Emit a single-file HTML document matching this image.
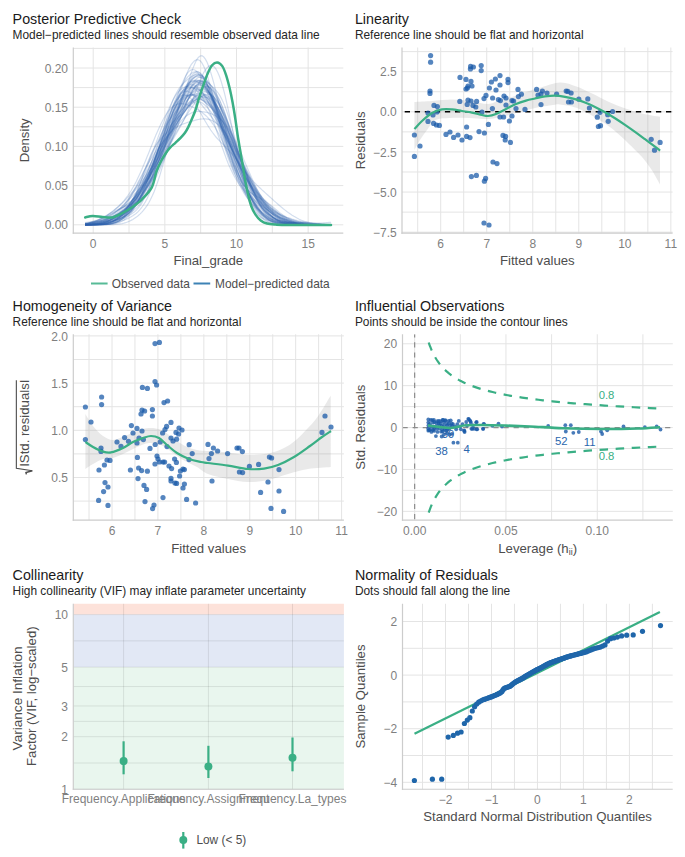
<!DOCTYPE html>
<html><head><meta charset="utf-8"><style>html,body{margin:0;padding:0;background:#fff;overflow:hidden;font-family:"Liberation Sans",sans-serif;} svg{display:block;}</style></head>
<body><svg width="685" height="857" viewBox="0 0 685 857" font-family="&quot;Liberation Sans&quot;, sans-serif"><text x="12.60" y="23.60" font-size="14.3" fill="#1a1a1a" text-anchor="start" >Posterior Predictive Check</text>
<text x="12.60" y="38.80" font-size="11.9" fill="#262626" text-anchor="start" >Model−predicted lines should resemble observed data line</text>
<text x="354.90" y="23.60" font-size="14.3" fill="#1a1a1a" text-anchor="start" >Linearity</text>
<text x="354.90" y="38.80" font-size="11.9" fill="#262626" text-anchor="start" >Reference line should be flat and horizontal</text>
<text x="12.60" y="310.60" font-size="14.3" fill="#1a1a1a" text-anchor="start" >Homogeneity of Variance</text>
<text x="12.60" y="325.80" font-size="11.9" fill="#262626" text-anchor="start" >Reference line should be flat and horizontal</text>
<text x="354.90" y="310.60" font-size="14.3" fill="#1a1a1a" text-anchor="start" >Influential Observations</text>
<text x="354.90" y="325.80" font-size="11.9" fill="#262626" text-anchor="start" >Points should be inside the contour lines</text>
<text x="12.60" y="580.00" font-size="14.3" fill="#1a1a1a" text-anchor="start" >Collinearity</text>
<text x="12.60" y="595.20" font-size="11.9" fill="#262626" text-anchor="start" >High collinearity (VIF) may inflate parameter uncertainty</text>
<text x="354.90" y="580.00" font-size="14.3" fill="#1a1a1a" text-anchor="start" >Normality of Residuals</text>
<text x="354.90" y="595.20" font-size="11.9" fill="#262626" text-anchor="start" >Dots should fall along the line</text>
<rect x="73.3" y="603.75" width="270.59999999999997" height="10.849999999999909" fill="#fde2da"/>
<rect x="73.3" y="614.5999999999999" width="270.59999999999997" height="52.589940242497505" fill="#e2e8f5"/>
<rect x="73.3" y="667.1899402424974" width="270.59999999999997" height="122.06005975750259" fill="#e9f6ee"/>
<line x1="73.30" y1="205.20" x2="343.30" y2="205.20" stroke="#e4e4e4" stroke-width="1" />
<line x1="73.30" y1="166.00" x2="343.30" y2="166.00" stroke="#e4e4e4" stroke-width="1" />
<line x1="73.30" y1="126.80" x2="343.30" y2="126.80" stroke="#e4e4e4" stroke-width="1" />
<line x1="73.30" y1="87.60" x2="343.30" y2="87.60" stroke="#e4e4e4" stroke-width="1" />
<line x1="73.30" y1="48.40" x2="343.30" y2="48.40" stroke="#e4e4e4" stroke-width="1" />
<line x1="73.30" y1="224.80" x2="343.30" y2="224.80" stroke="#e4e4e4" stroke-width="1" />
<line x1="73.30" y1="185.60" x2="343.30" y2="185.60" stroke="#e4e4e4" stroke-width="1" />
<line x1="73.30" y1="146.40" x2="343.30" y2="146.40" stroke="#e4e4e4" stroke-width="1" />
<line x1="73.30" y1="107.20" x2="343.30" y2="107.20" stroke="#e4e4e4" stroke-width="1" />
<line x1="73.30" y1="68.00" x2="343.30" y2="68.00" stroke="#e4e4e4" stroke-width="1" />
<line x1="129.03" y1="47.50" x2="129.03" y2="233.20" stroke="#e4e4e4" stroke-width="1" />
<line x1="200.68" y1="47.50" x2="200.68" y2="233.20" stroke="#e4e4e4" stroke-width="1" />
<line x1="272.32" y1="47.50" x2="272.32" y2="233.20" stroke="#e4e4e4" stroke-width="1" />
<line x1="93.20" y1="47.50" x2="93.20" y2="233.20" stroke="#e4e4e4" stroke-width="1" />
<line x1="164.85" y1="47.50" x2="164.85" y2="233.20" stroke="#e4e4e4" stroke-width="1" />
<line x1="236.50" y1="47.50" x2="236.50" y2="233.20" stroke="#e4e4e4" stroke-width="1" />
<line x1="308.15" y1="47.50" x2="308.15" y2="233.20" stroke="#e4e4e4" stroke-width="1" />
<line x1="402.00" y1="212.11" x2="672.60" y2="212.11" stroke="#e4e4e4" stroke-width="1" />
<line x1="402.00" y1="171.99" x2="672.60" y2="171.99" stroke="#e4e4e4" stroke-width="1" />
<line x1="402.00" y1="131.86" x2="672.60" y2="131.86" stroke="#e4e4e4" stroke-width="1" />
<line x1="402.00" y1="91.74" x2="672.60" y2="91.74" stroke="#e4e4e4" stroke-width="1" />
<line x1="402.00" y1="51.61" x2="672.60" y2="51.61" stroke="#e4e4e4" stroke-width="1" />
<line x1="402.00" y1="232.18" x2="672.60" y2="232.18" stroke="#e4e4e4" stroke-width="1" />
<line x1="402.00" y1="192.05" x2="672.60" y2="192.05" stroke="#e4e4e4" stroke-width="1" />
<line x1="402.00" y1="151.93" x2="672.60" y2="151.93" stroke="#e4e4e4" stroke-width="1" />
<line x1="402.00" y1="111.80" x2="672.60" y2="111.80" stroke="#e4e4e4" stroke-width="1" />
<line x1="402.00" y1="71.67" x2="672.60" y2="71.67" stroke="#e4e4e4" stroke-width="1" />
<line x1="417.69" y1="47.50" x2="417.69" y2="233.20" stroke="#e4e4e4" stroke-width="1" />
<line x1="463.71" y1="47.50" x2="463.71" y2="233.20" stroke="#e4e4e4" stroke-width="1" />
<line x1="509.75" y1="47.50" x2="509.75" y2="233.20" stroke="#e4e4e4" stroke-width="1" />
<line x1="555.77" y1="47.50" x2="555.77" y2="233.20" stroke="#e4e4e4" stroke-width="1" />
<line x1="601.81" y1="47.50" x2="601.81" y2="233.20" stroke="#e4e4e4" stroke-width="1" />
<line x1="647.84" y1="47.50" x2="647.84" y2="233.20" stroke="#e4e4e4" stroke-width="1" />
<line x1="440.70" y1="47.50" x2="440.70" y2="233.20" stroke="#e4e4e4" stroke-width="1" />
<line x1="486.73" y1="47.50" x2="486.73" y2="233.20" stroke="#e4e4e4" stroke-width="1" />
<line x1="532.76" y1="47.50" x2="532.76" y2="233.20" stroke="#e4e4e4" stroke-width="1" />
<line x1="578.79" y1="47.50" x2="578.79" y2="233.20" stroke="#e4e4e4" stroke-width="1" />
<line x1="624.82" y1="47.50" x2="624.82" y2="233.20" stroke="#e4e4e4" stroke-width="1" />
<line x1="670.85" y1="47.50" x2="670.85" y2="233.20" stroke="#e4e4e4" stroke-width="1" />
<line x1="73.30" y1="501.10" x2="343.90" y2="501.10" stroke="#e4e4e4" stroke-width="1" />
<line x1="73.30" y1="453.90" x2="343.90" y2="453.90" stroke="#e4e4e4" stroke-width="1" />
<line x1="73.30" y1="406.70" x2="343.90" y2="406.70" stroke="#e4e4e4" stroke-width="1" />
<line x1="73.30" y1="359.50" x2="343.90" y2="359.50" stroke="#e4e4e4" stroke-width="1" />
<line x1="73.30" y1="477.50" x2="343.90" y2="477.50" stroke="#e4e4e4" stroke-width="1" />
<line x1="73.30" y1="430.30" x2="343.90" y2="430.30" stroke="#e4e4e4" stroke-width="1" />
<line x1="73.30" y1="383.10" x2="343.90" y2="383.10" stroke="#e4e4e4" stroke-width="1" />
<line x1="73.30" y1="335.90" x2="343.90" y2="335.90" stroke="#e4e4e4" stroke-width="1" />
<line x1="89.04" y1="334.25" x2="89.04" y2="520.20" stroke="#e4e4e4" stroke-width="1" />
<line x1="134.96" y1="334.25" x2="134.96" y2="520.20" stroke="#e4e4e4" stroke-width="1" />
<line x1="180.88" y1="334.25" x2="180.88" y2="520.20" stroke="#e4e4e4" stroke-width="1" />
<line x1="226.80" y1="334.25" x2="226.80" y2="520.20" stroke="#e4e4e4" stroke-width="1" />
<line x1="272.72" y1="334.25" x2="272.72" y2="520.20" stroke="#e4e4e4" stroke-width="1" />
<line x1="318.64" y1="334.25" x2="318.64" y2="520.20" stroke="#e4e4e4" stroke-width="1" />
<line x1="112.00" y1="334.25" x2="112.00" y2="520.20" stroke="#e4e4e4" stroke-width="1" />
<line x1="157.92" y1="334.25" x2="157.92" y2="520.20" stroke="#e4e4e4" stroke-width="1" />
<line x1="203.84" y1="334.25" x2="203.84" y2="520.20" stroke="#e4e4e4" stroke-width="1" />
<line x1="249.76" y1="334.25" x2="249.76" y2="520.20" stroke="#e4e4e4" stroke-width="1" />
<line x1="295.68" y1="334.25" x2="295.68" y2="520.20" stroke="#e4e4e4" stroke-width="1" />
<line x1="341.60" y1="334.25" x2="341.60" y2="520.20" stroke="#e4e4e4" stroke-width="1" />
<line x1="402.50" y1="490.40" x2="672.80" y2="490.40" stroke="#e4e4e4" stroke-width="1" />
<line x1="402.50" y1="448.50" x2="672.80" y2="448.50" stroke="#e4e4e4" stroke-width="1" />
<line x1="402.50" y1="406.60" x2="672.80" y2="406.60" stroke="#e4e4e4" stroke-width="1" />
<line x1="402.50" y1="364.70" x2="672.80" y2="364.70" stroke="#e4e4e4" stroke-width="1" />
<line x1="402.50" y1="511.35" x2="672.80" y2="511.35" stroke="#e4e4e4" stroke-width="1" />
<line x1="402.50" y1="469.45" x2="672.80" y2="469.45" stroke="#e4e4e4" stroke-width="1" />
<line x1="402.50" y1="427.55" x2="672.80" y2="427.55" stroke="#e4e4e4" stroke-width="1" />
<line x1="402.50" y1="385.65" x2="672.80" y2="385.65" stroke="#e4e4e4" stroke-width="1" />
<line x1="402.50" y1="343.75" x2="672.80" y2="343.75" stroke="#e4e4e4" stroke-width="1" />
<line x1="460.30" y1="334.25" x2="460.30" y2="520.20" stroke="#e4e4e4" stroke-width="1" />
<line x1="551.60" y1="334.25" x2="551.60" y2="520.20" stroke="#e4e4e4" stroke-width="1" />
<line x1="642.90" y1="334.25" x2="642.90" y2="520.20" stroke="#e4e4e4" stroke-width="1" />
<line x1="414.65" y1="334.25" x2="414.65" y2="520.20" stroke="#e4e4e4" stroke-width="1" />
<line x1="505.95" y1="334.25" x2="505.95" y2="520.20" stroke="#e4e4e4" stroke-width="1" />
<line x1="597.25" y1="334.25" x2="597.25" y2="520.20" stroke="#e4e4e4" stroke-width="1" />
<line x1="73.30" y1="789.30" x2="343.90" y2="789.30" stroke="#000" stroke-width="1" stroke-opacity="0.09"/>
<line x1="73.30" y1="736.71" x2="343.90" y2="736.71" stroke="#000" stroke-width="1" stroke-opacity="0.09"/>
<line x1="73.30" y1="705.95" x2="343.90" y2="705.95" stroke="#000" stroke-width="1" stroke-opacity="0.09"/>
<line x1="73.30" y1="667.19" x2="343.90" y2="667.19" stroke="#000" stroke-width="1" stroke-opacity="0.09"/>
<line x1="73.30" y1="614.60" x2="343.90" y2="614.60" stroke="#000" stroke-width="1" stroke-opacity="0.09"/>
<line x1="73.30" y1="763.01" x2="343.90" y2="763.01" stroke="#000" stroke-width="1" stroke-opacity="0.09"/>
<line x1="73.30" y1="721.33" x2="343.90" y2="721.33" stroke="#000" stroke-width="1" stroke-opacity="0.09"/>
<line x1="73.30" y1="686.57" x2="343.90" y2="686.57" stroke="#000" stroke-width="1" stroke-opacity="0.09"/>
<line x1="73.30" y1="640.89" x2="343.90" y2="640.89" stroke="#000" stroke-width="1" stroke-opacity="0.09"/>
<line x1="123.60" y1="603.75" x2="123.60" y2="789.25" stroke="#000" stroke-width="1" stroke-opacity="0.09"/>
<line x1="208.40" y1="603.75" x2="208.40" y2="789.25" stroke="#000" stroke-width="1" stroke-opacity="0.09"/>
<line x1="292.50" y1="603.75" x2="292.50" y2="789.25" stroke="#000" stroke-width="1" stroke-opacity="0.09"/>
<line x1="402.50" y1="755.50" x2="672.70" y2="755.50" stroke="#e4e4e4" stroke-width="1" />
<line x1="402.50" y1="701.90" x2="672.70" y2="701.90" stroke="#e4e4e4" stroke-width="1" />
<line x1="402.50" y1="648.30" x2="672.70" y2="648.30" stroke="#e4e4e4" stroke-width="1" />
<line x1="402.50" y1="782.30" x2="672.70" y2="782.30" stroke="#e4e4e4" stroke-width="1" />
<line x1="402.50" y1="728.70" x2="672.70" y2="728.70" stroke="#e4e4e4" stroke-width="1" />
<line x1="402.50" y1="675.10" x2="672.70" y2="675.10" stroke="#e4e4e4" stroke-width="1" />
<line x1="402.50" y1="621.50" x2="672.70" y2="621.50" stroke="#e4e4e4" stroke-width="1" />
<line x1="422.50" y1="603.75" x2="422.50" y2="789.25" stroke="#e4e4e4" stroke-width="1" />
<line x1="468.48" y1="603.75" x2="468.48" y2="789.25" stroke="#e4e4e4" stroke-width="1" />
<line x1="514.46" y1="603.75" x2="514.46" y2="789.25" stroke="#e4e4e4" stroke-width="1" />
<line x1="560.44" y1="603.75" x2="560.44" y2="789.25" stroke="#e4e4e4" stroke-width="1" />
<line x1="606.42" y1="603.75" x2="606.42" y2="789.25" stroke="#e4e4e4" stroke-width="1" />
<line x1="652.40" y1="603.75" x2="652.40" y2="789.25" stroke="#e4e4e4" stroke-width="1" />
<line x1="445.49" y1="603.75" x2="445.49" y2="789.25" stroke="#e4e4e4" stroke-width="1" />
<line x1="491.47" y1="603.75" x2="491.47" y2="789.25" stroke="#e4e4e4" stroke-width="1" />
<line x1="537.45" y1="603.75" x2="537.45" y2="789.25" stroke="#e4e4e4" stroke-width="1" />
<line x1="583.43" y1="603.75" x2="583.43" y2="789.25" stroke="#e4e4e4" stroke-width="1" />
<line x1="629.41" y1="603.75" x2="629.41" y2="789.25" stroke="#e4e4e4" stroke-width="1" />
<defs><clipPath id="P1"><rect x="73.3" y="47.5" width="270.0" height="185.7"/></clipPath><clipPath id="P2"><rect x="402.0" y="47.5" width="270.6" height="185.7"/></clipPath><clipPath id="P3"><rect x="73.3" y="334.25" width="270.59999999999997" height="185.95000000000005"/></clipPath><clipPath id="P4"><rect x="402.5" y="334.25" width="270.29999999999995" height="185.95000000000005"/></clipPath><clipPath id="P5"><rect x="73.3" y="603.75" width="270.59999999999997" height="185.5"/></clipPath><clipPath id="P6"><rect x="402.5" y="603.75" width="270.20000000000005" height="185.5"/></clipPath></defs>
<g clip-path="url(#P1)" fill="none" stroke="#2d62ad" stroke-opacity="0.21" stroke-width="1.2"><path d="M85.0,224.7 86.8,224.7 88.6,224.7 90.3,224.6 92.1,224.6 93.9,224.5 95.7,224.4 97.4,224.2 99.2,224.1 101.0,223.9 102.7,223.6 104.5,223.3 106.3,222.9 108.0,222.5 109.8,222.0 111.6,221.4 113.4,220.8 115.1,220.0 116.9,219.2 118.7,218.3 120.4,217.2 122.2,216.0 124.0,214.7 125.7,213.1 127.5,211.4 129.3,209.4 131.1,207.1 132.8,204.6 134.6,201.8 136.4,198.8 138.1,195.5 139.9,191.9 141.7,188.3 143.4,184.4 145.2,180.6 147.0,176.7 148.8,172.8 150.5,169.0 152.3,165.3 154.1,161.7 155.8,158.3 157.6,154.9 159.4,151.7 161.1,148.5 162.9,145.5 164.7,142.4 166.5,139.5 168.2,136.5 170.0,133.7 171.8,130.8 173.5,128.0 175.3,125.2 177.1,122.5 178.8,119.8 180.6,117.2 182.4,114.6 184.2,112.0 185.9,109.4 187.7,106.8 189.5,104.2 191.2,101.6 193.0,99.0 194.8,96.5 196.5,94.1 198.3,91.9 200.1,90.0 201.9,88.4 203.6,87.2 205.4,86.5 207.2,86.4 208.9,86.9 210.7,88.1 212.5,90.1 214.3,92.7 216.0,96.0 217.8,100.0 219.6,104.5 221.3,109.5 223.1,114.9 224.9,120.6 226.6,126.4 228.4,132.2 230.2,138.0 232.0,143.5 233.7,148.9 235.5,153.9 237.3,158.7 239.0,163.1 240.8,167.2 242.6,171.1 244.3,174.7 246.1,178.1 247.9,181.3 249.7,184.4 251.4,187.4 253.2,190.4 255.0,193.3 256.7,196.2 258.5,199.0 260.3,201.7 262.0,204.4 263.8,206.9 265.6,209.3 267.4,211.6 269.1,213.6 270.9,215.5 272.7,217.2 274.4,218.6 276.2,219.9 278.0,220.9 279.7,221.8 281.5,222.5 283.3,223.1 285.1,223.5 286.8,223.9 288.6,224.1 290.4,224.3 292.1,224.5 293.9,224.6 295.7,224.7 297.4,224.7 299.2,224.7 301.0,224.8 302.8,224.8 304.5,224.8 306.3,224.8 308.1,224.8 309.8,224.8 311.6,224.8 313.4,224.8 315.1,224.8 316.9,224.8 318.7,224.8 320.5,224.8 322.2,224.8 324.0,224.8 325.8,224.8 327.5,224.8 329.3,224.8 331.1,224.8"/><path d="M85.0,224.3 86.8,224.1 88.6,224.0 90.3,223.8 92.1,223.7 93.9,223.5 95.7,223.3 97.4,223.1 99.2,222.8 101.0,222.6 102.7,222.4 104.5,222.2 106.3,222.0 108.0,221.7 109.8,221.5 111.6,221.2 113.4,220.8 115.1,220.4 116.9,219.9 118.7,219.2 120.4,218.4 122.2,217.4 124.0,216.2 125.7,214.7 127.5,213.0 129.3,211.0 131.1,208.7 132.8,206.1 134.6,203.3 136.4,200.1 138.1,196.7 139.9,193.1 141.7,189.3 143.4,185.3 145.2,181.2 147.0,177.0 148.8,172.7 150.5,168.5 152.3,164.2 154.1,160.0 155.8,155.9 157.6,151.8 159.4,147.9 161.1,144.0 162.9,140.3 164.7,136.8 166.5,133.3 168.2,130.1 170.0,127.0 171.8,124.0 173.5,121.2 175.3,118.6 177.1,116.1 178.8,113.7 180.6,111.6 182.4,109.6 184.2,107.7 185.9,106.0 187.7,104.5 189.5,103.1 191.2,102.0 193.0,101.0 194.8,100.3 196.5,99.8 198.3,99.5 200.1,99.5 201.9,99.8 203.6,100.4 205.4,101.2 207.2,102.3 208.9,103.6 210.7,105.2 212.5,107.1 214.3,109.2 216.0,111.5 217.8,114.1 219.6,116.8 221.3,119.8 223.1,123.0 224.9,126.4 226.6,129.9 228.4,133.6 230.2,137.5 232.0,141.6 233.7,145.7 235.5,149.9 237.3,154.2 239.0,158.5 240.8,162.7 242.6,166.9 244.3,171.1 246.1,175.0 247.9,178.8 249.7,182.5 251.4,185.9 253.2,189.1 255.0,192.1 256.7,194.9 258.5,197.5 260.3,199.9 262.0,202.1 263.8,204.2 265.6,206.0 267.4,207.8 269.1,209.4 270.9,210.9 272.7,212.3 274.4,213.6 276.2,214.8 278.0,215.9 279.7,216.9 281.5,217.9 283.3,218.8 285.1,219.6 286.8,220.3 288.6,221.0 290.4,221.6 292.1,222.1 293.9,222.6 295.7,223.0 297.4,223.3 299.2,223.6 301.0,223.9 302.8,224.1 304.5,224.2 306.3,224.4 308.1,224.5 309.8,224.6 311.6,224.6 313.4,224.7 315.1,224.7 316.9,224.7 318.7,224.8 320.5,224.8 322.2,224.8 324.0,224.8 325.8,224.8 327.5,224.8 329.3,224.8 331.1,224.8"/><path d="M85.0,224.8 86.8,224.8 88.6,224.8 90.3,224.8 92.1,224.7 93.9,224.7 95.7,224.6 97.4,224.6 99.2,224.5 101.0,224.3 102.7,224.2 104.5,223.9 106.3,223.6 108.0,223.2 109.8,222.6 111.6,222.0 113.4,221.1 115.1,220.1 116.9,218.9 118.7,217.5 120.4,215.9 122.2,214.1 124.0,212.0 125.7,209.8 127.5,207.3 129.3,204.7 131.1,202.0 132.8,199.2 134.6,196.4 136.4,193.5 138.1,190.7 139.9,188.0 141.7,185.3 143.4,182.7 145.2,180.3 147.0,177.8 148.8,175.4 150.5,173.1 152.3,170.6 154.1,168.1 155.8,165.5 157.6,162.6 159.4,159.6 161.1,156.4 162.9,152.9 164.7,149.2 166.5,145.3 168.2,141.3 170.0,137.1 171.8,132.8 173.5,128.5 175.3,124.1 177.1,119.6 178.8,115.2 180.6,110.8 182.4,106.4 184.2,102.1 185.9,97.8 187.7,93.8 189.5,89.9 191.2,86.4 193.0,83.3 194.8,80.7 196.5,78.7 198.3,77.5 200.1,77.1 201.9,77.5 203.6,78.8 205.4,80.9 207.2,83.9 208.9,87.5 210.7,91.7 212.5,96.3 214.3,101.2 216.0,106.3 217.8,111.5 219.6,116.7 221.3,121.7 223.1,126.6 224.9,131.3 226.6,135.8 228.4,140.2 230.2,144.4 232.0,148.5 233.7,152.5 235.5,156.5 237.3,160.4 239.0,164.2 240.8,168.0 242.6,171.8 244.3,175.5 246.1,179.1 247.9,182.6 249.7,186.0 251.4,189.4 253.2,192.6 255.0,195.7 256.7,198.6 258.5,201.4 260.3,204.1 262.0,206.6 263.8,208.9 265.6,211.0 267.4,213.0 269.1,214.8 270.9,216.4 272.7,217.8 274.4,219.1 276.2,220.1 278.0,221.1 279.7,221.8 281.5,222.5 283.3,223.0 285.1,223.4 286.8,223.8 288.6,224.1 290.4,224.3 292.1,224.4 293.9,224.5 295.7,224.6 297.4,224.7 299.2,224.7 301.0,224.7 302.8,224.8 304.5,224.8 306.3,224.8 308.1,224.8 309.8,224.8 311.6,224.8 313.4,224.8 315.1,224.8 316.9,224.8 318.7,224.8 320.5,224.8 322.2,224.8 324.0,224.8 325.8,224.8 327.5,224.8 329.3,224.8 331.1,224.8"/><path d="M85.0,224.8 86.8,224.8 88.6,224.8 90.3,224.8 92.1,224.8 93.9,224.8 95.7,224.8 97.4,224.7 99.2,224.7 101.0,224.7 102.7,224.6 104.5,224.5 106.3,224.3 108.0,224.1 109.8,223.9 111.6,223.5 113.4,223.1 115.1,222.5 116.9,221.9 118.7,221.0 120.4,220.0 122.2,218.8 124.0,217.5 125.7,215.9 127.5,214.2 129.3,212.3 131.1,210.3 132.8,208.1 134.6,205.8 136.4,203.4 138.1,201.0 139.9,198.4 141.7,195.7 143.4,193.0 145.2,190.1 147.0,187.1 148.8,184.0 150.5,180.7 152.3,177.2 154.1,173.5 155.8,169.5 157.6,165.3 159.4,160.9 161.1,156.3 162.9,151.5 164.7,146.6 166.5,141.5 168.2,136.4 170.0,131.2 171.8,126.1 173.5,121.0 175.3,116.0 177.1,111.2 178.8,106.5 180.6,102.1 182.4,98.0 184.2,94.2 185.9,90.8 187.7,87.9 189.5,85.5 191.2,83.6 193.0,82.3 194.8,81.6 196.5,81.4 198.3,81.8 200.1,82.7 201.9,84.1 203.6,85.9 205.4,88.1 207.2,90.5 208.9,93.2 210.7,96.0 212.5,99.0 214.3,102.1 216.0,105.2 217.8,108.3 219.6,111.5 221.3,114.7 223.1,118.0 224.9,121.3 226.6,124.8 228.4,128.4 230.2,132.2 232.0,136.1 233.7,140.2 235.5,144.4 237.3,148.8 239.0,153.3 240.8,158.0 242.6,162.7 244.3,167.5 246.1,172.2 247.9,177.0 249.7,181.7 251.4,186.3 253.2,190.8 255.0,195.0 256.7,199.0 258.5,202.7 260.3,206.2 262.0,209.3 263.8,212.0 265.6,214.5 267.4,216.5 269.1,218.3 270.9,219.8 272.7,221.0 274.4,221.9 276.2,222.7 278.0,223.3 279.7,223.7 281.5,224.0 283.3,224.3 285.1,224.4 286.8,224.6 288.6,224.6 290.4,224.7 292.1,224.7 293.9,224.8 295.7,224.8 297.4,224.8 299.2,224.8 301.0,224.8 302.8,224.8 304.5,224.8 306.3,224.8 308.1,224.8 309.8,224.8 311.6,224.8 313.4,224.8 315.1,224.8 316.9,224.8 318.7,224.8 320.5,224.8 322.2,224.8 324.0,224.8 325.8,224.8 327.5,224.8 329.3,224.8 331.1,224.8"/><path d="M85.0,224.8 86.8,224.8 88.6,224.8 90.3,224.8 92.1,224.7 93.9,224.7 95.7,224.6 97.4,224.6 99.2,224.5 101.0,224.3 102.7,224.1 104.5,223.9 106.3,223.6 108.0,223.2 109.8,222.7 111.6,222.1 113.4,221.4 115.1,220.5 116.9,219.5 118.7,218.3 120.4,217.0 122.2,215.4 124.0,213.8 125.7,212.0 127.5,210.0 129.3,207.9 131.1,205.7 132.8,203.5 134.6,201.2 136.4,198.8 138.1,196.5 139.9,194.1 141.7,191.7 143.4,189.3 145.2,186.9 147.0,184.5 148.8,182.1 150.5,179.5 152.3,176.8 154.1,174.0 155.8,171.0 157.6,167.8 159.4,164.4 161.1,160.8 162.9,156.9 164.7,152.9 166.5,148.7 168.2,144.5 170.0,140.1 171.8,135.7 173.5,131.3 175.3,126.9 177.1,122.6 178.8,118.4 180.6,114.3 182.4,110.4 184.2,106.7 185.9,103.3 187.7,100.0 189.5,97.1 191.2,94.5 193.0,92.2 194.8,90.3 196.5,88.9 198.3,88.0 200.1,87.5 201.9,87.5 203.6,88.0 205.4,89.0 207.2,90.5 208.9,92.4 210.7,94.7 212.5,97.4 214.3,100.4 216.0,103.7 217.8,107.2 219.6,111.0 221.3,114.8 223.1,118.8 224.9,122.8 226.6,126.8 228.4,130.8 230.2,134.8 232.0,138.8 233.7,142.7 235.5,146.5 237.3,150.3 239.0,154.0 240.8,157.7 242.6,161.3 244.3,165.0 246.1,168.7 247.9,172.3 249.7,176.0 251.4,179.8 253.2,183.5 255.0,187.1 256.7,190.8 258.5,194.3 260.3,197.6 262.0,200.8 263.8,203.8 265.6,206.6 267.4,209.0 269.1,211.3 270.9,213.2 272.7,214.9 274.4,216.4 276.2,217.7 278.0,218.8 279.7,219.7 281.5,220.5 283.3,221.1 285.1,221.7 286.8,222.2 288.6,222.6 290.4,223.0 292.1,223.3 293.9,223.6 295.7,223.8 297.4,224.0 299.2,224.2 301.0,224.3 302.8,224.4 304.5,224.5 306.3,224.6 308.1,224.6 309.8,224.7 311.6,224.7 313.4,224.7 315.1,224.8 316.9,224.8 318.7,224.8 320.5,224.8 322.2,224.8 324.0,224.8 325.8,224.8 327.5,224.8 329.3,224.8 331.1,224.8"/><path d="M85.0,224.8 86.8,224.8 88.6,224.8 90.3,224.8 92.1,224.8 93.9,224.8 95.7,224.8 97.4,224.8 99.2,224.8 101.0,224.8 102.7,224.7 104.5,224.7 106.3,224.6 108.0,224.5 109.8,224.4 111.6,224.2 113.4,224.0 115.1,223.7 116.9,223.2 118.7,222.6 120.4,221.9 122.2,221.0 124.0,219.9 125.7,218.5 127.5,216.9 129.3,215.1 131.1,212.9 132.8,210.5 134.6,207.8 136.4,204.8 138.1,201.6 139.9,198.1 141.7,194.4 143.4,190.5 145.2,186.3 147.0,181.9 148.8,177.4 150.5,172.7 152.3,167.8 154.1,162.8 155.8,157.6 157.6,152.3 159.4,146.9 161.1,141.4 162.9,135.9 164.7,130.3 166.5,124.8 168.2,119.4 170.0,114.2 171.8,109.1 173.5,104.3 175.3,99.8 177.1,95.5 178.8,91.6 180.6,88.0 182.4,84.7 184.2,81.8 185.9,79.2 187.7,77.0 189.5,75.1 191.2,73.5 193.0,72.4 194.8,71.8 196.5,71.6 198.3,72.0 200.1,73.1 201.9,74.8 203.6,77.2 205.4,80.2 207.2,84.0 208.9,88.3 210.7,93.1 212.5,98.4 214.3,104.0 216.0,109.8 217.8,115.7 219.6,121.6 221.3,127.5 223.1,133.2 224.9,138.8 226.6,144.1 228.4,149.2 230.2,154.0 232.0,158.7 233.7,163.0 235.5,167.2 237.3,171.1 239.0,174.8 240.8,178.3 242.6,181.8 244.3,185.0 246.1,188.2 247.9,191.4 249.7,194.4 251.4,197.4 253.2,200.3 255.0,203.1 256.7,205.8 258.5,208.4 260.3,210.8 262.0,213.0 263.8,215.1 265.6,216.9 267.4,218.4 269.1,219.8 270.9,220.9 272.7,221.8 274.4,222.6 276.2,223.2 278.0,223.6 279.7,224.0 281.5,224.2 283.3,224.4 285.1,224.5 286.8,224.6 288.6,224.7 290.4,224.7 292.1,224.8 293.9,224.8 295.7,224.8 297.4,224.8 299.2,224.8 301.0,224.8 302.8,224.8 304.5,224.8 306.3,224.8 308.1,224.8 309.8,224.8 311.6,224.8 313.4,224.8 315.1,224.8 316.9,224.8 318.7,224.8 320.5,224.8 322.2,224.8 324.0,224.8 325.8,224.8 327.5,224.8 329.3,224.8 331.1,224.8"/><path d="M85.0,224.7 86.8,224.7 88.6,224.6 90.3,224.6 92.1,224.5 93.9,224.4 95.7,224.2 97.4,224.0 99.2,223.7 101.0,223.4 102.7,223.0 104.5,222.5 106.3,221.9 108.0,221.2 109.8,220.4 111.6,219.5 113.4,218.4 115.1,217.2 116.9,215.9 118.7,214.5 120.4,213.0 122.2,211.4 124.0,209.7 125.7,207.9 127.5,206.0 129.3,204.0 131.1,201.9 132.8,199.8 134.6,197.6 136.4,195.2 138.1,192.8 139.9,190.2 141.7,187.4 143.4,184.5 145.2,181.4 147.0,178.1 148.8,174.5 150.5,170.7 152.3,166.7 154.1,162.4 155.8,157.8 157.6,153.1 159.4,148.2 161.1,143.2 162.9,138.1 164.7,133.1 166.5,128.1 168.2,123.3 170.0,118.7 171.8,114.4 173.5,110.5 175.3,107.0 177.1,103.9 178.8,101.3 180.6,99.2 182.4,97.5 184.2,96.3 185.9,95.4 187.7,95.0 189.5,94.9 191.2,95.1 193.0,95.5 194.8,96.1 196.5,96.8 198.3,97.7 200.1,98.7 201.9,99.8 203.6,101.0 205.4,102.3 207.2,103.7 208.9,105.2 210.7,106.9 212.5,108.8 214.3,110.9 216.0,113.3 217.8,116.0 219.6,119.0 221.3,122.3 223.1,125.9 224.9,129.8 226.6,134.0 228.4,138.5 230.2,143.1 232.0,147.8 233.7,152.6 235.5,157.4 237.3,162.1 239.0,166.6 240.8,171.0 242.6,175.2 244.3,179.1 246.1,182.8 247.9,186.2 249.7,189.4 251.4,192.4 253.2,195.2 255.0,197.7 256.7,200.2 258.5,202.5 260.3,204.6 262.0,206.7 263.8,208.7 265.6,210.5 267.4,212.3 269.1,213.9 270.9,215.4 272.7,216.8 274.4,218.1 276.2,219.2 278.0,220.2 279.7,221.1 281.5,221.8 283.3,222.5 285.1,223.0 286.8,223.4 288.6,223.7 290.4,224.0 292.1,224.2 293.9,224.4 295.7,224.5 297.4,224.6 299.2,224.7 301.0,224.7 302.8,224.7 304.5,224.8 306.3,224.8 308.1,224.8 309.8,224.8 311.6,224.8 313.4,224.8 315.1,224.8 316.9,224.8 318.7,224.8 320.5,224.8 322.2,224.8 324.0,224.8 325.8,224.8 327.5,224.8 329.3,224.8 331.1,224.8"/><path d="M85.0,224.8 86.8,224.8 88.6,224.8 90.3,224.8 92.1,224.8 93.9,224.8 95.7,224.8 97.4,224.7 99.2,224.7 101.0,224.6 102.7,224.6 104.5,224.4 106.3,224.3 108.0,224.0 109.8,223.7 111.6,223.3 113.4,222.8 115.1,222.1 116.9,221.3 118.7,220.3 120.4,219.1 122.2,217.7 124.0,216.2 125.7,214.4 127.5,212.5 129.3,210.5 131.1,208.3 132.8,206.1 134.6,203.8 136.4,201.5 138.1,199.1 139.9,196.8 141.7,194.4 143.4,192.0 145.2,189.5 147.0,186.9 148.8,184.3 150.5,181.5 152.3,178.5 154.1,175.4 155.8,172.1 157.6,168.8 159.4,165.3 161.1,161.8 162.9,158.3 164.7,154.7 166.5,151.3 168.2,148.0 170.0,144.7 171.8,141.5 173.5,138.5 175.3,135.4 177.1,132.4 178.8,129.3 180.6,126.2 182.4,122.8 184.2,119.3 185.9,115.6 187.7,111.7 189.5,107.5 191.2,103.1 193.0,98.6 194.8,93.9 196.5,89.3 198.3,84.7 200.1,80.4 201.9,76.4 203.6,72.9 205.4,69.9 207.2,67.6 208.9,66.1 210.7,65.4 212.5,65.6 214.3,66.9 216.0,69.1 217.8,72.4 219.6,76.7 221.3,81.9 223.1,88.0 224.9,94.9 226.6,102.4 228.4,110.4 230.2,118.7 232.0,127.2 233.7,135.7 235.5,144.1 237.3,152.2 239.0,159.9 240.8,167.1 242.6,173.9 244.3,180.1 246.1,185.7 247.9,190.7 249.7,195.2 251.4,199.2 253.2,202.7 255.0,205.8 256.7,208.4 258.5,210.7 260.3,212.6 262.0,214.3 263.8,215.7 265.6,216.8 267.4,217.8 269.1,218.5 270.9,219.2 272.7,219.7 274.4,220.0 276.2,220.4 278.0,220.6 279.7,220.8 281.5,221.0 283.3,221.2 285.1,221.4 286.8,221.5 288.6,221.8 290.4,222.0 292.1,222.2 293.9,222.5 295.7,222.7 297.4,223.0 299.2,223.3 301.0,223.5 302.8,223.7 304.5,223.9 306.3,224.1 308.1,224.3 309.8,224.4 311.6,224.5 313.4,224.6 315.1,224.6 316.9,224.7 318.7,224.7 320.5,224.7 322.2,224.8 324.0,224.8 325.8,224.8 327.5,224.8 329.3,224.8 331.1,224.8"/><path d="M85.0,224.8 86.8,224.8 88.6,224.8 90.3,224.7 92.1,224.7 93.9,224.7 95.7,224.6 97.4,224.5 99.2,224.4 101.0,224.3 102.7,224.1 104.5,223.8 106.3,223.5 108.0,223.1 109.8,222.6 111.6,222.0 113.4,221.2 115.1,220.3 116.9,219.3 118.7,218.1 120.4,216.7 122.2,215.2 124.0,213.5 125.7,211.6 127.5,209.6 129.3,207.4 131.1,205.1 132.8,202.6 134.6,200.0 136.4,197.4 138.1,194.6 139.9,191.8 141.7,188.9 143.4,185.9 145.2,182.9 147.0,179.8 148.8,176.7 150.5,173.5 152.3,170.2 154.1,166.9 155.8,163.5 157.6,160.1 159.4,156.6 161.1,153.1 162.9,149.5 164.7,146.0 166.5,142.3 168.2,138.7 170.0,135.0 171.8,131.2 173.5,127.3 175.3,123.4 177.1,119.4 178.8,115.2 180.6,111.0 182.4,106.8 184.2,102.6 185.9,98.5 187.7,94.5 189.5,90.9 191.2,87.7 193.0,85.0 194.8,82.8 196.5,81.4 198.3,80.6 200.1,80.6 201.9,81.4 203.6,82.9 205.4,85.0 207.2,87.8 208.9,91.2 210.7,95.0 212.5,99.1 214.3,103.6 216.0,108.2 217.8,112.9 219.6,117.6 221.3,122.4 223.1,127.1 224.9,131.7 226.6,136.2 228.4,140.7 230.2,145.0 232.0,149.2 233.7,153.3 235.5,157.3 237.3,161.2 239.0,165.0 240.8,168.8 242.6,172.4 244.3,176.0 246.1,179.4 247.9,182.7 249.7,185.9 251.4,188.9 253.2,191.7 255.0,194.4 256.7,197.0 258.5,199.4 260.3,201.6 262.0,203.7 263.8,205.7 265.6,207.5 267.4,209.2 269.1,210.7 270.9,212.2 272.7,213.6 274.4,214.8 276.2,216.0 278.0,217.1 279.7,218.1 281.5,219.0 283.3,219.8 285.1,220.6 286.8,221.2 288.6,221.8 290.4,222.4 292.1,222.8 293.9,223.2 295.7,223.5 297.4,223.8 299.2,224.0 301.0,224.2 302.8,224.3 304.5,224.5 306.3,224.6 308.1,224.6 309.8,224.7 311.6,224.7 313.4,224.7 315.1,224.8 316.9,224.8 318.7,224.8 320.5,224.8 322.2,224.8 324.0,224.8 325.8,224.8 327.5,224.8 329.3,224.8 331.1,224.8"/><path d="M85.0,222.6 86.8,222.4 88.6,222.2 90.3,222.0 92.1,221.9 93.9,221.8 95.7,221.7 97.4,221.6 99.2,221.5 101.0,221.4 102.7,221.3 104.5,221.1 106.3,220.9 108.0,220.6 109.8,220.3 111.6,219.8 113.4,219.2 115.1,218.5 116.9,217.6 118.7,216.6 120.4,215.3 122.2,213.9 124.0,212.2 125.7,210.3 127.5,208.1 129.3,205.8 131.1,203.2 132.8,200.5 134.6,197.6 136.4,194.6 138.1,191.6 139.9,188.5 141.7,185.4 143.4,182.4 145.2,179.4 147.0,176.4 148.8,173.4 150.5,170.4 152.3,167.4 154.1,164.4 155.8,161.2 157.6,157.9 159.4,154.5 161.1,150.9 162.9,147.2 164.7,143.4 166.5,139.5 168.2,135.5 170.0,131.5 171.8,127.5 173.5,123.5 175.3,119.5 177.1,115.7 178.8,111.9 180.6,108.2 182.4,104.7 184.2,101.3 185.9,98.1 187.7,95.2 189.5,92.5 191.2,90.2 193.0,88.2 194.8,86.6 196.5,85.5 198.3,84.8 200.1,84.6 201.9,85.0 203.6,85.8 205.4,87.2 207.2,89.2 208.9,91.6 210.7,94.6 212.5,98.1 214.3,102.0 216.0,106.4 217.8,111.2 219.6,116.2 221.3,121.6 223.1,127.1 224.9,132.8 226.6,138.4 228.4,144.1 230.2,149.7 232.0,155.1 233.7,160.3 235.5,165.2 237.3,169.9 239.0,174.3 240.8,178.3 242.6,182.1 244.3,185.5 246.1,188.7 247.9,191.5 249.7,194.1 251.4,196.4 253.2,198.5 255.0,200.4 256.7,202.0 258.5,203.6 260.3,205.0 262.0,206.2 263.8,207.4 265.6,208.6 267.4,209.7 269.1,210.8 270.9,211.8 272.7,212.9 274.4,213.9 276.2,215.0 278.0,216.0 279.7,217.0 281.5,218.0 283.3,218.9 285.1,219.7 286.8,220.5 288.6,221.2 290.4,221.9 292.1,222.4 293.9,222.9 295.7,223.3 297.4,223.7 299.2,223.9 301.0,224.2 302.8,224.3 304.5,224.5 306.3,224.6 308.1,224.6 309.8,224.7 311.6,224.7 313.4,224.7 315.1,224.8 316.9,224.8 318.7,224.8 320.5,224.8 322.2,224.8 324.0,224.8 325.8,224.8 327.5,224.8 329.3,224.8 331.1,224.8"/><path d="M85.0,223.8 86.8,223.5 88.6,223.3 90.3,223.0 92.1,222.6 93.9,222.3 95.7,221.9 97.4,221.4 99.2,221.0 101.0,220.6 102.7,220.2 104.5,219.7 106.3,219.3 108.0,218.9 109.8,218.5 111.6,218.0 113.4,217.6 115.1,217.1 116.9,216.6 118.7,216.0 120.4,215.3 122.2,214.6 124.0,213.8 125.7,212.9 127.5,211.9 129.3,210.7 131.1,209.4 132.8,208.1 134.6,206.6 136.4,205.0 138.1,203.2 139.9,201.4 141.7,199.4 143.4,197.3 145.2,195.1 147.0,192.7 148.8,190.1 150.5,187.4 152.3,184.4 154.1,181.3 155.8,177.9 157.6,174.3 159.4,170.4 161.1,166.4 162.9,162.1 164.7,157.6 166.5,152.9 168.2,148.1 170.0,143.2 171.8,138.2 173.5,133.3 175.3,128.4 177.1,123.6 178.8,119.0 180.6,114.6 182.4,110.5 184.2,106.8 185.9,103.4 187.7,100.4 189.5,97.8 191.2,95.7 193.0,93.9 194.8,92.6 196.5,91.6 198.3,90.9 200.1,90.6 201.9,90.6 203.6,90.9 205.4,91.4 207.2,92.1 208.9,93.0 210.7,94.2 212.5,95.6 214.3,97.4 216.0,99.4 217.8,101.7 219.6,104.4 221.3,107.5 223.1,110.9 224.9,114.8 226.6,119.0 228.4,123.5 230.2,128.3 232.0,133.4 233.7,138.5 235.5,143.8 237.3,149.1 239.0,154.2 240.8,159.3 242.6,164.2 244.3,168.9 246.1,173.3 247.9,177.4 249.7,181.3 251.4,184.8 253.2,188.1 255.0,191.0 256.7,193.7 258.5,196.2 260.3,198.4 262.0,200.4 263.8,202.3 265.6,204.0 267.4,205.6 269.1,207.0 270.9,208.4 272.7,209.8 274.4,211.0 276.2,212.2 278.0,213.4 279.7,214.6 281.5,215.7 283.3,216.7 285.1,217.7 286.8,218.6 288.6,219.5 290.4,220.3 292.1,221.0 293.9,221.6 295.7,222.2 297.4,222.7 299.2,223.1 301.0,223.4 302.8,223.7 304.5,224.0 306.3,224.2 308.1,224.3 309.8,224.4 311.6,224.5 313.4,224.6 315.1,224.7 316.9,224.7 318.7,224.7 320.5,224.8 322.2,224.8 324.0,224.8 325.8,224.8 327.5,224.8 329.3,224.8 331.1,224.8"/><path d="M85.0,224.8 86.8,224.7 88.6,224.7 90.3,224.7 92.1,224.6 93.9,224.5 95.7,224.5 97.4,224.4 99.2,224.2 101.0,224.0 102.7,223.8 104.5,223.6 106.3,223.3 108.0,223.0 109.8,222.6 111.6,222.1 113.4,221.6 115.1,221.0 116.9,220.3 118.7,219.6 120.4,218.7 122.2,217.7 124.0,216.6 125.7,215.4 127.5,214.0 129.3,212.4 131.1,210.7 132.8,208.8 134.6,206.8 136.4,204.6 138.1,202.3 139.9,199.8 141.7,197.2 143.4,194.4 145.2,191.6 147.0,188.7 148.8,185.6 150.5,182.5 152.3,179.4 154.1,176.1 155.8,172.8 157.6,169.4 159.4,166.0 161.1,162.4 162.9,158.8 164.7,155.2 166.5,151.4 168.2,147.6 170.0,143.7 171.8,139.6 173.5,135.5 175.3,131.3 177.1,126.9 178.8,122.5 180.6,118.1 182.4,113.6 184.2,109.2 185.9,104.9 187.7,100.7 189.5,96.8 191.2,93.3 193.0,90.2 194.8,87.6 196.5,85.5 198.3,84.0 200.1,83.1 201.9,82.8 203.6,83.1 205.4,83.9 207.2,85.2 208.9,87.0 210.7,89.2 212.5,91.7 214.3,94.4 216.0,97.5 217.8,100.7 219.6,104.2 221.3,107.8 223.1,111.7 224.9,115.8 226.6,120.1 228.4,124.6 230.2,129.3 232.0,134.1 233.7,139.0 235.5,144.0 237.3,148.9 239.0,153.8 240.8,158.6 242.6,163.2 244.3,167.6 246.1,171.8 247.9,175.7 249.7,179.3 251.4,182.7 253.2,185.9 255.0,188.9 256.7,191.7 258.5,194.4 260.3,196.9 262.0,199.3 263.8,201.6 265.6,203.9 267.4,206.0 269.1,208.1 270.9,210.1 272.7,212.0 274.4,213.7 276.2,215.4 278.0,216.9 279.7,218.2 281.5,219.4 283.3,220.4 285.1,221.3 286.8,222.1 288.6,222.7 290.4,223.2 292.1,223.6 293.9,223.9 295.7,224.1 297.4,224.3 299.2,224.5 301.0,224.6 302.8,224.6 304.5,224.7 306.3,224.7 308.1,224.8 309.8,224.8 311.6,224.8 313.4,224.8 315.1,224.8 316.9,224.8 318.7,224.8 320.5,224.8 322.2,224.8 324.0,224.8 325.8,224.8 327.5,224.8 329.3,224.8 331.1,224.8"/><path d="M85.0,224.6 86.8,224.6 88.6,224.5 90.3,224.3 92.1,224.2 93.9,223.9 95.7,223.6 97.4,223.3 99.2,222.9 101.0,222.4 102.7,221.8 104.5,221.2 106.3,220.5 108.0,219.7 109.8,218.9 111.6,218.1 113.4,217.3 115.1,216.5 116.9,215.7 118.7,214.9 120.4,214.2 122.2,213.4 124.0,212.7 125.7,211.9 127.5,211.1 129.3,210.1 131.1,209.0 132.8,207.7 134.6,206.2 136.4,204.4 138.1,202.2 139.9,199.6 141.7,196.7 143.4,193.3 145.2,189.5 147.0,185.2 148.8,180.6 150.5,175.6 152.3,170.3 154.1,164.8 155.8,159.0 157.6,153.3 159.4,147.5 161.1,141.8 162.9,136.3 164.7,131.1 166.5,126.3 168.2,121.8 170.0,117.6 171.8,113.8 173.5,110.4 175.3,107.3 177.1,104.4 178.8,101.8 180.6,99.3 182.4,96.9 184.2,94.5 185.9,92.3 187.7,90.1 189.5,88.1 191.2,86.2 193.0,84.5 194.8,83.0 196.5,81.9 198.3,81.1 200.1,80.8 201.9,81.1 203.6,81.8 205.4,83.1 207.2,85.0 208.9,87.5 210.7,90.5 212.5,94.1 214.3,98.1 216.0,102.6 217.8,107.4 219.6,112.5 221.3,117.8 223.1,123.3 224.9,128.9 226.6,134.5 228.4,140.1 230.2,145.6 232.0,151.0 233.7,156.2 235.5,161.2 237.3,166.1 239.0,170.7 240.8,175.1 242.6,179.4 244.3,183.5 246.1,187.4 247.9,191.1 249.7,194.8 251.4,198.2 253.2,201.5 255.0,204.6 256.7,207.5 258.5,210.2 260.3,212.6 262.0,214.8 263.8,216.7 265.6,218.3 267.4,219.7 269.1,220.9 270.9,221.8 272.7,222.6 274.4,223.2 276.2,223.6 278.0,224.0 279.7,224.2 281.5,224.4 283.3,224.5 285.1,224.6 286.8,224.7 288.6,224.7 290.4,224.8 292.1,224.8 293.9,224.8 295.7,224.8 297.4,224.8 299.2,224.8 301.0,224.8 302.8,224.8 304.5,224.8 306.3,224.8 308.1,224.8 309.8,224.8 311.6,224.8 313.4,224.8 315.1,224.8 316.9,224.8 318.7,224.8 320.5,224.8 322.2,224.8 324.0,224.8 325.8,224.8 327.5,224.8 329.3,224.8 331.1,224.8"/><path d="M85.0,224.7 86.8,224.7 88.6,224.6 90.3,224.6 92.1,224.5 93.9,224.4 95.7,224.3 97.4,224.2 99.2,224.0 101.0,223.8 102.7,223.6 104.5,223.3 106.3,223.0 108.0,222.6 109.8,222.2 111.6,221.8 113.4,221.2 115.1,220.7 116.9,220.0 118.7,219.3 120.4,218.4 122.2,217.5 124.0,216.4 125.7,215.2 127.5,213.8 129.3,212.2 131.1,210.4 132.8,208.4 134.6,206.2 136.4,203.7 138.1,201.0 139.9,198.0 141.7,194.8 143.4,191.4 145.2,187.8 147.0,184.0 148.8,180.1 150.5,176.0 152.3,171.8 154.1,167.5 155.8,163.1 157.6,158.7 159.4,154.2 161.1,149.7 162.9,145.1 164.7,140.5 166.5,135.9 168.2,131.4 170.0,126.9 171.8,122.5 173.5,118.3 175.3,114.3 177.1,110.5 178.8,107.0 180.6,103.9 182.4,101.3 184.2,99.0 185.9,97.3 187.7,96.0 189.5,95.2 191.2,94.8 193.0,94.9 194.8,95.3 196.5,96.1 198.3,97.1 200.1,98.3 201.9,99.7 203.6,101.2 205.4,102.7 207.2,104.3 208.9,105.9 210.7,107.6 212.5,109.3 214.3,111.1 216.0,113.0 217.8,115.0 219.6,117.2 221.3,119.7 223.1,122.4 224.9,125.3 226.6,128.5 228.4,132.0 230.2,135.8 232.0,139.8 233.7,144.0 235.5,148.4 237.3,152.9 239.0,157.4 240.8,162.0 242.6,166.5 244.3,170.9 246.1,175.2 247.9,179.2 249.7,183.1 251.4,186.7 253.2,190.0 255.0,193.1 256.7,195.8 258.5,198.3 260.3,200.6 262.0,202.6 263.8,204.4 265.6,206.1 267.4,207.5 269.1,208.8 270.9,210.0 272.7,211.1 274.4,212.1 276.2,213.0 278.0,213.9 279.7,214.7 281.5,215.5 283.3,216.2 285.1,217.0 286.8,217.7 288.6,218.4 290.4,219.1 292.1,219.7 293.9,220.3 295.7,220.9 297.4,221.5 299.2,222.0 301.0,222.4 302.8,222.8 304.5,223.2 306.3,223.5 308.1,223.8 309.8,224.0 311.6,224.2 313.4,224.3 315.1,224.4 316.9,224.5 318.7,224.6 320.5,224.7 322.2,224.7 324.0,224.7 325.8,224.8 327.5,224.8 329.3,224.8 331.1,224.8"/><path d="M85.0,224.7 86.8,224.7 88.6,224.6 90.3,224.5 92.1,224.4 93.9,224.3 95.7,224.1 97.4,223.9 99.2,223.7 101.0,223.4 102.7,223.1 104.5,222.7 106.3,222.3 108.0,221.9 109.8,221.5 111.6,221.0 113.4,220.6 115.1,220.1 116.9,219.6 118.7,219.1 120.4,218.5 122.2,217.8 124.0,216.9 125.7,216.0 127.5,214.8 129.3,213.3 131.1,211.6 132.8,209.5 134.6,207.2 136.4,204.4 138.1,201.4 139.9,198.0 141.7,194.4 143.4,190.4 145.2,186.2 147.0,181.8 148.8,177.1 150.5,172.3 152.3,167.1 154.1,161.7 155.8,156.1 157.6,150.2 159.4,144.2 161.1,138.0 162.9,131.7 164.7,125.4 166.5,119.4 168.2,113.6 170.0,108.1 171.8,103.2 173.5,98.8 175.3,95.0 177.1,91.7 178.8,88.9 180.6,86.5 182.4,84.5 184.2,82.7 185.9,81.0 187.7,79.5 189.5,78.1 191.2,76.8 193.0,75.8 194.8,75.0 196.5,74.6 198.3,74.7 200.1,75.3 201.9,76.7 203.6,78.7 205.4,81.4 207.2,84.8 208.9,88.8 210.7,93.3 212.5,98.2 214.3,103.5 216.0,108.9 217.8,114.6 219.6,120.3 221.3,126.1 223.1,131.9 224.9,137.7 226.6,143.5 228.4,149.2 230.2,154.8 232.0,160.3 233.7,165.7 235.5,170.8 237.3,175.6 239.0,180.2 240.8,184.4 242.6,188.3 244.3,191.9 246.1,195.2 247.9,198.2 249.7,200.9 251.4,203.5 253.2,205.9 255.0,208.1 256.7,210.2 258.5,212.1 260.3,213.9 262.0,215.5 263.8,217.0 265.6,218.3 267.4,219.4 269.1,220.5 270.9,221.3 272.7,222.1 274.4,222.7 276.2,223.2 278.0,223.6 279.7,223.9 281.5,224.2 283.3,224.4 285.1,224.5 286.8,224.6 288.6,224.7 290.4,224.7 292.1,224.7 293.9,224.8 295.7,224.8 297.4,224.8 299.2,224.8 301.0,224.8 302.8,224.8 304.5,224.8 306.3,224.8 308.1,224.8 309.8,224.8 311.6,224.8 313.4,224.8 315.1,224.8 316.9,224.8 318.7,224.8 320.5,224.8 322.2,224.8 324.0,224.8 325.8,224.8 327.5,224.8 329.3,224.8 331.1,224.8"/><path d="M85.0,224.4 86.8,224.3 88.6,224.2 90.3,224.0 92.1,223.8 93.9,223.5 95.7,223.2 97.4,222.9 99.2,222.5 101.0,222.0 102.7,221.5 104.5,220.8 106.3,220.1 108.0,219.3 109.8,218.3 111.6,217.3 113.4,216.1 115.1,214.7 116.9,213.2 118.7,211.6 120.4,209.7 122.2,207.7 124.0,205.5 125.7,203.1 127.5,200.6 129.3,197.8 131.1,194.9 132.8,191.9 134.6,188.7 136.4,185.5 138.1,182.1 139.9,178.8 141.7,175.4 143.4,172.0 145.2,168.7 147.0,165.6 148.8,162.5 150.5,159.5 152.3,156.7 154.1,154.0 155.8,151.5 157.6,149.1 159.4,146.8 161.1,144.5 162.9,142.4 164.7,140.2 166.5,138.0 168.2,135.7 170.0,133.4 171.8,131.0 173.5,128.4 175.3,125.8 177.1,123.1 178.8,120.4 180.6,117.6 182.4,114.9 184.2,112.3 185.9,109.9 187.7,107.7 189.5,105.7 191.2,104.1 193.0,102.9 194.8,102.0 196.5,101.6 198.3,101.6 200.1,102.0 201.9,102.8 203.6,104.0 205.4,105.5 207.2,107.3 208.9,109.3 210.7,111.6 212.5,114.0 214.3,116.7 216.0,119.5 217.8,122.4 219.6,125.5 221.3,128.7 223.1,132.0 224.9,135.5 226.6,139.0 228.4,142.7 230.2,146.4 232.0,150.2 233.7,153.9 235.5,157.7 237.3,161.4 239.0,165.1 240.8,168.6 242.6,172.1 244.3,175.4 246.1,178.6 247.9,181.7 249.7,184.6 251.4,187.4 253.2,190.1 255.0,192.6 256.7,195.1 258.5,197.4 260.3,199.5 262.0,201.6 263.8,203.6 265.6,205.5 267.4,207.3 269.1,209.0 270.9,210.6 272.7,212.1 274.4,213.5 276.2,214.8 278.0,216.0 279.7,217.1 281.5,218.1 283.3,219.1 285.1,219.9 286.8,220.6 288.6,221.3 290.4,221.9 292.1,222.4 293.9,222.8 295.7,223.2 297.4,223.5 299.2,223.8 301.0,224.0 302.8,224.2 304.5,224.3 306.3,224.4 308.1,224.5 309.8,224.6 311.6,224.6 313.4,224.7 315.1,224.7 316.9,224.7 318.7,224.8 320.5,224.8 322.2,224.8 324.0,224.8 325.8,224.8 327.5,224.8 329.3,224.8 331.1,224.8"/><path d="M85.0,223.8 86.8,223.6 88.6,223.3 90.3,222.9 92.1,222.5 93.9,222.0 95.7,221.5 97.4,220.9 99.2,220.2 101.0,219.5 102.7,218.7 104.5,217.9 106.3,217.0 108.0,216.1 109.8,215.2 111.6,214.2 113.4,213.1 115.1,212.1 116.9,211.0 118.7,209.8 120.4,208.7 122.2,207.5 124.0,206.3 125.7,205.1 127.5,203.8 129.3,202.4 131.1,200.9 132.8,199.2 134.6,197.5 136.4,195.5 138.1,193.4 139.9,191.0 141.7,188.4 143.4,185.6 145.2,182.5 147.0,179.3 148.8,175.8 150.5,172.3 152.3,168.6 154.1,164.8 155.8,160.9 157.6,157.0 159.4,153.2 161.1,149.3 162.9,145.3 164.7,141.4 166.5,137.4 168.2,133.4 170.0,129.3 171.8,125.1 173.5,120.7 175.3,116.2 177.1,111.7 178.8,107.0 180.6,102.4 182.4,97.8 184.2,93.3 185.9,89.0 187.7,85.1 189.5,81.6 191.2,78.6 193.0,76.2 194.8,74.6 196.5,73.7 198.3,73.6 200.1,74.3 201.9,75.7 203.6,77.9 205.4,80.8 207.2,84.2 208.9,88.2 210.7,92.6 212.5,97.4 214.3,102.5 216.0,107.9 217.8,113.5 219.6,119.3 221.3,125.3 223.1,131.3 224.9,137.4 226.6,143.4 228.4,149.4 230.2,155.2 232.0,160.9 233.7,166.2 235.5,171.3 237.3,176.0 239.0,180.4 240.8,184.3 242.6,188.0 244.3,191.2 246.1,194.2 247.9,196.9 249.7,199.3 251.4,201.6 253.2,203.7 255.0,205.6 256.7,207.5 258.5,209.2 260.3,210.9 262.0,212.5 263.8,214.0 265.6,215.4 267.4,216.7 269.1,217.9 270.9,219.0 272.7,220.0 274.4,220.9 276.2,221.7 278.0,222.3 279.7,222.9 281.5,223.3 283.3,223.7 285.1,224.0 286.8,224.2 288.6,224.4 290.4,224.5 292.1,224.6 293.9,224.7 295.7,224.7 297.4,224.7 299.2,224.8 301.0,224.8 302.8,224.8 304.5,224.8 306.3,224.8 308.1,224.8 309.8,224.8 311.6,224.8 313.4,224.8 315.1,224.8 316.9,224.8 318.7,224.8 320.5,224.8 322.2,224.8 324.0,224.8 325.8,224.8 327.5,224.8 329.3,224.8 331.1,224.8"/><path d="M85.0,224.7 86.8,224.7 88.6,224.6 90.3,224.5 92.1,224.4 93.9,224.2 95.7,224.0 97.4,223.8 99.2,223.5 101.0,223.1 102.7,222.6 104.5,222.1 106.3,221.4 108.0,220.7 109.8,220.0 111.6,219.1 113.4,218.2 115.1,217.2 116.9,216.2 118.7,215.1 120.4,214.0 122.2,212.9 124.0,211.7 125.7,210.4 127.5,209.1 129.3,207.6 131.1,206.1 132.8,204.4 134.6,202.5 136.4,200.5 138.1,198.3 139.9,196.0 141.7,193.5 143.4,190.9 145.2,188.3 147.0,185.5 148.8,182.7 150.5,179.9 152.3,177.1 154.1,174.1 155.8,171.1 157.6,168.0 159.4,164.6 161.1,160.9 162.9,156.9 164.7,152.5 166.5,147.7 168.2,142.6 170.0,137.0 171.8,131.2 173.5,125.1 175.3,119.0 177.1,112.9 178.8,107.0 180.6,101.5 182.4,96.4 184.2,92.0 185.9,88.3 187.7,85.2 189.5,83.0 191.2,81.4 193.0,80.5 194.8,80.1 196.5,80.3 198.3,80.7 200.1,81.5 201.9,82.4 203.6,83.5 205.4,84.6 207.2,85.8 208.9,87.1 210.7,88.5 212.5,90.2 214.3,92.2 216.0,94.5 217.8,97.3 219.6,100.6 221.3,104.4 223.1,108.7 224.9,113.6 226.6,119.0 228.4,124.8 230.2,130.9 232.0,137.3 233.7,143.9 235.5,150.5 237.3,157.1 239.0,163.5 240.8,169.8 242.6,175.7 244.3,181.3 246.1,186.5 247.9,191.2 249.7,195.6 251.4,199.5 253.2,202.9 255.0,206.0 256.7,208.7 258.5,211.0 260.3,213.1 262.0,214.9 263.8,216.4 265.6,217.8 267.4,218.9 269.1,219.9 270.9,220.8 272.7,221.5 274.4,222.1 276.2,222.7 278.0,223.1 279.7,223.5 281.5,223.8 283.3,224.0 285.1,224.2 286.8,224.4 288.6,224.5 290.4,224.6 292.1,224.6 293.9,224.7 295.7,224.7 297.4,224.8 299.2,224.8 301.0,224.8 302.8,224.8 304.5,224.8 306.3,224.8 308.1,224.8 309.8,224.8 311.6,224.8 313.4,224.8 315.1,224.8 316.9,224.8 318.7,224.8 320.5,224.8 322.2,224.8 324.0,224.8 325.8,224.8 327.5,224.8 329.3,224.8 331.1,224.8"/><path d="M85.0,223.8 86.8,223.5 88.6,223.2 90.3,222.8 92.1,222.4 93.9,221.9 95.7,221.3 97.4,220.7 99.2,220.1 101.0,219.3 102.7,218.6 104.5,217.8 106.3,216.9 108.0,216.0 109.8,215.1 111.6,214.1 113.4,213.1 115.1,212.1 116.9,211.1 118.7,210.0 120.4,209.0 122.2,207.8 124.0,206.7 125.7,205.5 127.5,204.2 129.3,202.9 131.1,201.4 132.8,199.9 134.6,198.3 136.4,196.5 138.1,194.6 139.9,192.4 141.7,190.1 143.4,187.5 145.2,184.7 147.0,181.7 148.8,178.4 150.5,175.0 152.3,171.3 154.1,167.4 155.8,163.3 157.6,159.1 159.4,154.9 161.1,150.5 162.9,146.2 164.7,141.9 166.5,137.7 168.2,133.6 170.0,129.7 171.8,126.0 173.5,122.4 175.3,119.2 177.1,116.1 178.8,113.4 180.6,110.9 182.4,108.6 184.2,106.6 185.9,104.8 187.7,103.2 189.5,101.8 191.2,100.6 193.0,99.5 194.8,98.5 196.5,97.8 198.3,97.2 200.1,96.8 201.9,96.7 203.6,96.8 205.4,97.3 207.2,98.1 208.9,99.3 210.7,100.9 212.5,103.0 214.3,105.4 216.0,108.3 217.8,111.5 219.6,115.0 221.3,118.8 223.1,122.9 224.9,127.1 226.6,131.5 228.4,136.0 230.2,140.6 232.0,145.2 233.7,149.8 235.5,154.4 237.3,158.9 239.0,163.4 240.8,167.7 242.6,172.0 244.3,176.1 246.1,180.1 247.9,183.9 249.7,187.5 251.4,191.0 253.2,194.2 255.0,197.3 256.7,200.2 258.5,202.8 260.3,205.3 262.0,207.6 263.8,209.6 265.6,211.5 267.4,213.2 269.1,214.8 270.9,216.1 272.7,217.4 274.4,218.4 276.2,219.3 278.0,220.1 279.7,220.8 281.5,221.3 283.3,221.8 285.1,222.1 286.8,222.3 288.6,222.5 290.4,222.5 292.1,222.6 293.9,222.6 295.7,222.5 297.4,222.5 299.2,222.4 301.0,222.4 302.8,222.3 304.5,222.3 306.3,222.4 308.1,222.4 309.8,222.5 311.6,222.6 313.4,222.8 315.1,222.9 316.9,223.1 318.7,223.3 320.5,223.5 322.2,223.7 324.0,223.8 325.8,224.0 327.5,224.1 329.3,224.3 331.1,224.4"/><path d="M85.0,224.8 86.8,224.8 88.6,224.7 90.3,224.7 92.1,224.7 93.9,224.6 95.7,224.5 97.4,224.4 99.2,224.3 101.0,224.1 102.7,223.8 104.5,223.5 106.3,223.1 108.0,222.5 109.8,221.9 111.6,221.2 113.4,220.3 115.1,219.2 116.9,218.0 118.7,216.6 120.4,215.1 122.2,213.3 124.0,211.4 125.7,209.3 127.5,207.1 129.3,204.7 131.1,202.1 132.8,199.4 134.6,196.6 136.4,193.6 138.1,190.5 139.9,187.2 141.7,183.8 143.4,180.2 145.2,176.5 147.0,172.6 148.8,168.5 150.5,164.3 152.3,160.0 154.1,155.5 155.8,150.9 157.6,146.2 159.4,141.5 161.1,136.8 162.9,132.1 164.7,127.5 166.5,123.0 168.2,118.7 170.0,114.5 171.8,110.6 173.5,106.9 175.3,103.5 177.1,100.3 178.8,97.4 180.6,94.7 182.4,92.3 184.2,90.0 185.9,88.0 187.7,86.1 189.5,84.4 191.2,82.9 193.0,81.7 194.8,80.8 196.5,80.2 198.3,80.0 200.1,80.4 201.9,81.2 203.6,82.7 205.4,84.9 207.2,87.7 208.9,91.2 210.7,95.3 212.5,100.0 214.3,105.3 216.0,111.0 217.8,117.0 219.6,123.3 221.3,129.7 223.1,136.1 224.9,142.5 226.6,148.7 228.4,154.7 230.2,160.4 232.0,165.7 233.7,170.7 235.5,175.4 237.3,179.7 239.0,183.7 240.8,187.3 242.6,190.6 244.3,193.6 246.1,196.3 247.9,198.8 249.7,201.1 251.4,203.1 253.2,205.0 255.0,206.8 256.7,208.4 258.5,209.9 260.3,211.4 262.0,212.7 263.8,214.0 265.6,215.2 267.4,216.3 269.1,217.3 270.9,218.3 272.7,219.2 274.4,220.1 276.2,220.8 278.0,221.5 279.7,222.1 281.5,222.6 283.3,223.1 285.1,223.4 286.8,223.7 288.6,224.0 290.4,224.2 292.1,224.3 293.9,224.5 295.7,224.6 297.4,224.6 299.2,224.7 301.0,224.7 302.8,224.7 304.5,224.8 306.3,224.8 308.1,224.8 309.8,224.8 311.6,224.8 313.4,224.8 315.1,224.8 316.9,224.8 318.7,224.8 320.5,224.8 322.2,224.8 324.0,224.8 325.8,224.8 327.5,224.8 329.3,224.8 331.1,224.8"/><path d="M85.0,224.7 86.8,224.7 88.6,224.6 90.3,224.5 92.1,224.5 93.9,224.3 95.7,224.2 97.4,223.9 99.2,223.7 101.0,223.3 102.7,222.9 104.5,222.4 106.3,221.8 108.0,221.1 109.8,220.2 111.6,219.2 113.4,218.0 115.1,216.7 116.9,215.2 118.7,213.5 120.4,211.6 122.2,209.5 124.0,207.2 125.7,204.8 127.5,202.1 129.3,199.3 131.1,196.4 132.8,193.3 134.6,190.1 136.4,186.8 138.1,183.4 139.9,180.0 141.7,176.4 143.4,172.7 145.2,168.9 147.0,165.0 148.8,161.0 150.5,156.8 152.3,152.5 154.1,148.0 155.8,143.4 157.6,138.6 159.4,133.8 161.1,129.0 162.9,124.2 164.7,119.4 166.5,114.8 168.2,110.4 170.0,106.3 171.8,102.5 173.5,99.1 175.3,96.0 177.1,93.4 178.8,91.3 180.6,89.5 182.4,88.2 184.2,87.3 185.9,86.7 187.7,86.5 189.5,86.7 191.2,87.2 193.0,87.9 194.8,89.0 196.5,90.4 198.3,92.1 200.1,94.2 201.9,96.6 203.6,99.4 205.4,102.6 207.2,106.1 208.9,110.1 210.7,114.4 212.5,119.0 214.3,123.9 216.0,129.0 217.8,134.2 219.6,139.4 221.3,144.7 223.1,149.8 224.9,154.7 226.6,159.5 228.4,163.9 230.2,168.0 232.0,171.8 233.7,175.3 235.5,178.5 237.3,181.4 239.0,184.1 240.8,186.5 242.6,188.8 244.3,190.9 246.1,193.0 247.9,195.0 249.7,197.0 251.4,199.0 253.2,200.9 255.0,202.9 256.7,204.8 258.5,206.6 260.3,208.4 262.0,210.1 263.8,211.7 265.6,213.2 267.4,214.5 269.1,215.8 270.9,216.9 272.7,217.9 274.4,218.7 276.2,219.5 278.0,220.2 279.7,220.8 281.5,221.3 283.3,221.8 285.1,222.2 286.8,222.6 288.6,222.9 290.4,223.2 292.1,223.5 293.9,223.7 295.7,223.9 297.4,224.1 299.2,224.2 301.0,224.4 302.8,224.5 304.5,224.6 306.3,224.6 308.1,224.7 309.8,224.7 311.6,224.7 313.4,224.8 315.1,224.8 316.9,224.8 318.7,224.8 320.5,224.8 322.2,224.8 324.0,224.8 325.8,224.8 327.5,224.8 329.3,224.8 331.1,224.8"/><path d="M85.0,224.1 86.8,223.9 88.6,223.7 90.3,223.5 92.1,223.2 93.9,222.8 95.7,222.4 97.4,222.0 99.2,221.5 101.0,220.9 102.7,220.3 104.5,219.7 106.3,219.0 108.0,218.3 109.8,217.6 111.6,216.8 113.4,216.1 115.1,215.3 116.9,214.4 118.7,213.6 120.4,212.8 122.2,211.9 124.0,211.0 125.7,210.1 127.5,209.1 129.3,208.1 131.1,206.9 132.8,205.7 134.6,204.2 136.4,202.6 138.1,200.8 139.9,198.8 141.7,196.5 143.4,193.9 145.2,191.0 147.0,187.9 148.8,184.4 150.5,180.6 152.3,176.6 154.1,172.4 155.8,167.9 157.6,163.4 159.4,158.7 161.1,154.0 162.9,149.4 164.7,144.9 166.5,140.5 168.2,136.3 170.0,132.4 171.8,128.7 173.5,125.3 175.3,122.2 177.1,119.3 178.8,116.7 180.6,114.3 182.4,112.0 184.2,110.0 185.9,108.1 187.7,106.3 189.5,104.7 191.2,103.2 193.0,101.8 194.8,100.5 196.5,99.4 198.3,98.5 200.1,97.7 201.9,97.2 203.6,97.0 205.4,97.0 207.2,97.3 208.9,98.0 210.7,99.1 212.5,100.6 214.3,102.4 216.0,104.7 217.8,107.4 219.6,110.5 221.3,114.0 223.1,117.9 224.9,122.1 226.6,126.6 228.4,131.3 230.2,136.2 232.0,141.2 233.7,146.2 235.5,151.1 237.3,156.0 239.0,160.6 240.8,165.1 242.6,169.3 244.3,173.1 246.1,176.7 247.9,179.9 249.7,182.9 251.4,185.5 253.2,187.9 255.0,190.1 256.7,192.1 258.5,193.9 260.3,195.7 262.0,197.4 263.8,199.1 265.6,200.8 267.4,202.6 269.1,204.3 270.9,206.1 272.7,207.8 274.4,209.6 276.2,211.3 278.0,212.9 279.7,214.5 281.5,216.0 283.3,217.3 285.1,218.5 286.8,219.6 288.6,220.6 290.4,221.4 292.1,222.1 293.9,222.7 295.7,223.2 297.4,223.6 299.2,223.9 301.0,224.1 302.8,224.3 304.5,224.4 306.3,224.5 308.1,224.6 309.8,224.7 311.6,224.7 313.4,224.7 315.1,224.8 316.9,224.8 318.7,224.8 320.5,224.8 322.2,224.8 324.0,224.8 325.8,224.8 327.5,224.8 329.3,224.8 331.1,224.8"/><path d="M85.0,224.8 86.8,224.8 88.6,224.8 90.3,224.8 92.1,224.8 93.9,224.8 95.7,224.8 97.4,224.8 99.2,224.7 101.0,224.7 102.7,224.7 104.5,224.6 106.3,224.5 108.0,224.3 109.8,224.1 111.6,223.8 113.4,223.4 115.1,222.9 116.9,222.2 118.7,221.3 120.4,220.1 122.2,218.7 124.0,216.9 125.7,214.8 127.5,212.3 129.3,209.3 131.1,206.0 132.8,202.2 134.6,198.1 136.4,193.6 138.1,188.8 139.9,183.9 141.7,178.9 143.4,173.8 145.2,168.9 147.0,164.1 148.8,159.6 150.5,155.5 152.3,151.7 154.1,148.3 155.8,145.4 157.6,142.8 159.4,140.5 161.1,138.5 162.9,136.6 164.7,134.9 166.5,133.1 168.2,131.3 170.0,129.3 171.8,127.1 173.5,124.7 175.3,122.1 177.1,119.2 178.8,116.1 180.6,112.8 182.4,109.4 184.2,105.9 185.9,102.5 187.7,99.1 189.5,96.0 191.2,93.1 193.0,90.6 194.8,88.5 196.5,87.0 198.3,86.0 200.1,85.6 201.9,85.7 203.6,86.5 205.4,87.8 207.2,89.7 208.9,92.0 210.7,94.9 212.5,98.1 214.3,101.7 216.0,105.6 217.8,109.8 219.6,114.3 221.3,118.9 223.1,123.8 224.9,128.8 226.6,133.9 228.4,139.1 230.2,144.4 232.0,149.6 233.7,154.7 235.5,159.8 237.3,164.8 239.0,169.6 240.8,174.2 242.6,178.7 244.3,182.9 246.1,186.9 247.9,190.8 249.7,194.4 251.4,197.7 253.2,200.9 255.0,203.8 256.7,206.6 258.5,209.1 260.3,211.3 262.0,213.4 263.8,215.2 265.6,216.8 267.4,218.2 269.1,219.4 270.9,220.4 272.7,221.2 274.4,221.8 276.2,222.3 278.0,222.6 279.7,222.8 281.5,222.9 283.3,222.9 285.1,222.9 286.8,222.8 288.6,222.7 290.4,222.6 292.1,222.5 293.9,222.4 295.7,222.3 297.4,222.3 299.2,222.3 301.0,222.3 302.8,222.4 304.5,222.5 306.3,222.7 308.1,222.8 309.8,223.0 311.6,223.2 313.4,223.4 315.1,223.6 316.9,223.8 318.7,224.0 320.5,224.1 322.2,224.3 324.0,224.4 325.8,224.5 327.5,224.6 329.3,224.6 331.1,224.7"/><path d="M85.0,224.8 86.8,224.8 88.6,224.8 90.3,224.8 92.1,224.8 93.9,224.8 95.7,224.8 97.4,224.8 99.2,224.8 101.0,224.8 102.7,224.8 104.5,224.8 106.3,224.8 108.0,224.7 109.8,224.7 111.6,224.7 113.4,224.6 115.1,224.5 116.9,224.3 118.7,224.2 120.4,223.9 122.2,223.6 124.0,223.2 125.7,222.7 127.5,222.0 129.3,221.3 131.1,220.4 132.8,219.5 134.6,218.3 136.4,217.1 138.1,215.7 139.9,214.1 141.7,212.3 143.4,210.4 145.2,208.1 147.0,205.6 148.8,202.7 150.5,199.5 152.3,195.8 154.1,191.7 155.8,187.1 157.6,182.1 159.4,176.8 161.1,171.1 162.9,165.1 164.7,159.0 166.5,152.8 168.2,146.5 170.0,140.3 171.8,134.1 173.5,128.0 175.3,122.1 177.1,116.3 178.8,110.6 180.6,105.1 182.4,100.0 184.2,95.1 185.9,90.7 187.7,86.7 189.5,83.4 191.2,80.7 193.0,78.7 194.8,77.4 196.5,76.7 198.3,76.7 200.1,77.2 201.9,78.1 203.6,79.3 205.4,80.7 207.2,82.1 208.9,83.6 210.7,85.2 212.5,86.7 214.3,88.4 216.0,90.3 217.8,92.5 219.6,95.1 221.3,98.2 223.1,101.9 224.9,106.1 226.6,110.8 228.4,116.1 230.2,121.9 232.0,127.9 233.7,134.2 235.5,140.5 237.3,146.8 239.0,152.9 240.8,158.7 242.6,164.1 244.3,169.2 246.1,173.8 247.9,178.0 249.7,181.8 251.4,185.2 253.2,188.3 255.0,191.0 256.7,193.6 258.5,196.0 260.3,198.1 262.0,200.2 263.8,202.2 265.6,204.0 267.4,205.8 269.1,207.4 270.9,209.0 272.7,210.5 274.4,211.9 276.2,213.2 278.0,214.4 279.7,215.6 281.5,216.7 283.3,217.7 285.1,218.7 286.8,219.6 288.6,220.4 290.4,221.1 292.1,221.8 293.9,222.4 295.7,222.9 297.4,223.3 299.2,223.7 301.0,224.0 302.8,224.2 304.5,224.4 306.3,224.5 308.1,224.6 309.8,224.7 311.6,224.7 313.4,224.7 315.1,224.8 316.9,224.8 318.7,224.8 320.5,224.8 322.2,224.8 324.0,224.8 325.8,224.8 327.5,224.8 329.3,224.8 331.1,224.8"/><path d="M85.0,224.6 86.8,224.6 88.6,224.5 90.3,224.4 92.1,224.3 93.9,224.1 95.7,224.0 97.4,223.8 99.2,223.6 101.0,223.3 102.7,223.0 104.5,222.7 106.3,222.3 108.0,221.9 109.8,221.4 111.6,220.9 113.4,220.3 115.1,219.6 116.9,218.8 118.7,217.9 120.4,216.8 122.2,215.6 124.0,214.2 125.7,212.7 127.5,211.0 129.3,209.0 131.1,206.8 132.8,204.5 134.6,201.9 136.4,199.1 138.1,196.1 139.9,192.9 141.7,189.5 143.4,185.9 145.2,182.1 147.0,178.2 148.8,174.0 150.5,169.7 152.3,165.2 154.1,160.5 155.8,155.6 157.6,150.5 159.4,145.4 161.1,140.1 162.9,134.7 164.7,129.4 166.5,124.2 168.2,119.1 170.0,114.2 171.8,109.7 173.5,105.5 175.3,101.8 177.1,98.6 178.8,95.9 180.6,93.9 182.4,92.4 184.2,91.5 185.9,91.2 187.7,91.4 189.5,92.1 191.2,93.2 193.0,94.7 194.8,96.5 196.5,98.5 198.3,100.6 200.1,102.8 201.9,105.0 203.6,107.3 205.4,109.5 207.2,111.7 208.9,113.9 210.7,116.0 212.5,118.2 214.3,120.3 216.0,122.6 217.8,125.0 219.6,127.5 221.3,130.2 223.1,133.0 224.9,136.0 226.6,139.2 228.4,142.5 230.2,146.0 232.0,149.5 233.7,153.1 235.5,156.8 237.3,160.5 239.0,164.2 240.8,167.9 242.6,171.6 244.3,175.1 246.1,178.6 247.9,182.1 249.7,185.4 251.4,188.6 253.2,191.7 255.0,194.7 256.7,197.5 258.5,200.1 260.3,202.6 262.0,204.9 263.8,207.0 265.6,208.8 267.4,210.5 269.1,212.0 270.9,213.3 272.7,214.4 274.4,215.3 276.2,216.2 278.0,216.9 279.7,217.6 281.5,218.2 283.3,218.7 285.1,219.2 286.8,219.7 288.6,220.2 290.4,220.7 292.1,221.2 293.9,221.6 295.7,222.1 297.4,222.5 299.2,222.8 301.0,223.2 302.8,223.5 304.5,223.7 306.3,223.9 308.1,224.1 309.8,224.3 311.6,224.4 313.4,224.5 315.1,224.6 316.9,224.6 318.7,224.7 320.5,224.7 322.2,224.7 324.0,224.8 325.8,224.8 327.5,224.8 329.3,224.8 331.1,224.8"/><path d="M85.0,224.8 86.8,224.8 88.6,224.8 90.3,224.8 92.1,224.8 93.9,224.8 95.7,224.8 97.4,224.8 99.2,224.7 101.0,224.7 102.7,224.6 104.5,224.5 106.3,224.4 108.0,224.3 109.8,224.0 111.6,223.8 113.4,223.4 115.1,222.9 116.9,222.2 118.7,221.4 120.4,220.5 122.2,219.3 124.0,218.0 125.7,216.4 127.5,214.7 129.3,212.7 131.1,210.6 132.8,208.3 134.6,205.8 136.4,203.2 138.1,200.5 139.9,197.8 141.7,194.9 143.4,192.0 145.2,189.0 147.0,185.9 148.8,182.7 150.5,179.3 152.3,175.6 154.1,171.8 155.8,167.6 157.6,163.2 159.4,158.5 161.1,153.6 162.9,148.5 164.7,143.4 166.5,138.2 168.2,133.1 170.0,128.2 171.8,123.5 173.5,119.1 175.3,115.1 177.1,111.5 178.8,108.2 180.6,105.3 182.4,102.7 184.2,100.4 185.9,98.4 187.7,96.6 189.5,94.9 191.2,93.5 193.0,92.2 194.8,91.1 196.5,90.3 198.3,89.7 200.1,89.3 201.9,89.2 203.6,89.5 205.4,90.0 207.2,90.9 208.9,92.1 210.7,93.7 212.5,95.5 214.3,97.7 216.0,100.1 217.8,102.9 219.6,106.0 221.3,109.3 223.1,112.9 224.9,116.8 226.6,121.0 228.4,125.4 230.2,130.1 232.0,134.9 233.7,139.9 235.5,145.0 237.3,150.3 239.0,155.5 240.8,160.8 242.6,166.0 244.3,171.2 246.1,176.1 247.9,180.9 249.7,185.4 251.4,189.7 253.2,193.6 255.0,197.1 256.7,200.4 258.5,203.2 260.3,205.8 262.0,208.0 263.8,210.0 265.6,211.7 267.4,213.2 269.1,214.6 270.9,215.8 272.7,216.9 274.4,217.9 276.2,218.8 278.0,219.6 279.7,220.4 281.5,221.0 283.3,221.7 285.1,222.2 286.8,222.7 288.6,223.1 290.4,223.5 292.1,223.8 293.9,224.0 295.7,224.2 297.4,224.4 299.2,224.5 301.0,224.6 302.8,224.6 304.5,224.7 306.3,224.7 308.1,224.8 309.8,224.8 311.6,224.8 313.4,224.8 315.1,224.8 316.9,224.8 318.7,224.8 320.5,224.8 322.2,224.8 324.0,224.8 325.8,224.8 327.5,224.8 329.3,224.8 331.1,224.8"/><path d="M85.0,223.7 86.8,223.4 88.6,223.1 90.3,222.6 92.1,222.1 93.9,221.6 95.7,220.9 97.4,220.2 99.2,219.4 101.0,218.6 102.7,217.6 104.5,216.6 106.3,215.5 108.0,214.4 109.8,213.2 111.6,212.0 113.4,210.6 115.1,209.2 116.9,207.7 118.7,206.2 120.4,204.4 122.2,202.6 124.0,200.6 125.7,198.4 127.5,196.1 129.3,193.5 131.1,190.8 132.8,187.8 134.6,184.6 136.4,181.2 138.1,177.6 139.9,173.8 141.7,169.8 143.4,165.7 145.2,161.5 147.0,157.1 148.8,152.7 150.5,148.3 152.3,143.9 154.1,139.6 155.8,135.3 157.6,131.2 159.4,127.2 161.1,123.5 162.9,120.0 164.7,116.8 166.5,113.9 168.2,111.4 170.0,109.3 171.8,107.5 173.5,106.0 175.3,105.0 177.1,104.2 178.8,103.8 180.6,103.6 182.4,103.7 184.2,104.0 185.9,104.4 187.7,105.0 189.5,105.6 191.2,106.4 193.0,107.2 194.8,108.0 196.5,109.0 198.3,110.0 200.1,111.1 201.9,112.3 203.6,113.7 205.4,115.2 207.2,116.9 208.9,118.9 210.7,121.0 212.5,123.4 214.3,126.0 216.0,128.9 217.8,132.0 219.6,135.4 221.3,138.9 223.1,142.7 224.9,146.5 226.6,150.5 228.4,154.6 230.2,158.7 232.0,162.7 233.7,166.8 235.5,170.7 237.3,174.6 239.0,178.3 240.8,181.8 242.6,185.2 244.3,188.4 246.1,191.4 247.9,194.3 249.7,197.0 251.4,199.5 253.2,201.9 255.0,204.1 256.7,206.2 258.5,208.2 260.3,210.0 262.0,211.7 263.8,213.4 265.6,214.8 267.4,216.2 269.1,217.5 270.9,218.6 272.7,219.6 274.4,220.5 276.2,221.3 278.0,221.9 279.7,222.5 281.5,223.0 283.3,223.4 285.1,223.7 286.8,224.0 288.6,224.2 290.4,224.3 292.1,224.5 293.9,224.6 295.7,224.6 297.4,224.7 299.2,224.7 301.0,224.7 302.8,224.8 304.5,224.8 306.3,224.8 308.1,224.8 309.8,224.8 311.6,224.8 313.4,224.8 315.1,224.8 316.9,224.8 318.7,224.8 320.5,224.8 322.2,224.8 324.0,224.8 325.8,224.8 327.5,224.8 329.3,224.8 331.1,224.8"/><path d="M85.0,224.5 86.8,224.4 88.6,224.3 90.3,224.1 92.1,223.9 93.9,223.7 95.7,223.5 97.4,223.2 99.2,222.8 101.0,222.5 102.7,222.1 104.5,221.6 106.3,221.1 108.0,220.5 109.8,219.8 111.6,219.1 113.4,218.3 115.1,217.4 116.9,216.4 118.7,215.3 120.4,214.0 122.2,212.6 124.0,211.1 125.7,209.4 127.5,207.5 129.3,205.4 131.1,203.2 132.8,200.8 134.6,198.2 136.4,195.4 138.1,192.5 139.9,189.4 141.7,186.2 143.4,182.9 145.2,179.5 147.0,176.1 148.8,172.5 150.5,169.0 152.3,165.4 154.1,161.8 155.8,158.3 157.6,154.8 159.4,151.4 161.1,148.1 162.9,144.8 164.7,141.6 166.5,138.4 168.2,135.3 170.0,132.3 171.8,129.3 173.5,126.4 175.3,123.5 177.1,120.7 178.8,117.9 180.6,115.1 182.4,112.4 184.2,109.7 185.9,107.2 187.7,104.7 189.5,102.4 191.2,100.3 193.0,98.3 194.8,96.7 196.5,95.4 198.3,94.4 200.1,93.8 201.9,93.6 203.6,93.9 205.4,94.6 207.2,95.8 208.9,97.4 210.7,99.4 212.5,101.8 214.3,104.4 216.0,107.3 217.8,110.5 219.6,113.7 221.3,117.1 223.1,120.6 224.9,124.2 226.6,127.9 228.4,131.6 230.2,135.4 232.0,139.3 233.7,143.3 235.5,147.5 237.3,151.7 239.0,156.1 240.8,160.6 242.6,165.1 244.3,169.7 246.1,174.3 247.9,178.8 249.7,183.2 251.4,187.4 253.2,191.5 255.0,195.3 256.7,198.9 258.5,202.2 260.3,205.2 262.0,207.9 263.8,210.4 265.6,212.5 267.4,214.4 269.1,216.1 270.9,217.5 272.7,218.8 274.4,219.8 276.2,220.7 278.0,221.5 279.7,222.1 281.5,222.7 283.3,223.1 285.1,223.5 286.8,223.8 288.6,224.0 290.4,224.2 292.1,224.3 293.9,224.5 295.7,224.6 297.4,224.6 299.2,224.7 301.0,224.7 302.8,224.7 304.5,224.8 306.3,224.8 308.1,224.8 309.8,224.8 311.6,224.8 313.4,224.8 315.1,224.8 316.9,224.8 318.7,224.8 320.5,224.8 322.2,224.8 324.0,224.8 325.8,224.8 327.5,224.8 329.3,224.8 331.1,224.8"/><path d="M85.0,224.2 86.8,224.1 88.6,223.9 90.3,223.7 92.1,223.4 93.9,223.1 95.7,222.8 97.4,222.4 99.2,222.0 101.0,221.6 102.7,221.0 104.5,220.5 106.3,219.9 108.0,219.2 109.8,218.4 111.6,217.6 113.4,216.7 115.1,215.7 116.9,214.6 118.7,213.4 120.4,212.1 122.2,210.7 124.0,209.2 125.7,207.5 127.5,205.7 129.3,203.9 131.1,201.9 132.8,199.8 134.6,197.6 136.4,195.4 138.1,193.1 139.9,190.7 141.7,188.3 143.4,185.9 145.2,183.5 147.0,181.0 148.8,178.4 150.5,175.8 152.3,173.1 154.1,170.2 155.8,167.2 157.6,164.0 159.4,160.5 161.1,156.8 162.9,152.8 164.7,148.5 166.5,143.9 168.2,139.1 170.0,134.0 171.8,128.9 173.5,123.6 175.3,118.4 177.1,113.3 178.8,108.5 180.6,103.9 182.4,99.8 184.2,96.1 185.9,93.0 187.7,90.5 189.5,88.7 191.2,87.5 193.0,87.0 194.8,87.1 196.5,87.8 198.3,89.0 200.1,90.6 201.9,92.7 203.6,95.1 205.4,97.8 207.2,100.6 208.9,103.6 210.7,106.6 212.5,109.7 214.3,112.9 216.0,116.0 217.8,119.1 219.6,122.2 221.3,125.4 223.1,128.7 224.9,132.0 226.6,135.4 228.4,138.9 230.2,142.5 232.0,146.2 233.7,150.1 235.5,154.0 237.3,157.9 239.0,161.9 240.8,165.8 242.6,169.7 244.3,173.6 246.1,177.4 247.9,181.1 249.7,184.6 251.4,188.1 253.2,191.4 255.0,194.5 256.7,197.5 258.5,200.4 260.3,203.0 262.0,205.5 263.8,207.9 265.6,210.0 267.4,212.0 269.1,213.8 270.9,215.4 272.7,216.8 274.4,218.1 276.2,219.2 278.0,220.2 279.7,221.0 281.5,221.7 283.3,222.3 285.1,222.8 286.8,223.2 288.6,223.6 290.4,223.9 292.1,224.1 293.9,224.2 295.7,224.3 297.4,224.4 299.2,224.5 301.0,224.5 302.8,224.5 304.5,224.5 306.3,224.4 308.1,224.3 309.8,224.2 311.6,224.1 313.4,223.9 315.1,223.8 316.9,223.6 318.7,223.4 320.5,223.2 322.2,223.0 324.0,222.8 325.8,222.7 327.5,222.5 329.3,222.4 331.1,222.4"/><path d="M85.0,224.1 86.8,223.8 88.6,223.6 90.3,223.2 92.1,222.9 93.9,222.5 95.7,222.0 97.4,221.5 99.2,221.0 101.0,220.5 102.7,220.0 104.5,219.4 106.3,218.9 108.0,218.3 109.8,217.7 111.6,217.1 113.4,216.4 115.1,215.7 116.9,214.9 118.7,213.9 120.4,212.8 122.2,211.5 124.0,210.0 125.7,208.2 127.5,206.3 129.3,204.1 131.1,201.7 132.8,199.1 134.6,196.3 136.4,193.3 138.1,190.1 139.9,186.8 141.7,183.4 143.4,179.9 145.2,176.4 147.0,173.0 148.8,169.5 150.5,166.1 152.3,162.8 154.1,159.5 155.8,156.3 157.6,153.0 159.4,149.8 161.1,146.5 162.9,143.1 164.7,139.6 166.5,136.0 168.2,132.2 170.0,128.4 171.8,124.4 173.5,120.4 175.3,116.4 177.1,112.4 178.8,108.6 180.6,104.9 182.4,101.3 184.2,98.0 185.9,94.9 187.7,92.1 189.5,89.5 191.2,87.3 193.0,85.5 194.8,84.0 196.5,83.0 198.3,82.6 200.1,82.6 201.9,83.3 203.6,84.5 205.4,86.4 207.2,88.9 208.9,92.0 210.7,95.6 212.5,99.6 214.3,104.0 216.0,108.6 217.8,113.5 219.6,118.4 221.3,123.4 223.1,128.3 224.9,133.3 226.6,138.2 228.4,143.0 230.2,147.7 232.0,152.5 233.7,157.1 235.5,161.8 237.3,166.4 239.0,170.9 240.8,175.3 242.6,179.6 244.3,183.8 246.1,187.8 247.9,191.7 249.7,195.3 251.4,198.7 253.2,201.9 255.0,204.8 256.7,207.5 258.5,210.0 260.3,212.2 262.0,214.2 263.8,216.0 265.6,217.6 267.4,218.9 269.1,220.1 270.9,221.1 272.7,221.9 274.4,222.6 276.2,223.1 278.0,223.6 279.7,223.9 281.5,224.1 283.3,224.3 285.1,224.5 286.8,224.6 288.6,224.7 290.4,224.7 292.1,224.7 293.9,224.8 295.7,224.8 297.4,224.8 299.2,224.8 301.0,224.8 302.8,224.8 304.5,224.8 306.3,224.8 308.1,224.8 309.8,224.8 311.6,224.8 313.4,224.8 315.1,224.8 316.9,224.8 318.7,224.8 320.5,224.8 322.2,224.8 324.0,224.8 325.8,224.8 327.5,224.8 329.3,224.8 331.1,224.8"/><path d="M85.0,223.3 86.8,223.0 88.6,222.6 90.3,222.2 92.1,221.7 93.9,221.2 95.7,220.6 97.4,220.0 99.2,219.3 101.0,218.5 102.7,217.7 104.5,216.8 106.3,215.9 108.0,214.9 109.8,213.9 111.6,212.9 113.4,211.9 115.1,210.9 116.9,210.0 118.7,209.1 120.4,208.3 122.2,207.6 124.0,206.9 125.7,206.3 127.5,205.8 129.3,205.2 131.1,204.6 132.8,203.9 134.6,203.0 136.4,201.9 138.1,200.6 139.9,198.9 141.7,196.9 143.4,194.5 145.2,191.6 147.0,188.2 148.8,184.4 150.5,180.1 152.3,175.3 154.1,170.0 155.8,164.4 157.6,158.5 159.4,152.3 161.1,145.9 162.9,139.5 164.7,133.2 166.5,127.0 168.2,121.1 170.0,115.5 171.8,110.4 173.5,105.8 175.3,101.7 177.1,98.3 178.8,95.4 180.6,93.0 182.4,91.2 184.2,89.8 185.9,88.9 187.7,88.2 189.5,87.9 191.2,87.9 193.0,88.0 194.8,88.4 196.5,89.0 198.3,89.8 200.1,90.8 201.9,92.1 203.6,93.7 205.4,95.7 207.2,97.9 208.9,100.5 210.7,103.5 212.5,106.8 214.3,110.4 216.0,114.2 217.8,118.3 219.6,122.6 221.3,127.1 223.1,131.6 224.9,136.1 226.6,140.7 228.4,145.1 230.2,149.6 232.0,153.9 233.7,158.1 235.5,162.2 237.3,166.2 239.0,170.1 240.8,174.0 242.6,177.8 244.3,181.6 246.1,185.3 247.9,188.9 249.7,192.4 251.4,195.9 253.2,199.2 255.0,202.4 256.7,205.4 258.5,208.2 260.3,210.7 262.0,213.0 263.8,215.0 265.6,216.7 267.4,218.2 269.1,219.4 270.9,220.3 272.7,221.1 274.4,221.6 276.2,222.0 278.0,222.3 279.7,222.4 281.5,222.5 283.3,222.5 285.1,222.4 286.8,222.4 288.6,222.3 290.4,222.3 292.1,222.3 293.9,222.3 295.7,222.4 297.4,222.4 299.2,222.6 301.0,222.7 302.8,222.9 304.5,223.1 306.3,223.3 308.1,223.5 309.8,223.6 311.6,223.8 313.4,224.0 315.1,224.1 316.9,224.3 318.7,224.4 320.5,224.5 322.2,224.6 324.0,224.6 325.8,224.7 327.5,224.7 329.3,224.7 331.1,224.8"/><path d="M85.0,224.8 86.8,224.8 88.6,224.7 90.3,224.7 92.1,224.7 93.9,224.6 95.7,224.5 97.4,224.4 99.2,224.3 101.0,224.1 102.7,223.9 104.5,223.6 106.3,223.2 108.0,222.7 109.8,222.2 111.6,221.5 113.4,220.7 115.1,219.8 116.9,218.8 118.7,217.6 120.4,216.3 122.2,214.9 124.0,213.2 125.7,211.5 127.5,209.6 129.3,207.5 131.1,205.3 132.8,203.0 134.6,200.4 136.4,197.7 138.1,194.8 139.9,191.8 141.7,188.5 143.4,185.1 145.2,181.4 147.0,177.6 148.8,173.6 150.5,169.4 152.3,165.0 154.1,160.5 155.8,156.0 157.6,151.3 159.4,146.6 161.1,142.0 162.9,137.3 164.7,132.8 166.5,128.3 168.2,124.0 170.0,120.0 171.8,116.1 173.5,112.5 175.3,109.2 177.1,106.2 178.8,103.5 180.6,101.2 182.4,99.3 184.2,97.7 185.9,96.5 187.7,95.6 189.5,95.0 191.2,94.7 193.0,94.6 194.8,94.7 196.5,95.0 198.3,95.5 200.1,96.0 201.9,96.8 203.6,97.7 205.4,98.9 207.2,100.3 208.9,102.1 210.7,104.2 212.5,106.7 214.3,109.7 216.0,113.2 217.8,117.1 219.6,121.5 221.3,126.2 223.1,131.3 224.9,136.6 226.6,142.1 228.4,147.6 230.2,153.1 232.0,158.5 233.7,163.5 235.5,168.3 237.3,172.7 239.0,176.6 240.8,180.2 242.6,183.3 244.3,185.9 246.1,188.2 247.9,190.1 249.7,191.7 251.4,193.1 253.2,194.3 255.0,195.4 256.7,196.4 258.5,197.4 260.3,198.3 262.0,199.3 263.8,200.4 265.6,201.5 267.4,202.7 269.1,204.0 270.9,205.3 272.7,206.8 274.4,208.2 276.2,209.7 278.0,211.2 279.7,212.6 281.5,214.0 283.3,215.4 285.1,216.7 286.8,217.9 288.6,219.0 290.4,220.0 292.1,220.8 293.9,221.6 295.7,222.2 297.4,222.8 299.2,223.2 301.0,223.6 302.8,223.9 304.5,224.1 306.3,224.3 308.1,224.4 309.8,224.6 311.6,224.6 313.4,224.7 315.1,224.7 316.9,224.7 318.7,224.8 320.5,224.8 322.2,224.8 324.0,224.8 325.8,224.8 327.5,224.8 329.3,224.8 331.1,224.8"/><path d="M85.0,223.4 86.8,223.1 88.6,222.8 90.3,222.4 92.1,221.9 93.9,221.4 95.7,220.9 97.4,220.2 99.2,219.5 101.0,218.7 102.7,217.9 104.5,216.9 106.3,215.9 108.0,214.8 109.8,213.6 111.6,212.3 113.4,210.9 115.1,209.5 116.9,208.0 118.7,206.5 120.4,204.8 122.2,203.2 124.0,201.4 125.7,199.6 127.5,197.7 129.3,195.8 131.1,193.7 132.8,191.6 134.6,189.4 136.4,187.0 138.1,184.6 139.9,182.0 141.7,179.3 143.4,176.4 145.2,173.5 147.0,170.4 148.8,167.2 150.5,164.0 152.3,160.7 154.1,157.4 155.8,154.1 157.6,150.9 159.4,147.7 161.1,144.7 162.9,141.9 164.7,139.3 166.5,136.8 168.2,134.6 170.0,132.6 171.8,130.9 173.5,129.4 175.3,128.0 177.1,126.9 178.8,125.9 180.6,125.1 182.4,124.3 184.2,123.6 185.9,123.0 187.7,122.4 189.5,121.9 191.2,121.4 193.0,120.9 194.8,120.4 196.5,119.9 198.3,119.5 200.1,119.2 201.9,119.0 203.6,118.9 205.4,118.9 207.2,119.1 208.9,119.4 210.7,120.0 212.5,120.7 214.3,121.7 216.0,122.9 217.8,124.3 219.6,125.9 221.3,127.8 223.1,129.8 224.9,132.1 226.6,134.5 228.4,137.2 230.2,140.0 232.0,142.9 233.7,146.0 235.5,149.1 237.3,152.4 239.0,155.8 240.8,159.2 242.6,162.6 244.3,166.1 246.1,169.5 247.9,173.0 249.7,176.4 251.4,179.7 253.2,182.9 255.0,186.1 256.7,189.1 258.5,191.9 260.3,194.7 262.0,197.2 263.8,199.7 265.6,201.9 267.4,204.0 269.1,205.9 270.9,207.6 272.7,209.2 274.4,210.7 276.2,212.0 278.0,213.2 279.7,214.3 281.5,215.3 283.3,216.2 285.1,217.0 286.8,217.8 288.6,218.5 290.4,219.2 292.1,219.8 293.9,220.4 295.7,220.9 297.4,221.4 299.2,221.9 301.0,222.3 302.8,222.6 304.5,223.0 306.3,223.3 308.1,223.5 309.8,223.7 311.6,223.9 313.4,224.1 315.1,224.2 316.9,224.4 318.7,224.5 320.5,224.5 322.2,224.6 324.0,224.6 325.8,224.7 327.5,224.7 329.3,224.7 331.1,224.8"/><path d="M85.0,224.7 86.8,224.7 88.6,224.7 90.3,224.6 92.1,224.5 93.9,224.4 95.7,224.2 97.4,224.0 99.2,223.7 101.0,223.4 102.7,223.0 104.5,222.5 106.3,221.8 108.0,221.1 109.8,220.3 111.6,219.4 113.4,218.3 115.1,217.1 116.9,215.9 118.7,214.6 120.4,213.2 122.2,211.7 124.0,210.2 125.7,208.7 127.5,207.1 129.3,205.5 131.1,203.8 132.8,202.1 134.6,200.3 136.4,198.3 138.1,196.1 139.9,193.7 141.7,191.0 143.4,187.9 145.2,184.5 147.0,180.8 148.8,176.7 150.5,172.3 152.3,167.6 154.1,162.6 155.8,157.5 157.6,152.4 159.4,147.2 161.1,142.1 162.9,137.1 164.7,132.3 166.5,127.7 168.2,123.3 170.0,119.1 171.8,115.2 173.5,111.4 175.3,107.8 177.1,104.3 178.8,101.0 180.6,97.7 182.4,94.6 184.2,91.5 185.9,88.6 187.7,85.8 189.5,83.2 191.2,80.8 193.0,78.7 194.8,77.0 196.5,75.7 198.3,74.9 200.1,74.8 201.9,75.2 203.6,76.5 205.4,78.4 207.2,81.1 208.9,84.5 210.7,88.7 212.5,93.4 214.3,98.7 216.0,104.3 217.8,110.3 219.6,116.5 221.3,122.7 223.1,128.9 224.9,134.9 226.6,140.8 228.4,146.4 230.2,151.8 232.0,156.9 233.7,161.8 235.5,166.5 237.3,171.0 239.0,175.4 240.8,179.7 242.6,184.0 244.3,188.1 246.1,192.1 247.9,195.9 249.7,199.6 251.4,203.1 253.2,206.4 255.0,209.4 256.7,212.1 258.5,214.4 260.3,216.5 262.0,218.3 263.8,219.7 265.6,221.0 267.4,221.9 269.1,222.7 270.9,223.3 272.7,223.7 274.4,224.0 276.2,224.3 278.0,224.5 279.7,224.6 281.5,224.7 283.3,224.7 285.1,224.7 286.8,224.8 288.6,224.8 290.4,224.8 292.1,224.8 293.9,224.8 295.7,224.8 297.4,224.8 299.2,224.8 301.0,224.8 302.8,224.8 304.5,224.8 306.3,224.8 308.1,224.8 309.8,224.8 311.6,224.8 313.4,224.8 315.1,224.8 316.9,224.8 318.7,224.8 320.5,224.8 322.2,224.8 324.0,224.8 325.8,224.8 327.5,224.8 329.3,224.8 331.1,224.8"/><path d="M85.0,224.8 86.8,224.8 88.6,224.8 90.3,224.8 92.1,224.7 93.9,224.7 95.7,224.6 97.4,224.6 99.2,224.5 101.0,224.3 102.7,224.2 104.5,224.0 106.3,223.7 108.0,223.3 109.8,222.8 111.6,222.2 113.4,221.5 115.1,220.6 116.9,219.6 118.7,218.4 120.4,217.0 122.2,215.5 124.0,213.7 125.7,211.7 127.5,209.6 129.3,207.3 131.1,204.9 132.8,202.3 134.6,199.6 136.4,196.9 138.1,194.1 139.9,191.3 141.7,188.4 143.4,185.6 145.2,182.7 147.0,179.9 148.8,177.1 150.5,174.3 152.3,171.5 154.1,168.7 155.8,165.9 157.6,163.1 159.4,160.2 161.1,157.3 162.9,154.4 164.7,151.4 166.5,148.5 168.2,145.5 170.0,142.6 171.8,139.6 173.5,136.7 175.3,133.7 177.1,130.8 178.8,127.9 180.6,125.0 182.4,122.1 184.2,119.2 185.9,116.4 187.7,113.6 189.5,110.8 191.2,108.2 193.0,105.6 194.8,103.2 196.5,101.0 198.3,99.0 200.1,97.3 201.9,95.9 203.6,94.9 205.4,94.3 207.2,94.1 208.9,94.3 210.7,95.1 212.5,96.3 214.3,98.1 216.0,100.3 217.8,103.0 219.6,106.2 221.3,109.7 223.1,113.6 224.9,117.8 226.6,122.3 228.4,127.0 230.2,131.7 232.0,136.6 233.7,141.5 235.5,146.4 237.3,151.1 239.0,155.8 240.8,160.3 242.6,164.6 244.3,168.7 246.1,172.6 247.9,176.3 249.7,179.7 251.4,182.9 253.2,186.0 255.0,188.8 256.7,191.4 258.5,193.9 260.3,196.2 262.0,198.4 263.8,200.4 265.6,202.4 267.4,204.2 269.1,205.9 270.9,207.5 272.7,208.9 274.4,210.3 276.2,211.6 278.0,212.7 279.7,213.8 281.5,214.8 283.3,215.6 285.1,216.4 286.8,217.2 288.6,217.8 290.4,218.4 292.1,219.0 293.9,219.5 295.7,220.0 297.4,220.5 299.2,220.9 301.0,221.3 302.8,221.7 304.5,222.1 306.3,222.4 308.1,222.8 309.8,223.1 311.6,223.3 313.4,223.6 315.1,223.8 316.9,224.0 318.7,224.1 320.5,224.3 322.2,224.4 324.0,224.5 325.8,224.6 327.5,224.6 329.3,224.7 331.1,224.7"/><path d="M85.0,224.8 86.8,224.8 88.6,224.8 90.3,224.8 92.1,224.8 93.9,224.7 95.7,224.7 97.4,224.7 99.2,224.6 101.0,224.5 102.7,224.4 104.5,224.2 106.3,224.0 108.0,223.7 109.8,223.4 111.6,222.9 113.4,222.3 115.1,221.6 116.9,220.8 118.7,219.7 120.4,218.6 122.2,217.2 124.0,215.7 125.7,214.0 127.5,212.2 129.3,210.2 131.1,208.2 132.8,206.0 134.6,203.8 136.4,201.5 138.1,199.2 139.9,196.9 141.7,194.6 143.4,192.2 145.2,189.9 147.0,187.4 148.8,184.9 150.5,182.4 152.3,179.7 154.1,176.9 155.8,174.0 157.6,170.9 159.4,167.7 161.1,164.3 162.9,160.7 164.7,157.0 166.5,153.2 168.2,149.2 170.0,145.1 171.8,140.9 173.5,136.5 175.3,132.0 177.1,127.5 178.8,122.9 180.6,118.2 182.4,113.6 184.2,109.1 185.9,104.7 187.7,100.5 189.5,96.5 191.2,92.9 193.0,89.7 194.8,87.0 196.5,84.7 198.3,82.9 200.1,81.7 201.9,81.0 203.6,80.8 205.4,81.2 207.2,82.0 208.9,83.3 210.7,85.1 212.5,87.3 214.3,89.9 216.0,93.0 217.8,96.4 219.6,100.1 221.3,104.2 223.1,108.6 224.9,113.3 226.6,118.1 228.4,123.1 230.2,128.2 232.0,133.4 233.7,138.5 235.5,143.5 237.3,148.4 239.0,153.2 240.8,157.8 242.6,162.2 244.3,166.5 246.1,170.7 247.9,174.7 249.7,178.6 251.4,182.4 253.2,186.1 255.0,189.7 256.7,193.2 258.5,196.5 260.3,199.8 262.0,202.9 263.8,205.8 265.6,208.5 267.4,211.0 269.1,213.2 270.9,215.2 272.7,217.0 274.4,218.5 276.2,219.8 278.0,220.8 279.7,221.7 281.5,222.5 283.3,223.0 285.1,223.5 286.8,223.8 288.6,224.1 290.4,224.3 292.1,224.5 293.9,224.6 295.7,224.6 297.4,224.7 299.2,224.7 301.0,224.8 302.8,224.8 304.5,224.8 306.3,224.8 308.1,224.8 309.8,224.8 311.6,224.8 313.4,224.8 315.1,224.8 316.9,224.8 318.7,224.8 320.5,224.8 322.2,224.8 324.0,224.8 325.8,224.8 327.5,224.8 329.3,224.8 331.1,224.8"/><path d="M85.0,223.9 86.8,223.7 88.6,223.5 90.3,223.3 92.1,223.1 93.9,222.9 95.7,222.6 97.4,222.3 99.2,222.1 101.0,221.7 102.7,221.4 104.5,221.1 106.3,220.7 108.0,220.3 109.8,219.9 111.6,219.4 113.4,218.9 115.1,218.3 116.9,217.7 118.7,217.0 120.4,216.2 122.2,215.4 124.0,214.4 125.7,213.3 127.5,212.1 129.3,210.7 131.1,209.2 132.8,207.5 134.6,205.6 136.4,203.5 138.1,201.2 139.9,198.7 141.7,195.9 143.4,192.9 145.2,189.7 147.0,186.2 148.8,182.7 150.5,178.9 152.3,175.0 154.1,171.1 155.8,167.1 157.6,163.1 159.4,159.1 161.1,155.1 162.9,151.3 164.7,147.5 166.5,143.8 168.2,140.3 170.0,136.8 171.8,133.4 173.5,130.2 175.3,127.0 177.1,123.9 178.8,120.9 180.6,117.9 182.4,115.1 184.2,112.3 185.9,109.7 187.7,107.3 189.5,105.1 191.2,103.1 193.0,101.3 194.8,99.9 196.5,98.9 198.3,98.3 200.1,98.0 201.9,98.3 203.6,98.9 205.4,100.0 207.2,101.6 208.9,103.5 210.7,105.9 212.5,108.6 214.3,111.6 216.0,114.9 217.8,118.5 219.6,122.2 221.3,126.0 223.1,129.9 224.9,133.8 226.6,137.7 228.4,141.6 230.2,145.4 232.0,149.1 233.7,152.6 235.5,156.0 237.3,159.3 239.0,162.4 240.8,165.3 242.6,168.0 244.3,170.6 246.1,173.0 247.9,175.3 249.7,177.4 251.4,179.4 253.2,181.3 255.0,183.1 256.7,184.9 258.5,186.6 260.3,188.3 262.0,189.9 263.8,191.5 265.6,193.1 267.4,194.7 269.1,196.3 270.9,197.9 272.7,199.5 274.4,201.1 276.2,202.6 278.0,204.2 279.7,205.7 281.5,207.2 283.3,208.7 285.1,210.1 286.8,211.5 288.6,212.8 290.4,214.0 292.1,215.2 293.9,216.3 295.7,217.3 297.4,218.3 299.2,219.2 301.0,220.0 302.8,220.7 304.5,221.4 306.3,221.9 308.1,222.4 309.8,222.9 311.6,223.3 313.4,223.6 315.1,223.8 316.9,224.0 318.7,224.2 320.5,224.4 322.2,224.5 324.0,224.5 325.8,224.6 327.5,224.7 329.3,224.7 331.1,224.7"/><path d="M85.0,224.6 86.8,224.5 88.6,224.4 90.3,224.3 92.1,224.2 93.9,224.0 95.7,223.8 97.4,223.6 99.2,223.3 101.0,223.0 102.7,222.7 104.5,222.3 106.3,221.9 108.0,221.4 109.8,220.9 111.6,220.3 113.4,219.6 115.1,218.7 116.9,217.8 118.7,216.6 120.4,215.3 122.2,213.8 124.0,212.0 125.7,210.0 127.5,207.6 129.3,205.0 131.1,202.2 132.8,199.0 134.6,195.6 136.4,191.9 138.1,188.1 139.9,184.1 141.7,179.9 143.4,175.7 145.2,171.4 147.0,167.0 148.8,162.7 150.5,158.4 152.3,154.2 154.1,150.0 155.8,146.0 157.6,142.0 159.4,138.2 161.1,134.6 162.9,131.1 164.7,127.8 166.5,124.8 168.2,121.9 170.0,119.2 171.8,116.8 173.5,114.5 175.3,112.3 177.1,110.1 178.8,108.0 180.6,105.9 182.4,103.7 184.2,101.4 185.9,99.0 187.7,96.6 189.5,94.1 191.2,91.6 193.0,89.3 194.8,87.2 196.5,85.5 198.3,84.4 200.1,83.8 201.9,83.9 203.6,84.8 205.4,86.6 207.2,89.2 208.9,92.5 210.7,96.6 212.5,101.4 214.3,106.6 216.0,112.3 217.8,118.2 219.6,124.2 221.3,130.1 223.1,136.0 224.9,141.6 226.6,146.9 228.4,151.9 230.2,156.6 232.0,160.9 233.7,164.9 235.5,168.8 237.3,172.4 239.0,175.8 240.8,179.2 242.6,182.5 244.3,185.7 246.1,189.0 247.9,192.2 249.7,195.3 251.4,198.4 253.2,201.3 255.0,204.1 256.7,206.7 258.5,209.1 260.3,211.2 262.0,213.1 263.8,214.8 265.6,216.2 267.4,217.5 269.1,218.5 270.9,219.4 272.7,220.1 274.4,220.8 276.2,221.3 278.0,221.8 279.7,222.2 281.5,222.6 283.3,222.9 285.1,223.2 286.8,223.5 288.6,223.7 290.4,223.9 292.1,224.1 293.9,224.2 295.7,224.4 297.4,224.5 299.2,224.5 301.0,224.6 302.8,224.7 304.5,224.7 306.3,224.7 308.1,224.8 309.8,224.8 311.6,224.8 313.4,224.8 315.1,224.8 316.9,224.8 318.7,224.8 320.5,224.8 322.2,224.8 324.0,224.8 325.8,224.8 327.5,224.8 329.3,224.8 331.1,224.8"/><path d="M85.0,224.6 86.8,224.6 88.6,224.5 90.3,224.4 92.1,224.2 93.9,224.1 95.7,223.9 97.4,223.6 99.2,223.4 101.0,223.0 102.7,222.7 104.5,222.2 106.3,221.8 108.0,221.2 109.8,220.7 111.6,220.0 113.4,219.3 115.1,218.6 116.9,217.8 118.7,217.0 120.4,216.1 122.2,215.1 124.0,214.0 125.7,212.9 127.5,211.6 129.3,210.2 131.1,208.5 132.8,206.7 134.6,204.6 136.4,202.2 138.1,199.5 139.9,196.4 141.7,192.9 143.4,189.1 145.2,185.0 147.0,180.5 148.8,175.8 150.5,170.9 152.3,165.9 154.1,160.8 155.8,155.8 157.6,151.0 159.4,146.4 161.1,142.1 162.9,138.2 164.7,134.6 166.5,131.4 168.2,128.6 170.0,126.1 171.8,123.9 173.5,121.9 175.3,120.2 177.1,118.5 178.8,116.8 180.6,115.2 182.4,113.6 184.2,111.8 185.9,110.1 187.7,108.2 189.5,106.3 191.2,104.5 193.0,102.6 194.8,100.9 196.5,99.3 198.3,97.9 200.1,96.7 201.9,95.9 203.6,95.4 205.4,95.3 207.2,95.7 208.9,96.5 210.7,97.8 212.5,99.5 214.3,101.7 216.0,104.4 217.8,107.4 219.6,110.8 221.3,114.6 223.1,118.6 224.9,122.9 226.6,127.3 228.4,131.9 230.2,136.6 232.0,141.3 233.7,146.1 235.5,150.8 237.3,155.4 239.0,159.9 240.8,164.3 242.6,168.6 244.3,172.7 246.1,176.6 247.9,180.3 249.7,183.9 251.4,187.2 253.2,190.4 255.0,193.4 256.7,196.2 258.5,198.8 260.3,201.3 262.0,203.6 263.8,205.7 265.6,207.7 267.4,209.6 269.1,211.3 270.9,212.8 272.7,214.3 274.4,215.6 276.2,216.8 278.0,217.8 279.7,218.8 281.5,219.6 283.3,220.4 285.1,221.0 286.8,221.6 288.6,222.1 290.4,222.6 292.1,223.0 293.9,223.3 295.7,223.6 297.4,223.8 299.2,224.0 301.0,224.2 302.8,224.3 304.5,224.5 306.3,224.5 308.1,224.6 309.8,224.7 311.6,224.7 313.4,224.7 315.1,224.7 316.9,224.8 318.7,224.8 320.5,224.8 322.2,224.8 324.0,224.8 325.8,224.8 327.5,224.8 329.3,224.8 331.1,224.8"/><path d="M85.0,224.2 86.8,224.1 88.6,223.9 90.3,223.7 92.1,223.5 93.9,223.3 95.7,223.0 97.4,222.7 99.2,222.4 101.0,222.1 102.7,221.7 104.5,221.2 106.3,220.8 108.0,220.3 109.8,219.7 111.6,219.0 113.4,218.3 115.1,217.5 116.9,216.5 118.7,215.5 120.4,214.3 122.2,213.0 124.0,211.5 125.7,209.9 127.5,208.1 129.3,206.1 131.1,203.9 132.8,201.4 134.6,198.8 136.4,195.9 138.1,192.8 139.9,189.5 141.7,185.9 143.4,182.0 145.2,178.0 147.0,173.7 148.8,169.2 150.5,164.6 152.3,159.8 154.1,154.9 155.8,149.9 157.6,144.8 159.4,139.8 161.1,134.8 162.9,129.9 164.7,125.2 166.5,120.6 168.2,116.3 170.0,112.2 171.8,108.5 173.5,105.1 175.3,102.2 177.1,99.7 178.8,97.7 180.6,96.2 182.4,95.3 184.2,94.9 185.9,95.1 187.7,95.9 189.5,97.1 191.2,98.8 193.0,100.9 194.8,103.4 196.5,106.1 198.3,109.1 200.1,112.2 201.9,115.3 203.6,118.5 205.4,121.5 207.2,124.5 208.9,127.3 210.7,130.0 212.5,132.5 214.3,134.8 216.0,137.0 217.8,139.0 219.6,140.9 221.3,142.7 223.1,144.5 224.9,146.3 226.6,148.1 228.4,150.0 230.2,151.9 232.0,154.0 233.7,156.1 235.5,158.3 237.3,160.6 239.0,163.1 240.8,165.6 242.6,168.2 244.3,170.8 246.1,173.5 247.9,176.2 249.7,178.9 251.4,181.7 253.2,184.4 255.0,187.1 256.7,189.8 258.5,192.5 260.3,195.0 262.0,197.6 263.8,200.0 265.6,202.3 267.4,204.5 269.1,206.6 270.9,208.5 272.7,210.3 274.4,212.0 276.2,213.5 278.0,214.8 279.7,216.0 281.5,217.0 283.3,217.9 285.1,218.7 286.8,219.4 288.6,220.0 290.4,220.5 292.1,220.9 293.9,221.3 295.7,221.7 297.4,222.0 299.2,222.2 301.0,222.5 302.8,222.8 304.5,223.0 306.3,223.2 308.1,223.4 309.8,223.6 311.6,223.8 313.4,223.9 315.1,224.1 316.9,224.2 318.7,224.3 320.5,224.4 322.2,224.5 324.0,224.6 325.8,224.6 327.5,224.7 329.3,224.7 331.1,224.7"/><path d="M85.0,224.8 86.8,224.8 88.6,224.8 90.3,224.8 92.1,224.8 93.9,224.8 95.7,224.7 97.4,224.7 99.2,224.6 101.0,224.5 102.7,224.4 104.5,224.3 106.3,224.1 108.0,223.8 109.8,223.5 111.6,223.1 113.4,222.6 115.1,222.0 116.9,221.4 118.7,220.7 120.4,219.9 122.2,219.1 124.0,218.2 125.7,217.3 127.5,216.3 129.3,215.3 131.1,214.2 132.8,213.0 134.6,211.7 136.4,210.1 138.1,208.2 139.9,206.0 141.7,203.4 143.4,200.3 145.2,196.8 147.0,192.7 148.8,188.2 150.5,183.2 152.3,177.8 154.1,172.2 155.8,166.3 157.6,160.2 159.4,154.3 161.1,148.4 162.9,142.7 164.7,137.4 166.5,132.4 168.2,127.8 170.0,123.6 171.8,119.7 173.5,116.1 175.3,112.6 177.1,109.1 178.8,105.6 180.6,101.8 182.4,97.6 184.2,93.2 185.9,88.4 187.7,83.3 189.5,78.1 191.2,72.9 193.0,68.1 194.8,63.7 196.5,60.1 198.3,57.5 200.1,56.0 201.9,55.7 203.6,56.8 205.4,59.1 207.2,62.5 208.9,67.0 210.7,72.4 212.5,78.4 214.3,84.9 216.0,91.8 217.8,98.7 219.6,105.7 221.3,112.7 223.1,119.5 224.9,126.2 226.6,132.8 228.4,139.3 230.2,145.6 232.0,151.8 233.7,157.9 235.5,163.8 237.3,169.6 239.0,175.1 240.8,180.4 242.6,185.5 244.3,190.2 246.1,194.7 247.9,198.8 249.7,202.5 251.4,205.8 253.2,208.8 255.0,211.3 256.7,213.5 258.5,215.3 260.3,216.7 262.0,217.9 263.8,218.8 265.6,219.5 267.4,220.1 269.1,220.5 270.9,220.9 272.7,221.2 274.4,221.5 276.2,221.8 278.0,222.2 279.7,222.5 281.5,222.8 283.3,223.1 285.1,223.4 286.8,223.6 288.6,223.9 290.4,224.1 292.1,224.2 293.9,224.4 295.7,224.5 297.4,224.6 299.2,224.7 301.0,224.7 302.8,224.7 304.5,224.8 306.3,224.8 308.1,224.8 309.8,224.8 311.6,224.8 313.4,224.8 315.1,224.8 316.9,224.8 318.7,224.8 320.5,224.8 322.2,224.8 324.0,224.8 325.8,224.8 327.5,224.8 329.3,224.8 331.1,224.8"/><path d="M85.0,224.7 86.8,224.7 88.6,224.7 90.3,224.6 92.1,224.5 93.9,224.4 95.7,224.3 97.4,224.1 99.2,223.8 101.0,223.5 102.7,223.1 104.5,222.6 106.3,222.0 108.0,221.3 109.8,220.4 111.6,219.5 113.4,218.4 115.1,217.2 116.9,216.0 118.7,214.6 120.4,213.2 122.2,211.8 124.0,210.3 125.7,208.8 127.5,207.3 129.3,205.8 131.1,204.2 132.8,202.5 134.6,200.7 136.4,198.8 138.1,196.6 139.9,194.3 141.7,191.6 143.4,188.6 145.2,185.4 147.0,181.8 148.8,177.9 150.5,173.7 152.3,169.3 154.1,164.8 155.8,160.1 157.6,155.4 159.4,150.7 161.1,146.1 162.9,141.5 164.7,137.1 166.5,132.8 168.2,128.6 170.0,124.4 171.8,120.3 173.5,116.2 175.3,112.1 177.1,107.9 178.8,103.7 180.6,99.4 182.4,95.1 184.2,90.9 185.9,86.8 187.7,83.0 189.5,79.5 191.2,76.6 193.0,74.2 194.8,72.6 196.5,71.8 198.3,71.9 200.1,73.0 201.9,75.0 203.6,78.0 205.4,81.7 207.2,86.2 208.9,91.4 210.7,97.0 212.5,103.0 214.3,109.2 216.0,115.5 217.8,121.9 219.6,128.2 221.3,134.3 223.1,140.2 224.9,145.9 226.6,151.3 228.4,156.3 230.2,161.0 232.0,165.3 233.7,169.2 235.5,172.8 237.3,176.0 239.0,178.8 240.8,181.4 242.6,183.8 244.3,185.9 246.1,187.9 247.9,189.8 249.7,191.6 251.4,193.3 253.2,195.0 255.0,196.8 256.7,198.6 258.5,200.3 260.3,202.2 262.0,204.0 263.8,205.9 265.6,207.7 267.4,209.5 269.1,211.3 270.9,213.1 272.7,214.7 274.4,216.2 276.2,217.6 278.0,218.9 279.7,220.0 281.5,221.0 283.3,221.8 285.1,222.5 286.8,223.0 288.6,223.5 290.4,223.8 292.1,224.1 293.9,224.3 295.7,224.5 297.4,224.6 299.2,224.6 301.0,224.7 302.8,224.7 304.5,224.8 306.3,224.8 308.1,224.8 309.8,224.8 311.6,224.8 313.4,224.8 315.1,224.8 316.9,224.8 318.7,224.8 320.5,224.8 322.2,224.8 324.0,224.8 325.8,224.8 327.5,224.8 329.3,224.8 331.1,224.8"/><path d="M85.0,224.8 86.8,224.8 88.6,224.8 90.3,224.8 92.1,224.8 93.9,224.8 95.7,224.7 97.4,224.7 99.2,224.6 101.0,224.6 102.7,224.5 104.5,224.4 106.3,224.2 108.0,224.0 109.8,223.8 111.6,223.5 113.4,223.2 115.1,222.8 116.9,222.3 118.7,221.8 120.4,221.3 122.2,220.7 124.0,220.1 125.7,219.4 127.5,218.6 129.3,217.8 131.1,216.8 132.8,215.8 134.6,214.6 136.4,213.2 138.1,211.6 139.9,209.7 141.7,207.5 143.4,205.0 145.2,202.1 147.0,198.8 148.8,195.0 150.5,190.9 152.3,186.2 154.1,181.2 155.8,175.8 157.6,170.1 159.4,164.2 161.1,158.2 162.9,152.1 164.7,146.0 166.5,140.1 168.2,134.4 170.0,128.8 171.8,123.5 173.5,118.3 175.3,113.4 177.1,108.7 178.8,104.2 180.6,99.8 182.4,95.7 184.2,91.8 185.9,88.3 187.7,85.1 189.5,82.2 191.2,79.9 193.0,78.0 194.8,76.7 196.5,75.8 198.3,75.4 200.1,75.6 201.9,76.1 203.6,77.2 205.4,78.6 207.2,80.4 208.9,82.6 210.7,85.3 212.5,88.3 214.3,91.7 216.0,95.5 217.8,99.7 219.6,104.1 221.3,108.8 223.1,113.7 224.9,118.7 226.6,123.8 228.4,128.8 230.2,133.8 232.0,138.7 233.7,143.5 235.5,148.1 237.3,152.6 239.0,157.0 240.8,161.3 242.6,165.5 244.3,169.7 246.1,173.8 247.9,178.0 249.7,182.0 251.4,186.0 253.2,190.0 255.0,193.8 256.7,197.5 258.5,201.0 260.3,204.3 262.0,207.3 263.8,210.1 265.6,212.7 267.4,214.9 269.1,216.8 270.9,218.5 272.7,219.9 274.4,221.0 276.2,221.9 278.0,222.7 279.7,223.2 281.5,223.7 283.3,224.0 285.1,224.3 286.8,224.4 288.6,224.6 290.4,224.6 292.1,224.7 293.9,224.7 295.7,224.8 297.4,224.8 299.2,224.8 301.0,224.8 302.8,224.8 304.5,224.8 306.3,224.8 308.1,224.8 309.8,224.8 311.6,224.8 313.4,224.8 315.1,224.8 316.9,224.8 318.7,224.8 320.5,224.8 322.2,224.8 324.0,224.8 325.8,224.8 327.5,224.8 329.3,224.8 331.1,224.8"/><path d="M85.0,224.8 86.8,224.8 88.6,224.8 90.3,224.8 92.1,224.8 93.9,224.8 95.7,224.8 97.4,224.7 99.2,224.7 101.0,224.6 102.7,224.5 104.5,224.4 106.3,224.3 108.0,224.1 109.8,223.8 111.6,223.5 113.4,223.0 115.1,222.5 116.9,221.8 118.7,221.0 120.4,220.1 122.2,219.0 124.0,217.7 125.7,216.3 127.5,214.7 129.3,212.9 131.1,211.0 132.8,208.8 134.6,206.5 136.4,203.9 138.1,201.2 139.9,198.3 141.7,195.2 143.4,191.8 145.2,188.3 147.0,184.5 148.8,180.6 150.5,176.4 152.3,172.1 154.1,167.6 155.8,162.9 157.6,158.1 159.4,153.1 161.1,148.1 162.9,142.9 164.7,137.7 166.5,132.5 168.2,127.3 170.0,122.1 171.8,117.0 173.5,112.1 175.3,107.3 177.1,102.8 178.8,98.6 180.6,94.8 182.4,91.3 184.2,88.3 185.9,85.8 187.7,83.8 189.5,82.3 191.2,81.4 193.0,81.1 194.8,81.2 196.5,81.8 198.3,82.8 200.1,84.2 201.9,85.9 203.6,87.8 205.4,90.0 207.2,92.3 208.9,94.8 210.7,97.5 212.5,100.3 214.3,103.3 216.0,106.5 217.8,110.0 219.6,113.6 221.3,117.6 223.1,121.8 224.9,126.3 226.6,131.0 228.4,136.0 230.2,141.0 232.0,146.3 233.7,151.5 235.5,156.7 237.3,161.9 239.0,166.9 240.8,171.7 242.6,176.2 244.3,180.5 246.1,184.5 247.9,188.3 249.7,191.7 251.4,194.8 253.2,197.7 255.0,200.3 256.7,202.8 258.5,205.0 260.3,207.0 262.0,208.9 263.8,210.6 265.6,212.2 267.4,213.7 269.1,215.0 270.9,216.3 272.7,217.4 274.4,218.4 276.2,219.3 278.0,220.2 279.7,220.9 281.5,221.6 283.3,222.1 285.1,222.6 286.8,223.0 288.6,223.4 290.4,223.7 292.1,223.9 293.9,224.1 295.7,224.3 297.4,224.4 299.2,224.5 301.0,224.6 302.8,224.7 304.5,224.7 306.3,224.7 308.1,224.8 309.8,224.8 311.6,224.8 313.4,224.8 315.1,224.8 316.9,224.8 318.7,224.8 320.5,224.8 322.2,224.8 324.0,224.8 325.8,224.8 327.5,224.8 329.3,224.8 331.1,224.8"/><path d="M85.0,224.4 86.8,224.3 88.6,224.1 90.3,223.9 92.1,223.6 93.9,223.3 95.7,222.9 97.4,222.5 99.2,222.0 101.0,221.4 102.7,220.7 104.5,219.9 106.3,219.0 108.0,218.0 109.8,216.9 111.6,215.7 113.4,214.4 115.1,213.0 116.9,211.4 118.7,209.8 120.4,208.1 122.2,206.2 124.0,204.3 125.7,202.2 127.5,200.1 129.3,198.0 131.1,195.7 132.8,193.4 134.6,191.1 136.4,188.8 138.1,186.4 139.9,184.0 141.7,181.7 143.4,179.3 145.2,176.9 147.0,174.4 148.8,172.0 150.5,169.5 152.3,166.9 154.1,164.3 155.8,161.6 157.6,158.8 159.4,156.0 161.1,153.0 162.9,150.0 164.7,146.9 166.5,143.9 168.2,140.8 170.0,137.7 171.8,134.7 173.5,131.7 175.3,129.0 177.1,126.3 178.8,123.9 180.6,121.6 182.4,119.6 184.2,117.8 185.9,116.3 187.7,115.0 189.5,113.9 191.2,113.0 193.0,112.4 194.8,111.9 196.5,111.6 198.3,111.5 200.1,111.5 201.9,111.6 203.6,111.8 205.4,112.1 207.2,112.5 208.9,113.0 210.7,113.6 212.5,114.3 214.3,115.2 216.0,116.1 217.8,117.2 219.6,118.6 221.3,120.1 223.1,121.8 224.9,123.8 226.6,126.1 228.4,128.6 230.2,131.4 232.0,134.4 233.7,137.7 235.5,141.2 237.3,144.9 239.0,148.7 240.8,152.7 242.6,156.8 244.3,160.9 246.1,165.0 247.9,169.2 249.7,173.3 251.4,177.3 253.2,181.2 255.0,185.0 256.7,188.6 258.5,192.1 260.3,195.4 262.0,198.6 263.8,201.5 265.6,204.2 267.4,206.8 269.1,209.1 270.9,211.2 272.7,213.1 274.4,214.9 276.2,216.4 278.0,217.8 279.7,219.0 281.5,220.0 283.3,220.9 285.1,221.6 286.8,222.3 288.6,222.8 290.4,223.2 292.1,223.6 293.9,223.9 295.7,224.1 297.4,224.3 299.2,224.4 301.0,224.5 302.8,224.6 304.5,224.7 306.3,224.7 308.1,224.7 309.8,224.7 311.6,224.8 313.4,224.8 315.1,224.8 316.9,224.8 318.7,224.8 320.5,224.8 322.2,224.8 324.0,224.8 325.8,224.8 327.5,224.8 329.3,224.8 331.1,224.8"/><path d="M85.0,224.6 86.8,224.6 88.6,224.5 90.3,224.3 92.1,224.2 93.9,223.9 95.7,223.6 97.4,223.3 99.2,222.8 101.0,222.3 102.7,221.7 104.5,221.0 106.3,220.2 108.0,219.3 109.8,218.4 111.6,217.4 113.4,216.4 115.1,215.3 116.9,214.3 118.7,213.2 120.4,212.1 122.2,210.9 124.0,209.8 125.7,208.5 127.5,207.2 129.3,205.8 131.1,204.2 132.8,202.5 134.6,200.7 136.4,198.6 138.1,196.3 139.9,193.8 141.7,191.0 143.4,188.0 145.2,184.8 147.0,181.3 148.8,177.6 150.5,173.8 152.3,169.7 154.1,165.5 155.8,161.1 157.6,156.5 159.4,151.8 161.1,147.0 162.9,142.0 164.7,136.8 166.5,131.5 168.2,126.1 170.0,120.5 171.8,114.8 173.5,109.2 175.3,103.5 177.1,98.0 178.8,92.6 180.6,87.6 182.4,83.1 184.2,79.0 185.9,75.6 187.7,72.9 189.5,70.9 191.2,69.8 193.0,69.5 194.8,70.0 196.5,71.3 198.3,73.3 200.1,76.0 201.9,79.4 203.6,83.2 205.4,87.6 207.2,92.3 208.9,97.3 210.7,102.6 212.5,108.1 214.3,113.7 216.0,119.5 217.8,125.3 219.6,131.2 221.3,137.0 223.1,142.7 224.9,148.3 226.6,153.6 228.4,158.7 230.2,163.5 232.0,167.9 233.7,172.0 235.5,175.7 237.3,179.0 239.0,182.0 240.8,184.7 242.6,187.2 244.3,189.4 246.1,191.5 247.9,193.5 249.7,195.4 251.4,197.3 253.2,199.1 255.0,200.9 256.7,202.8 258.5,204.6 260.3,206.4 262.0,208.1 263.8,209.8 265.6,211.4 267.4,212.9 269.1,214.3 270.9,215.5 272.7,216.7 274.4,217.8 276.2,218.7 278.0,219.6 279.7,220.4 281.5,221.0 283.3,221.6 285.1,222.2 286.8,222.6 288.6,223.0 290.4,223.4 292.1,223.7 293.9,223.9 295.7,224.1 297.4,224.3 299.2,224.4 301.0,224.5 302.8,224.6 304.5,224.6 306.3,224.7 308.1,224.7 309.8,224.8 311.6,224.8 313.4,224.8 315.1,224.8 316.9,224.8 318.7,224.8 320.5,224.8 322.2,224.8 324.0,224.8 325.8,224.8 327.5,224.8 329.3,224.8 331.1,224.8"/><path d="M85.0,224.0 86.8,223.8 88.6,223.5 90.3,223.2 92.1,222.9 93.9,222.6 95.7,222.2 97.4,221.8 99.2,221.3 101.0,220.8 102.7,220.3 104.5,219.7 106.3,219.1 108.0,218.5 109.8,217.8 111.6,217.1 113.4,216.4 115.1,215.6 116.9,214.7 118.7,213.8 120.4,212.8 122.2,211.6 124.0,210.4 125.7,209.1 127.5,207.6 129.3,206.0 131.1,204.3 132.8,202.5 134.6,200.4 136.4,198.2 138.1,195.9 139.9,193.4 141.7,190.7 143.4,187.8 145.2,184.7 147.0,181.5 148.8,178.1 150.5,174.6 152.3,171.0 154.1,167.3 155.8,163.5 157.6,159.7 159.4,155.9 161.1,152.1 162.9,148.5 164.7,144.9 166.5,141.4 168.2,138.1 170.0,134.9 171.8,131.8 173.5,128.8 175.3,125.9 177.1,123.1 178.8,120.4 180.6,117.7 182.4,115.0 184.2,112.4 185.9,109.8 187.7,107.2 189.5,104.7 191.2,102.3 193.0,100.0 194.8,97.9 196.5,96.1 198.3,94.5 200.1,93.3 201.9,92.4 203.6,92.0 205.4,92.0 207.2,92.5 208.9,93.6 210.7,95.2 212.5,97.3 214.3,100.0 216.0,103.2 217.8,106.9 219.6,111.0 221.3,115.5 223.1,120.3 224.9,125.4 226.6,130.6 228.4,135.8 230.2,141.0 232.0,146.1 233.7,151.0 235.5,155.7 237.3,160.1 239.0,164.2 240.8,168.0 242.6,171.6 244.3,174.8 246.1,177.9 247.9,180.7 249.7,183.4 251.4,186.0 253.2,188.5 255.0,190.9 256.7,193.2 258.5,195.5 260.3,197.8 262.0,200.0 263.8,202.2 265.6,204.3 267.4,206.3 269.1,208.2 270.9,210.0 272.7,211.8 274.4,213.4 276.2,214.8 278.0,216.2 279.7,217.4 281.5,218.5 283.3,219.5 285.1,220.4 286.8,221.2 288.6,221.8 290.4,222.4 292.1,222.9 293.9,223.3 295.7,223.6 297.4,223.9 299.2,224.1 301.0,224.3 302.8,224.4 304.5,224.5 306.3,224.6 308.1,224.6 309.8,224.7 311.6,224.7 313.4,224.7 315.1,224.8 316.9,224.8 318.7,224.8 320.5,224.8 322.2,224.8 324.0,224.8 325.8,224.8 327.5,224.8 329.3,224.8 331.1,224.8"/><path d="M85.0,224.0 86.8,223.8 88.6,223.5 90.3,223.2 92.1,222.8 93.9,222.4 95.7,222.0 97.4,221.5 99.2,220.9 101.0,220.3 102.7,219.6 104.5,218.8 106.3,217.9 108.0,217.0 109.8,216.0 111.6,214.9 113.4,213.7 115.1,212.4 116.9,211.0 118.7,209.5 120.4,208.0 122.2,206.3 124.0,204.7 125.7,202.9 127.5,201.1 129.3,199.3 131.1,197.6 132.8,195.8 134.6,194.0 136.4,192.2 138.1,190.3 139.9,188.5 141.7,186.6 143.4,184.6 145.2,182.4 147.0,180.1 148.8,177.7 150.5,175.0 152.3,172.1 154.1,169.0 155.8,165.6 157.6,162.0 159.4,158.2 161.1,154.2 162.9,150.1 164.7,145.8 166.5,141.5 168.2,137.1 170.0,132.8 171.8,128.5 173.5,124.4 175.3,120.4 177.1,116.5 178.8,112.9 180.6,109.6 182.4,106.5 184.2,103.7 185.9,101.3 187.7,99.1 189.5,97.3 191.2,95.9 193.0,94.7 194.8,94.0 196.5,93.5 198.3,93.4 200.1,93.7 201.9,94.3 203.6,95.2 205.4,96.4 207.2,98.0 208.9,99.9 210.7,102.1 212.5,104.7 214.3,107.6 216.0,110.8 217.8,114.3 219.6,118.1 221.3,122.1 223.1,126.3 224.9,130.7 226.6,135.3 228.4,139.9 230.2,144.6 232.0,149.2 233.7,153.9 235.5,158.4 237.3,162.8 239.0,167.1 240.8,171.2 242.6,175.1 244.3,178.8 246.1,182.3 247.9,185.6 249.7,188.7 251.4,191.6 253.2,194.3 255.0,196.9 256.7,199.2 258.5,201.4 260.3,203.4 262.0,205.2 263.8,206.9 265.6,208.5 267.4,210.0 269.1,211.3 270.9,212.6 272.7,213.8 274.4,214.8 276.2,215.8 278.0,216.8 279.7,217.6 281.5,218.5 283.3,219.2 285.1,219.9 286.8,220.5 288.6,221.1 290.4,221.7 292.1,222.2 293.9,222.6 295.7,223.0 297.4,223.3 299.2,223.6 301.0,223.8 302.8,224.0 304.5,224.2 306.3,224.3 308.1,224.5 309.8,224.5 311.6,224.6 313.4,224.7 315.1,224.7 316.9,224.7 318.7,224.8 320.5,224.8 322.2,224.8 324.0,224.8 325.8,224.8 327.5,224.8 329.3,224.8 331.1,224.8"/><path d="M85.0,224.7 86.8,224.7 88.6,224.7 90.3,224.6 92.1,224.6 93.9,224.5 95.7,224.4 97.4,224.2 99.2,224.1 101.0,223.9 102.7,223.6 104.5,223.3 106.3,222.9 108.0,222.5 109.8,222.1 111.6,221.5 113.4,221.0 115.1,220.3 116.9,219.6 118.7,218.9 120.4,218.1 122.2,217.3 124.0,216.4 125.7,215.5 127.5,214.4 129.3,213.4 131.1,212.2 132.8,210.9 134.6,209.5 136.4,207.9 138.1,206.1 139.9,204.0 141.7,201.7 143.4,199.1 145.2,196.2 147.0,192.9 148.8,189.2 150.5,185.2 152.3,180.7 154.1,175.8 155.8,170.5 157.6,164.9 159.4,159.0 161.1,152.8 162.9,146.5 164.7,140.1 166.5,133.7 168.2,127.4 170.0,121.3 171.8,115.6 173.5,110.2 175.3,105.2 177.1,100.8 178.8,96.9 180.6,93.6 182.4,90.8 184.2,88.6 185.9,86.9 187.7,85.7 189.5,84.9 191.2,84.7 193.0,84.8 194.8,85.4 196.5,86.4 198.3,87.7 200.1,89.5 201.9,91.6 203.6,94.0 205.4,96.8 207.2,99.8 208.9,103.0 210.7,106.4 212.5,109.9 214.3,113.4 216.0,116.9 217.8,120.4 219.6,123.7 221.3,127.0 223.1,130.1 224.9,133.2 226.6,136.1 228.4,139.1 230.2,142.1 232.0,145.1 233.7,148.1 235.5,151.2 237.3,154.4 239.0,157.6 240.8,160.9 242.6,164.3 244.3,167.7 246.1,171.1 247.9,174.6 249.7,178.0 251.4,181.4 253.2,184.7 255.0,188.0 256.7,191.2 258.5,194.4 260.3,197.4 262.0,200.3 263.8,203.0 265.6,205.6 267.4,207.9 269.1,210.1 270.9,212.0 272.7,213.8 274.4,215.3 276.2,216.7 278.0,217.8 279.7,218.9 281.5,219.7 283.3,220.5 285.1,221.1 286.8,221.7 288.6,222.2 290.4,222.6 292.1,223.0 293.9,223.3 295.7,223.6 297.4,223.8 299.2,224.0 301.0,224.2 302.8,224.3 304.5,224.4 306.3,224.5 308.1,224.6 309.8,224.6 311.6,224.7 313.4,224.7 315.1,224.7 316.9,224.8 318.7,224.8 320.5,224.8 322.2,224.8 324.0,224.8 325.8,224.8 327.5,224.8 329.3,224.8 331.1,224.8"/><path d="M85.0,224.8 86.8,224.8 88.6,224.8 90.3,224.8 92.1,224.8 93.9,224.8 95.7,224.7 97.4,224.7 99.2,224.6 101.0,224.5 102.7,224.3 104.5,224.1 106.3,223.7 108.0,223.3 109.8,222.7 111.6,222.0 113.4,221.1 115.1,220.0 116.9,218.8 118.7,217.4 120.4,215.9 122.2,214.3 124.0,212.7 125.7,211.0 127.5,209.5 129.3,208.0 131.1,206.5 132.8,205.2 134.6,204.0 136.4,202.7 138.1,201.4 139.9,200.0 141.7,198.3 143.4,196.5 145.2,194.3 147.0,191.8 148.8,188.9 150.5,185.7 152.3,182.2 154.1,178.2 155.8,174.0 157.6,169.4 159.4,164.5 161.1,159.2 162.9,153.7 164.7,147.9 166.5,141.9 168.2,135.6 170.0,129.2 171.8,122.7 173.5,116.1 175.3,109.6 177.1,103.3 178.8,97.1 180.6,91.2 182.4,85.7 184.2,80.5 185.9,75.8 187.7,71.5 189.5,67.8 191.2,64.7 193.0,62.3 194.8,60.6 196.5,59.8 198.3,59.8 200.1,60.8 201.9,62.9 203.6,66.0 205.4,70.2 207.2,75.2 208.9,81.0 210.7,87.5 212.5,94.3 214.3,101.2 216.0,107.9 217.8,114.4 219.6,120.4 221.3,125.8 223.1,130.6 224.9,134.9 226.6,138.8 228.4,142.4 230.2,145.9 232.0,149.4 233.7,153.1 235.5,157.0 237.3,161.2 239.0,165.7 240.8,170.5 242.6,175.4 244.3,180.4 246.1,185.3 247.9,190.1 249.7,194.7 251.4,199.0 253.2,202.9 255.0,206.5 256.7,209.6 258.5,212.4 260.3,214.9 262.0,216.9 263.8,218.7 265.6,220.1 267.4,221.3 269.1,222.2 270.9,222.9 272.7,223.5 274.4,223.9 276.2,224.2 278.0,224.4 279.7,224.5 281.5,224.6 283.3,224.7 285.1,224.7 286.8,224.8 288.6,224.8 290.4,224.8 292.1,224.8 293.9,224.8 295.7,224.8 297.4,224.8 299.2,224.8 301.0,224.8 302.8,224.8 304.5,224.8 306.3,224.8 308.1,224.8 309.8,224.8 311.6,224.8 313.4,224.8 315.1,224.8 316.9,224.8 318.7,224.8 320.5,224.8 322.2,224.8 324.0,224.8 325.8,224.8 327.5,224.8 329.3,224.8 331.1,224.8"/></g>
<path d="M85.20,217.40C86.45,217.17 89.80,216.07 92.70,216.00C95.60,215.93 99.32,216.77 102.60,217.00C105.88,217.23 109.12,218.05 112.40,217.40C115.68,216.75 119.02,214.80 122.30,213.10C125.58,211.40 128.82,209.50 132.10,207.20C135.38,204.90 138.72,202.60 142.00,199.30C145.28,196.00 149.37,192.12 151.80,187.40C154.23,182.68 155.00,175.48 156.60,171.00C158.20,166.52 159.87,163.47 161.40,160.50C162.93,157.53 164.35,155.33 165.80,153.20C167.25,151.07 168.50,149.43 170.10,147.70C171.70,145.97 173.70,144.38 175.40,142.80C177.10,141.22 178.70,139.87 180.30,138.20C181.90,136.53 183.63,134.73 185.00,132.80C186.37,130.87 187.33,128.93 188.50,126.60C189.67,124.27 190.83,121.57 192.00,118.80C193.17,116.03 194.33,113.43 195.50,110.00C196.67,106.57 197.68,102.37 199.00,98.20C200.32,94.03 201.95,89.13 203.40,85.00C204.85,80.87 206.25,76.68 207.70,73.40C209.15,70.12 210.52,67.13 212.10,65.30C213.68,63.47 215.50,62.27 217.20,62.40C218.90,62.53 220.83,64.03 222.30,66.10C223.77,68.17 224.78,71.15 226.00,74.80C227.22,78.45 228.50,83.37 229.60,88.00C230.70,92.63 231.62,97.27 232.60,102.60C233.58,107.93 234.67,114.60 235.50,120.00C236.33,125.40 236.82,129.92 237.60,135.00C238.38,140.08 239.32,145.28 240.20,150.50C241.08,155.72 242.02,161.05 242.90,166.30C243.78,171.55 244.63,177.28 245.50,182.00C246.37,186.72 247.13,190.57 248.10,194.60C249.07,198.63 250.07,202.87 251.30,206.20C252.53,209.53 253.93,212.23 255.50,214.60C257.07,216.97 258.78,218.92 260.70,220.40C262.62,221.88 264.55,222.80 267.00,223.50C269.45,224.20 272.40,224.37 275.40,224.60C278.40,224.83 275.73,224.85 285.00,224.90C294.27,224.95 323.33,224.90 331.00,224.90" fill="none" stroke="#3aaf85" stroke-width="2.5" stroke-linejoin="round" stroke-linecap="round"/>
<g clip-path="url(#P2)">
<path d="M414.40,102.00C417.33,101.83 425.73,101.42 432.00,101.00C438.27,100.58 445.67,99.50 452.00,99.50C458.33,99.50 464.00,100.25 470.00,101.00C476.00,101.75 483.00,104.17 488.00,104.00C493.00,103.83 496.00,101.17 500.00,100.00C504.00,98.83 507.67,98.33 512.00,97.00C516.33,95.67 521.50,93.50 526.00,92.00C530.50,90.50 533.33,89.60 539.00,88.00C544.67,86.40 553.77,82.67 560.00,82.40C566.23,82.13 570.95,84.50 576.40,86.40C581.85,88.30 587.27,91.20 592.70,93.80C598.13,96.40 603.55,99.55 609.00,102.00C614.45,104.45 619.93,106.60 625.40,108.50C630.87,110.40 636.03,112.03 641.80,113.40C647.57,114.77 656.97,116.15 660.00,116.70 L660.00,184.50C658.60,182.05 654.63,174.42 651.60,169.80C648.57,165.18 645.62,161.15 641.80,156.80C637.98,152.45 632.80,147.67 628.70,143.70C624.60,139.73 621.02,136.28 617.20,133.00C613.38,129.72 609.88,126.85 605.80,124.00C601.72,121.15 597.60,118.62 592.70,115.90C587.80,113.18 581.85,109.62 576.40,107.70C570.95,105.78 563.90,104.85 560.00,104.40C556.10,103.95 557.17,104.40 553.00,105.00C548.83,105.60 540.58,106.83 535.00,108.00C529.42,109.17 524.50,110.67 519.50,112.00C514.50,113.33 510.08,114.83 505.00,116.00C499.92,117.17 495.00,118.67 489.00,119.00C483.00,119.33 475.50,118.17 469.00,118.00C462.50,117.83 455.57,117.67 450.00,118.00C444.43,118.33 439.43,118.00 435.60,120.00C431.77,122.00 429.60,126.67 427.00,130.00C424.40,133.33 422.10,136.67 420.00,140.00C417.90,143.33 415.33,148.33 414.40,150.00 Z" fill="#999" fill-opacity="0.22"/>
<line x1="402.0" y1="111.80" x2="672.6" y2="111.80" stroke="#000" stroke-width="1.6" stroke-dasharray="5.3,4.75" stroke-dashoffset="7.35"/>
<circle cx="430.6" cy="55.6" r="2.6" fill="#1a5aa8" fill-opacity="0.74"/>
<circle cx="430.6" cy="62.2" r="2.6" fill="#1a5aa8" fill-opacity="0.74"/>
<circle cx="430" cy="91" r="2.6" fill="#1a5aa8" fill-opacity="0.74"/>
<circle cx="430" cy="93.4" r="2.6" fill="#1a5aa8" fill-opacity="0.74"/>
<circle cx="434" cy="105.4" r="2.6" fill="#1a5aa8" fill-opacity="0.74"/>
<circle cx="437.4" cy="106.6" r="2.6" fill="#1a5aa8" fill-opacity="0.74"/>
<circle cx="428" cy="113" r="2.6" fill="#1a5aa8" fill-opacity="0.74"/>
<circle cx="433" cy="115" r="2.6" fill="#1a5aa8" fill-opacity="0.74"/>
<circle cx="437" cy="112" r="2.6" fill="#1a5aa8" fill-opacity="0.74"/>
<circle cx="428" cy="121.4" r="2.6" fill="#1a5aa8" fill-opacity="0.74"/>
<circle cx="433.6" cy="123.4" r="2.6" fill="#1a5aa8" fill-opacity="0.74"/>
<circle cx="436.4" cy="125" r="2.6" fill="#1a5aa8" fill-opacity="0.74"/>
<circle cx="439.4" cy="125.4" r="2.6" fill="#1a5aa8" fill-opacity="0.74"/>
<circle cx="460" cy="77.4" r="2.6" fill="#1a5aa8" fill-opacity="0.74"/>
<circle cx="466" cy="79.4" r="2.6" fill="#1a5aa8" fill-opacity="0.74"/>
<circle cx="471" cy="81.4" r="2.6" fill="#1a5aa8" fill-opacity="0.74"/>
<circle cx="468" cy="86" r="2.6" fill="#1a5aa8" fill-opacity="0.74"/>
<circle cx="472" cy="86" r="2.6" fill="#1a5aa8" fill-opacity="0.74"/>
<circle cx="466" cy="89" r="2.6" fill="#1a5aa8" fill-opacity="0.74"/>
<circle cx="467.4" cy="88" r="2.6" fill="#1a5aa8" fill-opacity="0.74"/>
<circle cx="470.6" cy="66.4" r="2.6" fill="#1a5aa8" fill-opacity="0.74"/>
<circle cx="473.4" cy="67" r="2.6" fill="#1a5aa8" fill-opacity="0.74"/>
<circle cx="470.4" cy="69" r="2.6" fill="#1a5aa8" fill-opacity="0.74"/>
<circle cx="481.2" cy="65.6" r="2.6" fill="#1a5aa8" fill-opacity="0.74"/>
<circle cx="481.2" cy="70.6" r="2.6" fill="#1a5aa8" fill-opacity="0.74"/>
<circle cx="459.8" cy="101.4" r="2.6" fill="#1a5aa8" fill-opacity="0.74"/>
<circle cx="468" cy="100" r="2.6" fill="#1a5aa8" fill-opacity="0.74"/>
<circle cx="471" cy="101" r="2.6" fill="#1a5aa8" fill-opacity="0.74"/>
<circle cx="467.2" cy="104.4" r="2.6" fill="#1a5aa8" fill-opacity="0.74"/>
<circle cx="476.6" cy="101.4" r="2.6" fill="#1a5aa8" fill-opacity="0.74"/>
<circle cx="473" cy="105.4" r="2.6" fill="#1a5aa8" fill-opacity="0.74"/>
<circle cx="475.8" cy="107" r="2.6" fill="#1a5aa8" fill-opacity="0.74"/>
<circle cx="482" cy="112" r="2.6" fill="#1a5aa8" fill-opacity="0.74"/>
<circle cx="466.6" cy="127" r="2.6" fill="#1a5aa8" fill-opacity="0.74"/>
<circle cx="488.4" cy="124.4" r="2.6" fill="#1a5aa8" fill-opacity="0.74"/>
<circle cx="500" cy="75.6" r="2.6" fill="#1a5aa8" fill-opacity="0.74"/>
<circle cx="495.4" cy="79" r="2.6" fill="#1a5aa8" fill-opacity="0.74"/>
<circle cx="491.4" cy="82" r="2.6" fill="#1a5aa8" fill-opacity="0.74"/>
<circle cx="508" cy="79.4" r="2.6" fill="#1a5aa8" fill-opacity="0.74"/>
<circle cx="508" cy="82.6" r="2.6" fill="#1a5aa8" fill-opacity="0.74"/>
<circle cx="489.4" cy="88" r="2.6" fill="#1a5aa8" fill-opacity="0.74"/>
<circle cx="496" cy="90" r="2.6" fill="#1a5aa8" fill-opacity="0.74"/>
<circle cx="500" cy="85" r="2.6" fill="#1a5aa8" fill-opacity="0.74"/>
<circle cx="486" cy="95.4" r="2.6" fill="#1a5aa8" fill-opacity="0.74"/>
<circle cx="484" cy="98.6" r="2.6" fill="#1a5aa8" fill-opacity="0.74"/>
<circle cx="492.6" cy="98" r="2.6" fill="#1a5aa8" fill-opacity="0.74"/>
<circle cx="498.4" cy="99.6" r="2.6" fill="#1a5aa8" fill-opacity="0.74"/>
<circle cx="500.4" cy="100.6" r="2.6" fill="#1a5aa8" fill-opacity="0.74"/>
<circle cx="504" cy="96" r="2.6" fill="#1a5aa8" fill-opacity="0.74"/>
<circle cx="506" cy="98" r="2.6" fill="#1a5aa8" fill-opacity="0.74"/>
<circle cx="492.4" cy="108.6" r="2.6" fill="#1a5aa8" fill-opacity="0.74"/>
<circle cx="506" cy="105" r="2.6" fill="#1a5aa8" fill-opacity="0.74"/>
<circle cx="512" cy="100.6" r="2.6" fill="#1a5aa8" fill-opacity="0.74"/>
<circle cx="513.6" cy="101" r="2.6" fill="#1a5aa8" fill-opacity="0.74"/>
<circle cx="516" cy="108.6" r="2.6" fill="#1a5aa8" fill-opacity="0.74"/>
<circle cx="500" cy="117" r="2.6" fill="#1a5aa8" fill-opacity="0.74"/>
<circle cx="503.6" cy="117" r="2.6" fill="#1a5aa8" fill-opacity="0.74"/>
<circle cx="512" cy="116" r="2.6" fill="#1a5aa8" fill-opacity="0.74"/>
<circle cx="509.4" cy="121" r="2.6" fill="#1a5aa8" fill-opacity="0.74"/>
<circle cx="518" cy="89.4" r="2.6" fill="#1a5aa8" fill-opacity="0.74"/>
<circle cx="521.4" cy="94.2" r="2.6" fill="#1a5aa8" fill-opacity="0.74"/>
<circle cx="518.4" cy="96.6" r="2.6" fill="#1a5aa8" fill-opacity="0.74"/>
<circle cx="525" cy="109.4" r="2.6" fill="#1a5aa8" fill-opacity="0.74"/>
<circle cx="536.6" cy="89.4" r="2.6" fill="#1a5aa8" fill-opacity="0.74"/>
<circle cx="538" cy="95" r="2.6" fill="#1a5aa8" fill-opacity="0.74"/>
<circle cx="542.4" cy="91" r="2.6" fill="#1a5aa8" fill-opacity="0.74"/>
<circle cx="541" cy="94" r="2.6" fill="#1a5aa8" fill-opacity="0.74"/>
<circle cx="547" cy="93" r="2.6" fill="#1a5aa8" fill-opacity="0.74"/>
<circle cx="541" cy="104.6" r="2.6" fill="#1a5aa8" fill-opacity="0.74"/>
<circle cx="556.6" cy="94" r="2.6" fill="#1a5aa8" fill-opacity="0.74"/>
<circle cx="566.2" cy="91" r="2.6" fill="#1a5aa8" fill-opacity="0.74"/>
<circle cx="567.8" cy="91.4" r="2.6" fill="#1a5aa8" fill-opacity="0.74"/>
<circle cx="571.1" cy="93" r="2.6" fill="#1a5aa8" fill-opacity="0.74"/>
<circle cx="568.5" cy="102" r="2.6" fill="#1a5aa8" fill-opacity="0.74"/>
<circle cx="571.4" cy="102" r="2.6" fill="#1a5aa8" fill-opacity="0.74"/>
<circle cx="578.8" cy="99.2" r="2.6" fill="#1a5aa8" fill-opacity="0.74"/>
<circle cx="587.8" cy="98.9" r="2.6" fill="#1a5aa8" fill-opacity="0.74"/>
<circle cx="589.4" cy="108" r="2.6" fill="#1a5aa8" fill-opacity="0.74"/>
<circle cx="600" cy="112.3" r="2.6" fill="#1a5aa8" fill-opacity="0.74"/>
<circle cx="597.3" cy="117.2" r="2.6" fill="#1a5aa8" fill-opacity="0.74"/>
<circle cx="607.7" cy="114.7" r="2.6" fill="#1a5aa8" fill-opacity="0.74"/>
<circle cx="612.6" cy="111.5" r="2.6" fill="#1a5aa8" fill-opacity="0.74"/>
<circle cx="608.2" cy="121.3" r="2.6" fill="#1a5aa8" fill-opacity="0.74"/>
<circle cx="598.4" cy="126.5" r="2.6" fill="#1a5aa8" fill-opacity="0.74"/>
<circle cx="600.5" cy="125.7" r="2.6" fill="#1a5aa8" fill-opacity="0.74"/>
<circle cx="651.2" cy="139.3" r="2.6" fill="#1a5aa8" fill-opacity="0.74"/>
<circle cx="660.1" cy="142.4" r="2.6" fill="#1a5aa8" fill-opacity="0.74"/>
<circle cx="654.5" cy="150.2" r="2.6" fill="#1a5aa8" fill-opacity="0.74"/>
<circle cx="414.4" cy="135" r="2.6" fill="#1a5aa8" fill-opacity="0.74"/>
<circle cx="420" cy="146" r="2.6" fill="#1a5aa8" fill-opacity="0.74"/>
<circle cx="414.4" cy="156.4" r="2.6" fill="#1a5aa8" fill-opacity="0.74"/>
<circle cx="446" cy="134.4" r="2.6" fill="#1a5aa8" fill-opacity="0.74"/>
<circle cx="450" cy="132" r="2.6" fill="#1a5aa8" fill-opacity="0.74"/>
<circle cx="453.6" cy="137.4" r="2.6" fill="#1a5aa8" fill-opacity="0.74"/>
<circle cx="458" cy="135" r="2.6" fill="#1a5aa8" fill-opacity="0.74"/>
<circle cx="462" cy="140" r="2.6" fill="#1a5aa8" fill-opacity="0.74"/>
<circle cx="466.6" cy="136.4" r="2.6" fill="#1a5aa8" fill-opacity="0.74"/>
<circle cx="470" cy="137.6" r="2.6" fill="#1a5aa8" fill-opacity="0.74"/>
<circle cx="479" cy="131.6" r="2.6" fill="#1a5aa8" fill-opacity="0.74"/>
<circle cx="484.4" cy="133" r="2.6" fill="#1a5aa8" fill-opacity="0.74"/>
<circle cx="503" cy="135.4" r="2.6" fill="#1a5aa8" fill-opacity="0.74"/>
<circle cx="505.6" cy="136.4" r="2.6" fill="#1a5aa8" fill-opacity="0.74"/>
<circle cx="505.2" cy="140" r="2.6" fill="#1a5aa8" fill-opacity="0.74"/>
<circle cx="510.4" cy="142.4" r="2.6" fill="#1a5aa8" fill-opacity="0.74"/>
<circle cx="493" cy="162" r="2.6" fill="#1a5aa8" fill-opacity="0.74"/>
<circle cx="497" cy="163.6" r="2.6" fill="#1a5aa8" fill-opacity="0.74"/>
<circle cx="471.4" cy="176.6" r="2.6" fill="#1a5aa8" fill-opacity="0.74"/>
<circle cx="476.4" cy="175.4" r="2.6" fill="#1a5aa8" fill-opacity="0.74"/>
<circle cx="485.6" cy="178.4" r="2.6" fill="#1a5aa8" fill-opacity="0.74"/>
<circle cx="484.4" cy="181.2" r="2.6" fill="#1a5aa8" fill-opacity="0.74"/>
<circle cx="484" cy="223" r="2.6" fill="#1a5aa8" fill-opacity="0.74"/>
<circle cx="489" cy="225" r="2.6" fill="#1a5aa8" fill-opacity="0.74"/>
<path d="M414.40,129.00C415.67,127.67 419.07,123.67 422.00,121.00C424.93,118.33 428.67,114.93 432.00,113.00C435.33,111.07 438.67,110.00 442.00,109.40C445.33,108.80 448.67,109.13 452.00,109.40C455.33,109.67 458.67,110.47 462.00,111.00C465.33,111.53 468.67,111.93 472.00,112.60C475.33,113.27 479.33,114.43 482.00,115.00C484.67,115.57 485.67,116.17 488.00,116.00C490.33,115.83 493.00,115.17 496.00,114.00C499.00,112.83 502.67,110.67 506.00,109.00C509.33,107.33 512.67,105.40 516.00,104.00C519.33,102.60 522.83,101.52 526.00,100.60C529.17,99.68 531.83,99.20 535.00,98.50C538.17,97.80 541.67,96.88 545.00,96.40C548.33,95.92 551.67,95.53 555.00,95.60C558.33,95.67 561.67,96.22 565.00,96.80C568.33,97.38 571.67,98.15 575.00,99.10C578.33,100.05 581.67,101.20 585.00,102.50C588.33,103.80 591.67,105.28 595.00,106.90C598.33,108.52 601.67,110.32 605.00,112.20C608.33,114.08 611.67,116.10 615.00,118.20C618.33,120.30 621.67,122.53 625.00,124.80C628.33,127.07 631.67,129.40 635.00,131.80C638.33,134.20 641.67,136.72 645.00,139.20C648.33,141.68 652.48,144.80 655.00,146.70C657.52,148.60 659.25,149.95 660.10,150.60" fill="none" stroke="#3aaf85" stroke-width="2.2"/>
</g>
<g clip-path="url(#P3)">
<path d="M85.40,414.00C86.67,416.00 90.07,422.33 93.00,426.00C95.93,429.67 99.67,433.67 103.00,436.00C106.33,438.33 109.33,440.00 113.00,440.00C116.67,440.00 121.00,437.50 125.00,436.00C129.00,434.50 133.00,432.33 137.00,431.00C141.00,429.67 145.00,428.17 149.00,428.00C153.00,427.83 157.00,428.33 161.00,430.00C165.00,431.67 169.00,435.33 173.00,438.00C177.00,440.67 181.00,444.00 185.00,446.00C189.00,448.00 193.17,449.17 197.00,450.00C200.83,450.83 202.83,450.60 208.00,451.00C213.17,451.40 221.33,451.73 228.00,452.40C234.67,453.07 241.33,454.80 248.00,455.00C254.67,455.20 262.00,454.77 268.00,453.60C274.00,452.43 279.33,450.27 284.00,448.00C288.67,445.73 292.00,443.33 296.00,440.00C300.00,436.67 304.80,431.33 308.00,428.00C311.20,424.67 312.87,423.00 315.20,420.00C317.53,417.00 319.42,414.10 322.00,410.00C324.58,405.90 329.25,397.83 330.70,395.40 L330.70,467.00C326.92,467.33 315.12,467.83 308.00,469.00C300.88,470.17 294.67,472.17 288.00,474.00C281.33,475.83 274.67,478.67 268.00,480.00C261.33,481.33 254.67,482.17 248.00,482.00C241.33,481.83 234.67,480.33 228.00,479.00C221.33,477.67 213.17,476.00 208.00,474.00C202.83,472.00 200.83,469.17 197.00,467.00C193.17,464.83 189.00,463.33 185.00,461.00C181.00,458.67 177.00,455.67 173.00,453.00C169.00,450.33 165.00,446.67 161.00,445.00C157.00,443.33 153.00,442.67 149.00,443.00C145.00,443.33 141.00,445.33 137.00,447.00C133.00,448.67 129.00,451.17 125.00,453.00C121.00,454.83 116.67,457.00 113.00,458.00C109.33,459.00 106.33,458.00 103.00,459.00C99.67,460.00 95.93,462.33 93.00,464.00C90.07,465.67 86.67,468.17 85.40,469.00 Z" fill="#999" fill-opacity="0.22"/>
<circle cx="155" cy="343.6" r="2.6" fill="#1a5aa8" fill-opacity="0.74"/>
<circle cx="159.4" cy="342.4" r="2.6" fill="#1a5aa8" fill-opacity="0.74"/>
<circle cx="155" cy="381.6" r="2.6" fill="#1a5aa8" fill-opacity="0.74"/>
<circle cx="156.6" cy="385" r="2.6" fill="#1a5aa8" fill-opacity="0.74"/>
<circle cx="142.4" cy="387.4" r="2.6" fill="#1a5aa8" fill-opacity="0.74"/>
<circle cx="147.4" cy="388.4" r="2.6" fill="#1a5aa8" fill-opacity="0.74"/>
<circle cx="101.6" cy="397" r="2.6" fill="#1a5aa8" fill-opacity="0.74"/>
<circle cx="101.6" cy="404.6" r="2.6" fill="#1a5aa8" fill-opacity="0.74"/>
<circle cx="85.4" cy="407" r="2.6" fill="#1a5aa8" fill-opacity="0.74"/>
<circle cx="164" cy="402.6" r="2.6" fill="#1a5aa8" fill-opacity="0.74"/>
<circle cx="167.6" cy="401" r="2.6" fill="#1a5aa8" fill-opacity="0.74"/>
<circle cx="142" cy="410" r="2.6" fill="#1a5aa8" fill-opacity="0.74"/>
<circle cx="144.6" cy="411" r="2.6" fill="#1a5aa8" fill-opacity="0.74"/>
<circle cx="141" cy="414" r="2.6" fill="#1a5aa8" fill-opacity="0.74"/>
<circle cx="152.4" cy="409.6" r="2.6" fill="#1a5aa8" fill-opacity="0.74"/>
<circle cx="152.4" cy="416" r="2.6" fill="#1a5aa8" fill-opacity="0.74"/>
<circle cx="91" cy="422" r="2.6" fill="#1a5aa8" fill-opacity="0.74"/>
<circle cx="171" cy="422.4" r="2.6" fill="#1a5aa8" fill-opacity="0.74"/>
<circle cx="131.4" cy="425.6" r="2.6" fill="#1a5aa8" fill-opacity="0.74"/>
<circle cx="137" cy="428.4" r="2.6" fill="#1a5aa8" fill-opacity="0.74"/>
<circle cx="142" cy="431" r="2.6" fill="#1a5aa8" fill-opacity="0.74"/>
<circle cx="133" cy="433" r="2.6" fill="#1a5aa8" fill-opacity="0.74"/>
<circle cx="166.6" cy="426.4" r="2.6" fill="#1a5aa8" fill-opacity="0.74"/>
<circle cx="165" cy="429.6" r="2.6" fill="#1a5aa8" fill-opacity="0.74"/>
<circle cx="162.6" cy="433" r="2.6" fill="#1a5aa8" fill-opacity="0.74"/>
<circle cx="179" cy="428" r="2.6" fill="#1a5aa8" fill-opacity="0.74"/>
<circle cx="182" cy="430" r="2.6" fill="#1a5aa8" fill-opacity="0.74"/>
<circle cx="176" cy="432.4" r="2.6" fill="#1a5aa8" fill-opacity="0.74"/>
<circle cx="178.6" cy="434" r="2.6" fill="#1a5aa8" fill-opacity="0.74"/>
<circle cx="85.4" cy="439.6" r="2.6" fill="#1a5aa8" fill-opacity="0.74"/>
<circle cx="124.6" cy="437.6" r="2.6" fill="#1a5aa8" fill-opacity="0.74"/>
<circle cx="139" cy="438" r="2.6" fill="#1a5aa8" fill-opacity="0.74"/>
<circle cx="143.4" cy="439.6" r="2.6" fill="#1a5aa8" fill-opacity="0.74"/>
<circle cx="171" cy="438" r="2.6" fill="#1a5aa8" fill-opacity="0.74"/>
<circle cx="176.6" cy="439.2" r="2.6" fill="#1a5aa8" fill-opacity="0.74"/>
<circle cx="101" cy="448" r="2.6" fill="#1a5aa8" fill-opacity="0.74"/>
<circle cx="101" cy="451.4" r="2.6" fill="#1a5aa8" fill-opacity="0.74"/>
<circle cx="117" cy="442" r="2.6" fill="#1a5aa8" fill-opacity="0.74"/>
<circle cx="121" cy="446.4" r="2.6" fill="#1a5aa8" fill-opacity="0.74"/>
<circle cx="128.5" cy="441.3" r="2.6" fill="#1a5aa8" fill-opacity="0.74"/>
<circle cx="137" cy="443" r="2.6" fill="#1a5aa8" fill-opacity="0.74"/>
<circle cx="150" cy="448.4" r="2.6" fill="#1a5aa8" fill-opacity="0.74"/>
<circle cx="155.2" cy="444.5" r="2.6" fill="#1a5aa8" fill-opacity="0.74"/>
<circle cx="160.2" cy="442" r="2.6" fill="#1a5aa8" fill-opacity="0.74"/>
<circle cx="167" cy="446.6" r="2.6" fill="#1a5aa8" fill-opacity="0.74"/>
<circle cx="173" cy="441" r="2.6" fill="#1a5aa8" fill-opacity="0.74"/>
<circle cx="189.2" cy="444.7" r="2.6" fill="#1a5aa8" fill-opacity="0.74"/>
<circle cx="99" cy="470" r="2.6" fill="#1a5aa8" fill-opacity="0.74"/>
<circle cx="104.4" cy="465" r="2.6" fill="#1a5aa8" fill-opacity="0.74"/>
<circle cx="107" cy="460" r="2.6" fill="#1a5aa8" fill-opacity="0.74"/>
<circle cx="110" cy="460.4" r="2.6" fill="#1a5aa8" fill-opacity="0.74"/>
<circle cx="105" cy="482.6" r="2.6" fill="#1a5aa8" fill-opacity="0.74"/>
<circle cx="108" cy="487" r="2.6" fill="#1a5aa8" fill-opacity="0.74"/>
<circle cx="103.6" cy="491.6" r="2.6" fill="#1a5aa8" fill-opacity="0.74"/>
<circle cx="98.6" cy="500.4" r="2.6" fill="#1a5aa8" fill-opacity="0.74"/>
<circle cx="108" cy="505.4" r="2.6" fill="#1a5aa8" fill-opacity="0.74"/>
<circle cx="130.4" cy="470" r="2.6" fill="#1a5aa8" fill-opacity="0.74"/>
<circle cx="137.4" cy="457.4" r="2.6" fill="#1a5aa8" fill-opacity="0.74"/>
<circle cx="138.6" cy="468" r="2.6" fill="#1a5aa8" fill-opacity="0.74"/>
<circle cx="141.6" cy="470.6" r="2.6" fill="#1a5aa8" fill-opacity="0.74"/>
<circle cx="147.4" cy="471.2" r="2.6" fill="#1a5aa8" fill-opacity="0.74"/>
<circle cx="138" cy="478.6" r="2.6" fill="#1a5aa8" fill-opacity="0.74"/>
<circle cx="144" cy="485.4" r="2.6" fill="#1a5aa8" fill-opacity="0.74"/>
<circle cx="146.6" cy="489.4" r="2.6" fill="#1a5aa8" fill-opacity="0.74"/>
<circle cx="145" cy="501.6" r="2.6" fill="#1a5aa8" fill-opacity="0.74"/>
<circle cx="154" cy="505" r="2.6" fill="#1a5aa8" fill-opacity="0.74"/>
<circle cx="152.6" cy="508.6" r="2.6" fill="#1a5aa8" fill-opacity="0.74"/>
<circle cx="163" cy="497.6" r="2.6" fill="#1a5aa8" fill-opacity="0.74"/>
<circle cx="155" cy="464" r="2.6" fill="#1a5aa8" fill-opacity="0.74"/>
<circle cx="157" cy="456" r="2.6" fill="#1a5aa8" fill-opacity="0.74"/>
<circle cx="158" cy="459" r="2.6" fill="#1a5aa8" fill-opacity="0.74"/>
<circle cx="159.4" cy="462" r="2.6" fill="#1a5aa8" fill-opacity="0.74"/>
<circle cx="163" cy="462" r="2.6" fill="#1a5aa8" fill-opacity="0.74"/>
<circle cx="164.6" cy="462" r="2.6" fill="#1a5aa8" fill-opacity="0.74"/>
<circle cx="169" cy="466" r="2.6" fill="#1a5aa8" fill-opacity="0.74"/>
<circle cx="171.6" cy="468.6" r="2.6" fill="#1a5aa8" fill-opacity="0.74"/>
<circle cx="171" cy="478.4" r="2.6" fill="#1a5aa8" fill-opacity="0.74"/>
<circle cx="171" cy="481" r="2.6" fill="#1a5aa8" fill-opacity="0.74"/>
<circle cx="175" cy="483" r="2.6" fill="#1a5aa8" fill-opacity="0.74"/>
<circle cx="176.6" cy="483.4" r="2.6" fill="#1a5aa8" fill-opacity="0.74"/>
<circle cx="174.6" cy="459" r="2.6" fill="#1a5aa8" fill-opacity="0.74"/>
<circle cx="176.4" cy="462.4" r="2.6" fill="#1a5aa8" fill-opacity="0.74"/>
<circle cx="179.6" cy="476" r="2.6" fill="#1a5aa8" fill-opacity="0.74"/>
<circle cx="180.4" cy="471" r="2.6" fill="#1a5aa8" fill-opacity="0.74"/>
<circle cx="183" cy="469" r="2.6" fill="#1a5aa8" fill-opacity="0.74"/>
<circle cx="184.4" cy="469.6" r="2.6" fill="#1a5aa8" fill-opacity="0.74"/>
<circle cx="184.4" cy="484" r="2.6" fill="#1a5aa8" fill-opacity="0.74"/>
<circle cx="183" cy="488" r="2.6" fill="#1a5aa8" fill-opacity="0.74"/>
<circle cx="186.6" cy="499.4" r="2.6" fill="#1a5aa8" fill-opacity="0.74"/>
<circle cx="195.6" cy="503" r="2.6" fill="#1a5aa8" fill-opacity="0.74"/>
<circle cx="192.2" cy="453.6" r="2.6" fill="#1a5aa8" fill-opacity="0.74"/>
<circle cx="189" cy="459.6" r="2.6" fill="#1a5aa8" fill-opacity="0.74"/>
<circle cx="325" cy="416" r="2.6" fill="#1a5aa8" fill-opacity="0.74"/>
<circle cx="331" cy="427" r="2.6" fill="#1a5aa8" fill-opacity="0.74"/>
<circle cx="322" cy="432.4" r="2.6" fill="#1a5aa8" fill-opacity="0.74"/>
<circle cx="208" cy="444.4" r="2.6" fill="#1a5aa8" fill-opacity="0.74"/>
<circle cx="213.4" cy="448" r="2.6" fill="#1a5aa8" fill-opacity="0.74"/>
<circle cx="217.6" cy="451" r="2.6" fill="#1a5aa8" fill-opacity="0.74"/>
<circle cx="211.4" cy="453.6" r="2.6" fill="#1a5aa8" fill-opacity="0.74"/>
<circle cx="209" cy="458.6" r="2.6" fill="#1a5aa8" fill-opacity="0.74"/>
<circle cx="227.6" cy="453.6" r="2.6" fill="#1a5aa8" fill-opacity="0.74"/>
<circle cx="237" cy="448" r="2.6" fill="#1a5aa8" fill-opacity="0.74"/>
<circle cx="239" cy="448" r="2.6" fill="#1a5aa8" fill-opacity="0.74"/>
<circle cx="242.4" cy="451.6" r="2.6" fill="#1a5aa8" fill-opacity="0.74"/>
<circle cx="269.4" cy="457" r="2.6" fill="#1a5aa8" fill-opacity="0.74"/>
<circle cx="271.6" cy="458" r="2.6" fill="#1a5aa8" fill-opacity="0.74"/>
<circle cx="249.4" cy="466.4" r="2.6" fill="#1a5aa8" fill-opacity="0.74"/>
<circle cx="258.6" cy="464.4" r="2.6" fill="#1a5aa8" fill-opacity="0.74"/>
<circle cx="239.4" cy="472" r="2.6" fill="#1a5aa8" fill-opacity="0.74"/>
<circle cx="242.6" cy="472.6" r="2.6" fill="#1a5aa8" fill-opacity="0.74"/>
<circle cx="279" cy="469.6" r="2.6" fill="#1a5aa8" fill-opacity="0.74"/>
<circle cx="212" cy="481" r="2.6" fill="#1a5aa8" fill-opacity="0.74"/>
<circle cx="268" cy="482" r="2.6" fill="#1a5aa8" fill-opacity="0.74"/>
<circle cx="260.6" cy="492.4" r="2.6" fill="#1a5aa8" fill-opacity="0.74"/>
<circle cx="279" cy="491" r="2.6" fill="#1a5aa8" fill-opacity="0.74"/>
<circle cx="271" cy="508.4" r="2.6" fill="#1a5aa8" fill-opacity="0.74"/>
<circle cx="283.6" cy="511.4" r="2.6" fill="#1a5aa8" fill-opacity="0.74"/>
<path d="M85.40,442.00C86.67,442.83 90.07,445.40 93.00,447.00C95.93,448.60 100.00,450.70 103.00,451.60C106.00,452.50 107.67,453.00 111.00,452.40C114.33,451.80 119.33,449.73 123.00,448.00C126.67,446.27 129.67,443.67 133.00,442.00C136.33,440.33 140.00,439.00 143.00,438.00C146.00,437.00 148.33,436.00 151.00,436.00C153.67,436.00 156.33,436.50 159.00,438.00C161.67,439.50 164.00,442.50 167.00,445.00C170.00,447.50 173.33,450.67 177.00,453.00C180.67,455.33 185.00,457.50 189.00,459.00C193.00,460.50 197.83,461.33 201.00,462.00C204.17,462.67 203.50,462.40 208.00,463.00C212.50,463.60 221.33,464.60 228.00,465.60C234.67,466.60 242.00,468.50 248.00,469.00C254.00,469.50 259.00,469.27 264.00,468.60C269.00,467.93 273.00,466.93 278.00,465.00C283.00,463.07 288.67,460.17 294.00,457.00C299.33,453.83 305.33,449.33 310.00,446.00C314.67,442.67 318.50,439.50 322.00,437.00C325.50,434.50 329.50,432.00 331.00,431.00" fill="none" stroke="#3aaf85" stroke-width="2.2"/>
</g>
<g clip-path="url(#P4)">
<path d="M428.73,342.52 L429.24,344.03 L429.77,345.52 L430.32,346.98 L430.89,348.42 L431.48,349.83 L432.09,351.21 L432.72,352.57 L433.37,353.91 L434.05,355.23 L434.76,356.52 L435.49,357.79 L436.24,359.03 L437.03,360.26 L437.84,361.46 L438.68,362.64 L439.55,363.81 L440.46,364.95 L441.39,366.07 L442.36,367.17 L443.37,368.26 L444.41,369.32 L445.49,370.37 L446.61,371.39 L447.77,372.40 L448.97,373.40 L450.22,374.37 L451.51,375.33 L452.84,376.27 L454.23,377.20 L455.67,378.10 L457.16,379.00 L458.70,379.88 L460.30,380.74 L461.95,381.59 L463.67,382.42 L465.45,383.24 L467.29,384.05 L469.20,384.84 L471.18,385.62 L473.23,386.38 L475.36,387.13 L477.56,387.87 L479.84,388.60 L482.21,389.31 L484.66,390.01 L487.20,390.70 L489.83,391.38 L492.56,392.05 L495.39,392.70 L498.32,393.35 L501.36,393.98 L504.50,394.60 L507.76,395.22 L511.14,395.82 L514.64,396.41 L518.27,396.99 L522.03,397.56 L525.93,398.13 L529.97,398.68 L534.15,399.23 L538.49,399.76 L542.98,400.29 L547.64,400.81 L552.47,401.32 L557.47,401.82 L562.65,402.31 L568.02,402.80 L573.58,403.28 L579.35,403.75 L585.33,404.21 L591.52,404.66 L597.94,405.11 L604.59,405.55 L611.48,405.99 L618.63,406.41 L626.03,406.83 L633.70,407.25 L641.65,407.66 L649.88,408.06 L658.42,408.45" fill="none" stroke="#3aaf85" stroke-width="2.2" stroke-dasharray="8.5,7.6"/>
<path d="M428.73,512.58 L429.24,511.07 L429.77,509.58 L430.32,508.12 L430.89,506.68 L431.48,505.27 L432.09,503.89 L432.72,502.53 L433.37,501.19 L434.05,499.87 L434.76,498.58 L435.49,497.31 L436.24,496.07 L437.03,494.84 L437.84,493.64 L438.68,492.46 L439.55,491.29 L440.46,490.15 L441.39,489.03 L442.36,487.93 L443.37,486.84 L444.41,485.78 L445.49,484.73 L446.61,483.71 L447.77,482.70 L448.97,481.70 L450.22,480.73 L451.51,479.77 L452.84,478.83 L454.23,477.90 L455.67,477.00 L457.16,476.10 L458.70,475.22 L460.30,474.36 L461.95,473.51 L463.67,472.68 L465.45,471.86 L467.29,471.05 L469.20,470.26 L471.18,469.48 L473.23,468.72 L475.36,467.97 L477.56,467.23 L479.84,466.50 L482.21,465.79 L484.66,465.09 L487.20,464.40 L489.83,463.72 L492.56,463.05 L495.39,462.40 L498.32,461.75 L501.36,461.12 L504.50,460.50 L507.76,459.88 L511.14,459.28 L514.64,458.69 L518.27,458.11 L522.03,457.54 L525.93,456.97 L529.97,456.42 L534.15,455.87 L538.49,455.34 L542.98,454.81 L547.64,454.29 L552.47,453.78 L557.47,453.28 L562.65,452.79 L568.02,452.30 L573.58,451.82 L579.35,451.35 L585.33,450.89 L591.52,450.44 L597.94,449.99 L604.59,449.55 L611.48,449.11 L618.63,448.69 L626.03,448.27 L633.70,447.85 L641.65,447.44 L649.88,447.04 L658.42,446.65" fill="none" stroke="#3aaf85" stroke-width="2.2" stroke-dasharray="8.5,7.6"/>
<line x1="414.65" y1="334.25" x2="414.65" y2="520.2" stroke="#8c8c8c" stroke-width="1.2" stroke-dasharray="5.2,4.9" stroke-dashoffset="2.05"/>
<line x1="402.5" y1="427.55" x2="672.8" y2="427.55" stroke="#8c8c8c" stroke-width="1.2" stroke-dasharray="5.2,4.9"/>
<circle cx="428.3" cy="419.5" r="1.9" fill="#1a5aa8" fill-opacity="0.8"/>
<circle cx="432.2" cy="420.1" r="1.9" fill="#1a5aa8" fill-opacity="0.8"/>
<circle cx="433.9" cy="419.9" r="1.9" fill="#1a5aa8" fill-opacity="0.8"/>
<circle cx="437.2" cy="421.2" r="1.9" fill="#1a5aa8" fill-opacity="0.8"/>
<circle cx="440.4" cy="421.1" r="1.9" fill="#1a5aa8" fill-opacity="0.8"/>
<circle cx="442.6" cy="420.0" r="1.9" fill="#1a5aa8" fill-opacity="0.8"/>
<circle cx="445.4" cy="420.2" r="1.9" fill="#1a5aa8" fill-opacity="0.8"/>
<circle cx="448.6" cy="420.8" r="1.9" fill="#1a5aa8" fill-opacity="0.8"/>
<circle cx="450.7" cy="420.3" r="1.9" fill="#1a5aa8" fill-opacity="0.8"/>
<circle cx="428.3" cy="422.6" r="1.9" fill="#1a5aa8" fill-opacity="0.8"/>
<circle cx="429.9" cy="423.9" r="1.9" fill="#1a5aa8" fill-opacity="0.8"/>
<circle cx="433.0" cy="422.7" r="1.9" fill="#1a5aa8" fill-opacity="0.8"/>
<circle cx="436.6" cy="423.2" r="1.9" fill="#1a5aa8" fill-opacity="0.8"/>
<circle cx="438.6" cy="423.5" r="1.9" fill="#1a5aa8" fill-opacity="0.8"/>
<circle cx="440.6" cy="423.4" r="1.9" fill="#1a5aa8" fill-opacity="0.8"/>
<circle cx="443.8" cy="422.3" r="1.9" fill="#1a5aa8" fill-opacity="0.8"/>
<circle cx="446.9" cy="423.8" r="1.9" fill="#1a5aa8" fill-opacity="0.8"/>
<circle cx="448.9" cy="423.2" r="1.9" fill="#1a5aa8" fill-opacity="0.8"/>
<circle cx="451.7" cy="423.4" r="1.9" fill="#1a5aa8" fill-opacity="0.8"/>
<circle cx="428.4" cy="425.5" r="1.9" fill="#1a5aa8" fill-opacity="0.8"/>
<circle cx="431.2" cy="426.3" r="1.9" fill="#1a5aa8" fill-opacity="0.8"/>
<circle cx="433.6" cy="426.6" r="1.9" fill="#1a5aa8" fill-opacity="0.8"/>
<circle cx="435.9" cy="426.5" r="1.9" fill="#1a5aa8" fill-opacity="0.8"/>
<circle cx="439.3" cy="425.3" r="1.9" fill="#1a5aa8" fill-opacity="0.8"/>
<circle cx="441.9" cy="425.8" r="1.9" fill="#1a5aa8" fill-opacity="0.8"/>
<circle cx="444.0" cy="425.4" r="1.9" fill="#1a5aa8" fill-opacity="0.8"/>
<circle cx="447.0" cy="425.6" r="1.9" fill="#1a5aa8" fill-opacity="0.8"/>
<circle cx="449.9" cy="425.6" r="1.9" fill="#1a5aa8" fill-opacity="0.8"/>
<circle cx="452.1" cy="425.8" r="1.9" fill="#1a5aa8" fill-opacity="0.8"/>
<circle cx="428.2" cy="428.5" r="1.9" fill="#1a5aa8" fill-opacity="0.8"/>
<circle cx="430.2" cy="429.4" r="1.9" fill="#1a5aa8" fill-opacity="0.8"/>
<circle cx="433.9" cy="429.1" r="1.9" fill="#1a5aa8" fill-opacity="0.8"/>
<circle cx="436.9" cy="428.5" r="1.9" fill="#1a5aa8" fill-opacity="0.8"/>
<circle cx="439.6" cy="428.4" r="1.9" fill="#1a5aa8" fill-opacity="0.8"/>
<circle cx="442.5" cy="429.2" r="1.9" fill="#1a5aa8" fill-opacity="0.8"/>
<circle cx="444.7" cy="429.8" r="1.9" fill="#1a5aa8" fill-opacity="0.8"/>
<circle cx="447.7" cy="429.5" r="1.9" fill="#1a5aa8" fill-opacity="0.8"/>
<circle cx="449.3" cy="428.8" r="1.9" fill="#1a5aa8" fill-opacity="0.8"/>
<circle cx="428.3" cy="430.7" r="1.9" fill="#1a5aa8" fill-opacity="0.8"/>
<circle cx="431.4" cy="431.9" r="1.9" fill="#1a5aa8" fill-opacity="0.8"/>
<circle cx="434.1" cy="430.9" r="1.9" fill="#1a5aa8" fill-opacity="0.8"/>
<circle cx="437.5" cy="431.9" r="1.9" fill="#1a5aa8" fill-opacity="0.8"/>
<circle cx="441.1" cy="431.7" r="1.9" fill="#1a5aa8" fill-opacity="0.8"/>
<circle cx="442.7" cy="431.4" r="1.9" fill="#1a5aa8" fill-opacity="0.8"/>
<circle cx="446.3" cy="430.5" r="1.9" fill="#1a5aa8" fill-opacity="0.8"/>
<circle cx="453.0" cy="424.1" r="1.9" fill="#1a5aa8" fill-opacity="0.8"/>
<circle cx="458.8" cy="420.9" r="1.9" fill="#1a5aa8" fill-opacity="0.8"/>
<circle cx="457.3" cy="424.1" r="1.9" fill="#1a5aa8" fill-opacity="0.8"/>
<circle cx="456.2" cy="429.3" r="1.9" fill="#1a5aa8" fill-opacity="0.8"/>
<circle cx="462.5" cy="424.1" r="1.9" fill="#1a5aa8" fill-opacity="0.8"/>
<circle cx="464.1" cy="430.4" r="1.9" fill="#1a5aa8" fill-opacity="0.8"/>
<circle cx="464.6" cy="432.0" r="1.9" fill="#1a5aa8" fill-opacity="0.8"/>
<circle cx="466.2" cy="422.0" r="1.9" fill="#1a5aa8" fill-opacity="0.8"/>
<circle cx="468.3" cy="418.8" r="1.9" fill="#1a5aa8" fill-opacity="0.8"/>
<circle cx="469.9" cy="420.4" r="1.9" fill="#1a5aa8" fill-opacity="0.8"/>
<circle cx="470.9" cy="423.0" r="1.9" fill="#1a5aa8" fill-opacity="0.8"/>
<circle cx="471.4" cy="428.8" r="1.9" fill="#1a5aa8" fill-opacity="0.8"/>
<circle cx="474.1" cy="428.8" r="1.9" fill="#1a5aa8" fill-opacity="0.8"/>
<circle cx="476.7" cy="422.0" r="1.9" fill="#1a5aa8" fill-opacity="0.8"/>
<circle cx="477.2" cy="429.3" r="1.9" fill="#1a5aa8" fill-opacity="0.8"/>
<circle cx="483.0" cy="428.8" r="1.9" fill="#1a5aa8" fill-opacity="0.8"/>
<circle cx="484.1" cy="424.1" r="1.9" fill="#1a5aa8" fill-opacity="0.8"/>
<circle cx="460.9" cy="429.3" r="1.9" fill="#1a5aa8" fill-opacity="0.8"/>
<circle cx="455.0" cy="426.5" r="1.9" fill="#1a5aa8" fill-opacity="0.8"/>
<circle cx="460.0" cy="426.5" r="1.9" fill="#1a5aa8" fill-opacity="0.8"/>
<circle cx="467.0" cy="425.5" r="1.9" fill="#1a5aa8" fill-opacity="0.8"/>
<circle cx="473.0" cy="425.5" r="1.9" fill="#1a5aa8" fill-opacity="0.8"/>
<circle cx="548.2" cy="426.0" r="1.9" fill="#1a5aa8" fill-opacity="0.8"/>
<circle cx="565.3" cy="425.2" r="1.9" fill="#1a5aa8" fill-opacity="0.8"/>
<circle cx="570.8" cy="425.2" r="1.9" fill="#1a5aa8" fill-opacity="0.8"/>
<circle cx="565.8" cy="431.5" r="1.9" fill="#1a5aa8" fill-opacity="0.8"/>
<circle cx="573.3" cy="432.8" r="1.9" fill="#1a5aa8" fill-opacity="0.8"/>
<circle cx="578.8" cy="432.0" r="1.9" fill="#1a5aa8" fill-opacity="0.8"/>
<circle cx="601.0" cy="431.5" r="1.9" fill="#1a5aa8" fill-opacity="0.8"/>
<circle cx="602.2" cy="434.0" r="1.9" fill="#1a5aa8" fill-opacity="0.8"/>
<circle cx="607.2" cy="430.3" r="1.9" fill="#1a5aa8" fill-opacity="0.8"/>
<circle cx="623.5" cy="426.5" r="1.9" fill="#1a5aa8" fill-opacity="0.8"/>
<circle cx="644.9" cy="427.2" r="1.9" fill="#1a5aa8" fill-opacity="0.8"/>
<circle cx="656.7" cy="426.5" r="1.9" fill="#1a5aa8" fill-opacity="0.8"/>
<circle cx="660.5" cy="429.5" r="1.9" fill="#1a5aa8" fill-opacity="0.8"/>
<circle cx="476.2" cy="422.3" r="1.9" fill="#1a5aa8" fill-opacity="0.8"/>
<circle cx="476.6" cy="429.3" r="1.9" fill="#1a5aa8" fill-opacity="0.8"/>
<circle cx="483.2" cy="428.8" r="1.9" fill="#1a5aa8" fill-opacity="0.8"/>
<circle cx="483.6" cy="424.0" r="1.9" fill="#1a5aa8" fill-opacity="0.8"/>
<circle cx="492.4" cy="425.8" r="1.9" fill="#1a5aa8" fill-opacity="0.8"/>
<circle cx="498.5" cy="423.6" r="1.9" fill="#1a5aa8" fill-opacity="0.8"/>
<circle cx="502.0" cy="426.6" r="1.9" fill="#1a5aa8" fill-opacity="0.8"/>
<circle cx="468.8" cy="419.2" r="1.9" fill="#1a5aa8" fill-opacity="0.8"/>
<circle cx="470.5" cy="421.4" r="1.9" fill="#1a5aa8" fill-opacity="0.8"/>
<circle cx="472.3" cy="428.8" r="1.9" fill="#1a5aa8" fill-opacity="0.8"/>
<circle cx="464.4" cy="431.0" r="1.9" fill="#1a5aa8" fill-opacity="0.8"/>
<circle cx="435.9" cy="436.1" r="1.9" fill="#1a5aa8" fill-opacity="0.8"/>
<circle cx="441.7" cy="436.5" r="1.9" fill="#1a5aa8" fill-opacity="0.8"/>
<circle cx="444.0" cy="434.5" r="1.9" fill="#1a5aa8" fill-opacity="0.8"/>
<circle cx="447.0" cy="433.0" r="1.9" fill="#1a5aa8" fill-opacity="0.8"/>
<circle cx="449.5" cy="434.5" r="1.9" fill="#1a5aa8" fill-opacity="0.8"/>
<circle cx="451.9" cy="433.9" r="1.9" fill="#1a5aa8" fill-opacity="0.8"/>
<circle cx="453.4" cy="442.7" r="1.9" fill="#1a5aa8" fill-opacity="0.8"/>
<circle cx="457.8" cy="442.7" r="1.9" fill="#1a5aa8" fill-opacity="0.8"/>
<circle cx="429.3" cy="430.2" r="1.9" fill="#1a5aa8" fill-opacity="0.8"/>
<circle cx="433.0" cy="430.0" r="1.9" fill="#1a5aa8" fill-opacity="0.8"/>
<circle cx="430.8" cy="420.0" r="1.9" fill="#1a5aa8" fill-opacity="0.8"/>
<circle cx="434.4" cy="422.0" r="1.9" fill="#1a5aa8" fill-opacity="0.8"/>
<circle cx="438.8" cy="421.0" r="1.9" fill="#1a5aa8" fill-opacity="0.8"/>
<circle cx="443.2" cy="420.0" r="1.9" fill="#1a5aa8" fill-opacity="0.8"/>
<circle cx="445.4" cy="420.8" r="1.9" fill="#1a5aa8" fill-opacity="0.8"/>
<path d="M428.00,425.40C429.83,425.65 435.47,426.47 439.00,426.90C442.53,427.33 446.28,427.98 449.20,428.00C452.12,428.02 453.70,427.45 456.50,427.00C459.30,426.55 461.75,425.63 466.00,425.30C470.25,424.97 475.33,424.95 482.00,425.00C488.67,425.05 498.00,425.35 506.00,425.60C514.00,425.85 520.50,426.07 530.00,426.50C539.50,426.93 551.17,427.78 563.00,428.20C574.83,428.62 588.50,428.95 601.00,429.00C613.50,429.05 628.17,428.80 638.00,428.50C647.83,428.20 656.33,427.42 660.00,427.20" fill="none" stroke="#3aaf85" stroke-width="2.6"/>
<text x="441.6" y="455" font-size="11.3" fill="#2a66ad" text-anchor="middle">38</text>
<text x="466.7" y="452.8" font-size="11.3" fill="#2a66ad" text-anchor="middle">4</text>
<text x="561.2" y="445.2" font-size="11.3" fill="#2a66ad" text-anchor="middle">52</text>
<text x="589.6" y="446" font-size="11.3" fill="#2a66ad" text-anchor="middle">11</text>
<text x="448" y="437.6" font-size="11.3" fill="#2a66ad" text-anchor="middle">39</text>
<text x="606.5" y="398.8" font-size="11.3" fill="#3aaf85" text-anchor="middle">0.8</text>
<text x="606.5" y="460.3" font-size="11.3" fill="#3aaf85" text-anchor="middle">0.8</text>
</g>
<line x1="123.6" y1="741.3" x2="123.6" y2="774.3" stroke="#3aaf85" stroke-width="2.2"/>
<circle cx="123.6" cy="761.1" r="4" fill="#3aaf85"/>
<line x1="208.4" y1="745.8" x2="208.4" y2="778" stroke="#3aaf85" stroke-width="2.2"/>
<circle cx="208.4" cy="766.4" r="4" fill="#3aaf85"/>
<line x1="292.5" y1="737.5" x2="292.5" y2="771.3" stroke="#3aaf85" stroke-width="2.2"/>
<circle cx="292.5" cy="757.8" r="4" fill="#3aaf85"/>
<g clip-path="url(#P6)">
<line x1="414.5" y1="733.75" x2="659.9" y2="612.1" stroke="#3aaf85" stroke-width="2.2"/>
<circle cx="414.4" cy="780.5" r="2.6" fill="#1f66aa"/>
<circle cx="432.4" cy="779.2" r="2.6" fill="#1f66aa"/>
<circle cx="441.7" cy="779.2" r="2.6" fill="#1f66aa"/>
<circle cx="448.2" cy="737.1" r="2.6" fill="#1f66aa"/>
<circle cx="453.3" cy="735.4" r="2.6" fill="#1f66aa"/>
<circle cx="457.5" cy="733.2" r="2.6" fill="#1f66aa"/>
<circle cx="461.1" cy="732.0" r="2.6" fill="#1f66aa"/>
<circle cx="464.4" cy="723.5" r="2.6" fill="#1f66aa"/>
<circle cx="467.3" cy="720.1" r="2.6" fill="#1f66aa"/>
<circle cx="469.9" cy="717.7" r="2.6" fill="#1f66aa"/>
<circle cx="472.3" cy="711.0" r="2.6" fill="#1f66aa"/>
<circle cx="474.6" cy="706.7" r="2.6" fill="#1f66aa"/>
<circle cx="476.7" cy="704.0" r="2.6" fill="#1f66aa"/>
<circle cx="478.7" cy="702.2" r="2.6" fill="#1f66aa"/>
<circle cx="480.6" cy="701.0" r="2.6" fill="#1f66aa"/>
<circle cx="482.4" cy="700.1" r="2.6" fill="#1f66aa"/>
<circle cx="484.1" cy="699.4" r="2.6" fill="#1f66aa"/>
<circle cx="485.8" cy="698.8" r="2.6" fill="#1f66aa"/>
<circle cx="487.4" cy="698.3" r="2.6" fill="#1f66aa"/>
<circle cx="488.9" cy="697.7" r="2.6" fill="#1f66aa"/>
<circle cx="490.4" cy="697.2" r="2.6" fill="#1f66aa"/>
<circle cx="491.8" cy="696.7" r="2.6" fill="#1f66aa"/>
<circle cx="493.2" cy="696.1" r="2.6" fill="#1f66aa"/>
<circle cx="494.5" cy="695.6" r="2.6" fill="#1f66aa"/>
<circle cx="495.9" cy="695.1" r="2.6" fill="#1f66aa"/>
<circle cx="497.1" cy="694.4" r="2.6" fill="#1f66aa"/>
<circle cx="498.4" cy="693.8" r="2.6" fill="#1f66aa"/>
<circle cx="499.6" cy="693.2" r="2.6" fill="#1f66aa"/>
<circle cx="500.8" cy="692.6" r="2.6" fill="#1f66aa"/>
<circle cx="502.0" cy="691.4" r="2.6" fill="#1f66aa"/>
<circle cx="503.1" cy="689.7" r="2.6" fill="#1f66aa"/>
<circle cx="504.2" cy="688.3" r="2.6" fill="#1f66aa"/>
<circle cx="505.3" cy="687.9" r="2.6" fill="#1f66aa"/>
<circle cx="506.4" cy="687.5" r="2.6" fill="#1f66aa"/>
<circle cx="507.5" cy="687.2" r="2.6" fill="#1f66aa"/>
<circle cx="508.6" cy="686.8" r="2.6" fill="#1f66aa"/>
<circle cx="509.6" cy="686.4" r="2.6" fill="#1f66aa"/>
<circle cx="510.6" cy="685.8" r="2.6" fill="#1f66aa"/>
<circle cx="511.6" cy="684.9" r="2.6" fill="#1f66aa"/>
<circle cx="512.6" cy="684.1" r="2.6" fill="#1f66aa"/>
<circle cx="513.6" cy="683.3" r="2.6" fill="#1f66aa"/>
<circle cx="514.6" cy="682.5" r="2.6" fill="#1f66aa"/>
<circle cx="515.6" cy="681.8" r="2.6" fill="#1f66aa"/>
<circle cx="516.5" cy="681.3" r="2.6" fill="#1f66aa"/>
<circle cx="517.5" cy="680.8" r="2.6" fill="#1f66aa"/>
<circle cx="518.4" cy="680.3" r="2.6" fill="#1f66aa"/>
<circle cx="519.4" cy="679.9" r="2.6" fill="#1f66aa"/>
<circle cx="520.3" cy="679.4" r="2.6" fill="#1f66aa"/>
<circle cx="521.2" cy="678.9" r="2.6" fill="#1f66aa"/>
<circle cx="522.1" cy="678.5" r="2.6" fill="#1f66aa"/>
<circle cx="523.0" cy="677.9" r="2.6" fill="#1f66aa"/>
<circle cx="523.9" cy="677.3" r="2.6" fill="#1f66aa"/>
<circle cx="524.8" cy="676.7" r="2.6" fill="#1f66aa"/>
<circle cx="525.7" cy="676.1" r="2.6" fill="#1f66aa"/>
<circle cx="526.6" cy="675.6" r="2.6" fill="#1f66aa"/>
<circle cx="527.5" cy="675.0" r="2.6" fill="#1f66aa"/>
<circle cx="528.4" cy="674.5" r="2.6" fill="#1f66aa"/>
<circle cx="529.2" cy="674.0" r="2.6" fill="#1f66aa"/>
<circle cx="530.1" cy="673.5" r="2.6" fill="#1f66aa"/>
<circle cx="531.0" cy="673.0" r="2.6" fill="#1f66aa"/>
<circle cx="531.8" cy="672.5" r="2.6" fill="#1f66aa"/>
<circle cx="532.7" cy="672.0" r="2.6" fill="#1f66aa"/>
<circle cx="533.6" cy="671.5" r="2.6" fill="#1f66aa"/>
<circle cx="534.4" cy="671.0" r="2.6" fill="#1f66aa"/>
<circle cx="535.3" cy="670.6" r="2.6" fill="#1f66aa"/>
<circle cx="536.2" cy="670.1" r="2.6" fill="#1f66aa"/>
<circle cx="537.0" cy="669.7" r="2.6" fill="#1f66aa"/>
<circle cx="537.9" cy="669.3" r="2.6" fill="#1f66aa"/>
<circle cx="538.7" cy="668.8" r="2.6" fill="#1f66aa"/>
<circle cx="539.6" cy="668.4" r="2.6" fill="#1f66aa"/>
<circle cx="540.5" cy="668.0" r="2.6" fill="#1f66aa"/>
<circle cx="541.3" cy="667.5" r="2.6" fill="#1f66aa"/>
<circle cx="542.2" cy="667.1" r="2.6" fill="#1f66aa"/>
<circle cx="543.1" cy="666.6" r="2.6" fill="#1f66aa"/>
<circle cx="543.9" cy="666.1" r="2.6" fill="#1f66aa"/>
<circle cx="544.8" cy="665.7" r="2.6" fill="#1f66aa"/>
<circle cx="545.7" cy="665.2" r="2.6" fill="#1f66aa"/>
<circle cx="546.5" cy="664.7" r="2.6" fill="#1f66aa"/>
<circle cx="547.4" cy="664.2" r="2.6" fill="#1f66aa"/>
<circle cx="548.3" cy="663.8" r="2.6" fill="#1f66aa"/>
<circle cx="549.2" cy="663.3" r="2.6" fill="#1f66aa"/>
<circle cx="550.1" cy="662.9" r="2.6" fill="#1f66aa"/>
<circle cx="551.0" cy="662.6" r="2.6" fill="#1f66aa"/>
<circle cx="551.9" cy="662.3" r="2.6" fill="#1f66aa"/>
<circle cx="552.8" cy="661.9" r="2.6" fill="#1f66aa"/>
<circle cx="553.7" cy="661.6" r="2.6" fill="#1f66aa"/>
<circle cx="554.6" cy="661.3" r="2.6" fill="#1f66aa"/>
<circle cx="555.5" cy="660.9" r="2.6" fill="#1f66aa"/>
<circle cx="556.5" cy="660.6" r="2.6" fill="#1f66aa"/>
<circle cx="557.4" cy="660.3" r="2.6" fill="#1f66aa"/>
<circle cx="558.4" cy="659.9" r="2.6" fill="#1f66aa"/>
<circle cx="559.3" cy="659.6" r="2.6" fill="#1f66aa"/>
<circle cx="560.3" cy="659.3" r="2.6" fill="#1f66aa"/>
<circle cx="561.3" cy="658.9" r="2.6" fill="#1f66aa"/>
<circle cx="562.3" cy="658.6" r="2.6" fill="#1f66aa"/>
<circle cx="563.3" cy="658.3" r="2.6" fill="#1f66aa"/>
<circle cx="564.3" cy="657.9" r="2.6" fill="#1f66aa"/>
<circle cx="565.3" cy="657.6" r="2.6" fill="#1f66aa"/>
<circle cx="566.3" cy="657.2" r="2.6" fill="#1f66aa"/>
<circle cx="567.4" cy="656.9" r="2.6" fill="#1f66aa"/>
<circle cx="568.5" cy="656.5" r="2.6" fill="#1f66aa"/>
<circle cx="569.6" cy="656.2" r="2.6" fill="#1f66aa"/>
<circle cx="570.7" cy="655.9" r="2.6" fill="#1f66aa"/>
<circle cx="571.8" cy="655.6" r="2.6" fill="#1f66aa"/>
<circle cx="572.9" cy="655.3" r="2.6" fill="#1f66aa"/>
<circle cx="574.1" cy="655.0" r="2.6" fill="#1f66aa"/>
<circle cx="575.3" cy="654.7" r="2.6" fill="#1f66aa"/>
<circle cx="576.5" cy="654.4" r="2.6" fill="#1f66aa"/>
<circle cx="577.8" cy="654.1" r="2.6" fill="#1f66aa"/>
<circle cx="579.0" cy="653.7" r="2.6" fill="#1f66aa"/>
<circle cx="580.4" cy="653.4" r="2.6" fill="#1f66aa"/>
<circle cx="581.7" cy="653.1" r="2.6" fill="#1f66aa"/>
<circle cx="583.1" cy="652.7" r="2.6" fill="#1f66aa"/>
<circle cx="584.5" cy="652.3" r="2.6" fill="#1f66aa"/>
<circle cx="586.0" cy="651.9" r="2.6" fill="#1f66aa"/>
<circle cx="587.5" cy="651.2" r="2.6" fill="#1f66aa"/>
<circle cx="589.1" cy="650.6" r="2.6" fill="#1f66aa"/>
<circle cx="590.8" cy="649.9" r="2.6" fill="#1f66aa"/>
<circle cx="592.5" cy="649.2" r="2.6" fill="#1f66aa"/>
<circle cx="594.3" cy="648.6" r="2.6" fill="#1f66aa"/>
<circle cx="596.2" cy="648.1" r="2.6" fill="#1f66aa"/>
<circle cx="598.2" cy="647.6" r="2.6" fill="#1f66aa"/>
<circle cx="600.3" cy="647.1" r="2.6" fill="#1f66aa"/>
<circle cx="602.6" cy="646.1" r="2.6" fill="#1f66aa"/>
<circle cx="605.0" cy="644.9" r="2.6" fill="#1f66aa"/>
<circle cx="607.6" cy="641.1" r="2.6" fill="#1f66aa"/>
<circle cx="610.5" cy="638.7" r="2.6" fill="#1f66aa"/>
<circle cx="613.8" cy="638.0" r="2.6" fill="#1f66aa"/>
<circle cx="617.4" cy="637.1" r="2.6" fill="#1f66aa"/>
<circle cx="621.6" cy="635.9" r="2.6" fill="#1f66aa"/>
<circle cx="626.7" cy="635.2" r="2.6" fill="#1f66aa"/>
<circle cx="633.2" cy="634.9" r="2.6" fill="#1f66aa"/>
<circle cx="642.5" cy="631.3" r="2.6" fill="#1f66aa"/>
<circle cx="660.5" cy="625.6" r="2.6" fill="#1f66aa"/>
</g>
<line x1="73.30" y1="47.50" x2="73.30" y2="233.80" stroke="#cccccc" stroke-width="1.2" />
<line x1="72.70" y1="233.20" x2="343.30" y2="233.20" stroke="#cccccc" stroke-width="1.2" />
<text x="68.00" y="229.40" font-size="12.0" fill="#7f7f7f" text-anchor="end" >0.00</text>
<text x="68.00" y="190.20" font-size="12.0" fill="#7f7f7f" text-anchor="end" >0.05</text>
<text x="68.00" y="151.00" font-size="12.0" fill="#7f7f7f" text-anchor="end" >0.10</text>
<text x="68.00" y="111.80" font-size="12.0" fill="#7f7f7f" text-anchor="end" >0.15</text>
<text x="68.00" y="72.60" font-size="12.0" fill="#7f7f7f" text-anchor="end" >0.20</text>
<text x="93.20" y="248.00" font-size="12.0" fill="#7f7f7f" text-anchor="middle" >0</text>
<text x="164.85" y="248.00" font-size="12.0" fill="#7f7f7f" text-anchor="middle" >5</text>
<text x="236.50" y="248.00" font-size="12.0" fill="#7f7f7f" text-anchor="middle" >10</text>
<text x="308.15" y="248.00" font-size="12.0" fill="#7f7f7f" text-anchor="middle" >15</text>
<line x1="402.00" y1="47.50" x2="402.00" y2="233.80" stroke="#cccccc" stroke-width="1.2" />
<line x1="401.40" y1="233.20" x2="672.60" y2="233.20" stroke="#cccccc" stroke-width="1.2" />
<text x="396.70" y="236.78" font-size="12.0" fill="#7f7f7f" text-anchor="end" >−7.5</text>
<text x="396.70" y="196.65" font-size="12.0" fill="#7f7f7f" text-anchor="end" >−5.0</text>
<text x="396.70" y="156.53" font-size="12.0" fill="#7f7f7f" text-anchor="end" >−2.5</text>
<text x="396.70" y="116.40" font-size="12.0" fill="#7f7f7f" text-anchor="end" >0.0</text>
<text x="396.70" y="76.27" font-size="12.0" fill="#7f7f7f" text-anchor="end" >2.5</text>
<text x="440.70" y="248.00" font-size="12.0" fill="#7f7f7f" text-anchor="middle" >6</text>
<text x="486.73" y="248.00" font-size="12.0" fill="#7f7f7f" text-anchor="middle" >7</text>
<text x="532.76" y="248.00" font-size="12.0" fill="#7f7f7f" text-anchor="middle" >8</text>
<text x="578.79" y="248.00" font-size="12.0" fill="#7f7f7f" text-anchor="middle" >9</text>
<text x="624.82" y="248.00" font-size="12.0" fill="#7f7f7f" text-anchor="middle" >10</text>
<text x="670.85" y="248.00" font-size="12.0" fill="#7f7f7f" text-anchor="middle" >11</text>
<line x1="73.30" y1="334.25" x2="73.30" y2="520.80" stroke="#cccccc" stroke-width="1.2" />
<line x1="72.70" y1="520.20" x2="343.90" y2="520.20" stroke="#cccccc" stroke-width="1.2" />
<text x="68.00" y="482.10" font-size="12.0" fill="#7f7f7f" text-anchor="end" >0.5</text>
<text x="68.00" y="434.90" font-size="12.0" fill="#7f7f7f" text-anchor="end" >1.0</text>
<text x="68.00" y="387.70" font-size="12.0" fill="#7f7f7f" text-anchor="end" >1.5</text>
<text x="68.00" y="340.50" font-size="12.0" fill="#7f7f7f" text-anchor="end" >2.0</text>
<text x="112.00" y="535.00" font-size="12.0" fill="#7f7f7f" text-anchor="middle" >6</text>
<text x="157.92" y="535.00" font-size="12.0" fill="#7f7f7f" text-anchor="middle" >7</text>
<text x="203.84" y="535.00" font-size="12.0" fill="#7f7f7f" text-anchor="middle" >8</text>
<text x="249.76" y="535.00" font-size="12.0" fill="#7f7f7f" text-anchor="middle" >9</text>
<text x="295.68" y="535.00" font-size="12.0" fill="#7f7f7f" text-anchor="middle" >10</text>
<text x="341.60" y="535.00" font-size="12.0" fill="#7f7f7f" text-anchor="middle" >11</text>
<line x1="402.50" y1="334.25" x2="402.50" y2="520.80" stroke="#cccccc" stroke-width="1.2" />
<line x1="401.90" y1="520.20" x2="672.80" y2="520.20" stroke="#cccccc" stroke-width="1.2" />
<text x="397.20" y="515.95" font-size="12.0" fill="#7f7f7f" text-anchor="end" >−20</text>
<text x="397.20" y="474.05" font-size="12.0" fill="#7f7f7f" text-anchor="end" >−10</text>
<text x="397.20" y="432.15" font-size="12.0" fill="#7f7f7f" text-anchor="end" >0</text>
<text x="397.20" y="390.25" font-size="12.0" fill="#7f7f7f" text-anchor="end" >10</text>
<text x="397.20" y="348.35" font-size="12.0" fill="#7f7f7f" text-anchor="end" >20</text>
<text x="414.65" y="535.00" font-size="12.0" fill="#7f7f7f" text-anchor="middle" >0.00</text>
<text x="505.95" y="535.00" font-size="12.0" fill="#7f7f7f" text-anchor="middle" >0.05</text>
<text x="597.25" y="535.00" font-size="12.0" fill="#7f7f7f" text-anchor="middle" >0.10</text>
<line x1="73.30" y1="603.75" x2="73.30" y2="789.85" stroke="#cccccc" stroke-width="1.2" />
<line x1="72.70" y1="789.25" x2="343.90" y2="789.25" stroke="#cccccc" stroke-width="1.2" />
<text x="68.00" y="793.90" font-size="12.0" fill="#7f7f7f" text-anchor="end" >1</text>
<text x="68.00" y="741.31" font-size="12.0" fill="#7f7f7f" text-anchor="end" >2</text>
<text x="68.00" y="710.55" font-size="12.0" fill="#7f7f7f" text-anchor="end" >3</text>
<text x="68.00" y="671.79" font-size="12.0" fill="#7f7f7f" text-anchor="end" >5</text>
<text x="68.00" y="619.20" font-size="12.0" fill="#7f7f7f" text-anchor="end" >10</text>
<line x1="402.50" y1="603.75" x2="402.50" y2="789.85" stroke="#cccccc" stroke-width="1.2" />
<line x1="401.90" y1="789.25" x2="672.70" y2="789.25" stroke="#cccccc" stroke-width="1.2" />
<text x="397.20" y="786.90" font-size="12.0" fill="#7f7f7f" text-anchor="end" >−4</text>
<text x="397.20" y="733.30" font-size="12.0" fill="#7f7f7f" text-anchor="end" >−2</text>
<text x="397.20" y="679.70" font-size="12.0" fill="#7f7f7f" text-anchor="end" >0</text>
<text x="397.20" y="626.10" font-size="12.0" fill="#7f7f7f" text-anchor="end" >2</text>
<text x="445.49" y="804.05" font-size="12.0" fill="#7f7f7f" text-anchor="middle" >−2</text>
<text x="491.47" y="804.05" font-size="12.0" fill="#7f7f7f" text-anchor="middle" >−1</text>
<text x="537.45" y="804.05" font-size="12.0" fill="#7f7f7f" text-anchor="middle" >0</text>
<text x="583.43" y="804.05" font-size="12.0" fill="#7f7f7f" text-anchor="middle" >1</text>
<text x="629.41" y="804.05" font-size="12.0" fill="#7f7f7f" text-anchor="middle" >2</text>
<text x="123.60" y="803.05" font-size="12.0" fill="#7f7f7f" text-anchor="middle" >Frequency.Applications</text>
<text x="208.40" y="803.05" font-size="12.0" fill="#7f7f7f" text-anchor="middle" >Frequency.Assignment</text>
<text x="292.50" y="803.05" font-size="12.0" fill="#7f7f7f" text-anchor="middle" >Frequency.La_types</text>
<text x="208.30" y="265.00" font-size="13.2" fill="#4d4d4d" text-anchor="middle" >Final_grade</text>
<text x="537.30" y="265.00" font-size="13.2" fill="#4d4d4d" text-anchor="middle" >Fitted values</text>
<text x="208.60" y="552.90" font-size="13.2" fill="#4d4d4d" text-anchor="middle" >Fitted values</text>
<text x="537.65" y="552.70" font-size="13.2" fill="#4d4d4d" text-anchor="middle" >Leverage (h<tspan font-size="9" dy="2">ii</tspan><tspan dy="-2">)</tspan></text>
<text x="537.60" y="821.30" font-size="13.2" fill="#4d4d4d" text-anchor="middle" >Standard Normal Distribution Quantiles</text>
<text x="0.00" y="0.00" font-size="13.2" fill="#4d4d4d" text-anchor="middle" transform="translate(28.80,140.35) rotate(-90)">Density</text>
<text x="0.00" y="0.00" font-size="13.2" fill="#4d4d4d" text-anchor="middle" transform="translate(365.10,140.35) rotate(-90)">Residuals</text>
<text x="0.00" y="0.00" font-size="13.2" fill="#4d4d4d" text-anchor="middle" transform="translate(29.3,423.2) rotate(-90)">IStd. residualsI</text>
<polyline points="16.35,380.3 16.35,468.4 32.3,470.8" fill="none" stroke="#4d4d4d" stroke-width="1.1"/>
<polyline points="32.3,470.8 26.0,472.6 26.4,474.4" fill="none" stroke="#4d4d4d" stroke-width="1.5"/>
<text x="0.00" y="0.00" font-size="13.2" fill="#4d4d4d" text-anchor="middle" transform="translate(365.35,427.23) rotate(-90)">Std. Residuals</text>
<text x="0.00" y="0.00" font-size="13.2" fill="#4d4d4d" text-anchor="middle" transform="translate(21.70,698.40) rotate(-90)" textLength="104.0" lengthAdjust="spacingAndGlyphs">Variance Inflation</text>
<text x="0.00" y="0.00" font-size="13.2" fill="#4d4d4d" text-anchor="middle" transform="translate(35.60,696.20) rotate(-90)">Factor (VIF, log−scaled)</text>
<text x="0.00" y="0.00" font-size="13.2" fill="#4d4d4d" text-anchor="middle" transform="translate(365.35,696.50) rotate(-90)">Sample Quantiles</text>
<line x1="91.00" y1="283.50" x2="107.60" y2="283.50" stroke="#3aaf85" stroke-width="2.0" stroke-opacity="0.85"/>
<text x="111.80" y="287.60" font-size="11.9" fill="#4d4d4d" text-anchor="start" >Observed data</text>
<line x1="193.50" y1="283.50" x2="210.20" y2="283.50" stroke="#1b6ca8" stroke-width="2.0" stroke-opacity="0.85"/>
<text x="215.00" y="287.60" font-size="11.9" fill="#4d4d4d" text-anchor="start" >Model−predicted data</text>
<line x1="183.30" y1="832.00" x2="183.30" y2="848.60" stroke="#3aaf85" stroke-width="2.2" />
<circle cx="183.3" cy="840" r="4" fill="#3aaf85"/>
<text x="196.40" y="844.40" font-size="11.9" fill="#4d4d4d" text-anchor="start" >Low (&lt; 5)</text></svg></body></html>
